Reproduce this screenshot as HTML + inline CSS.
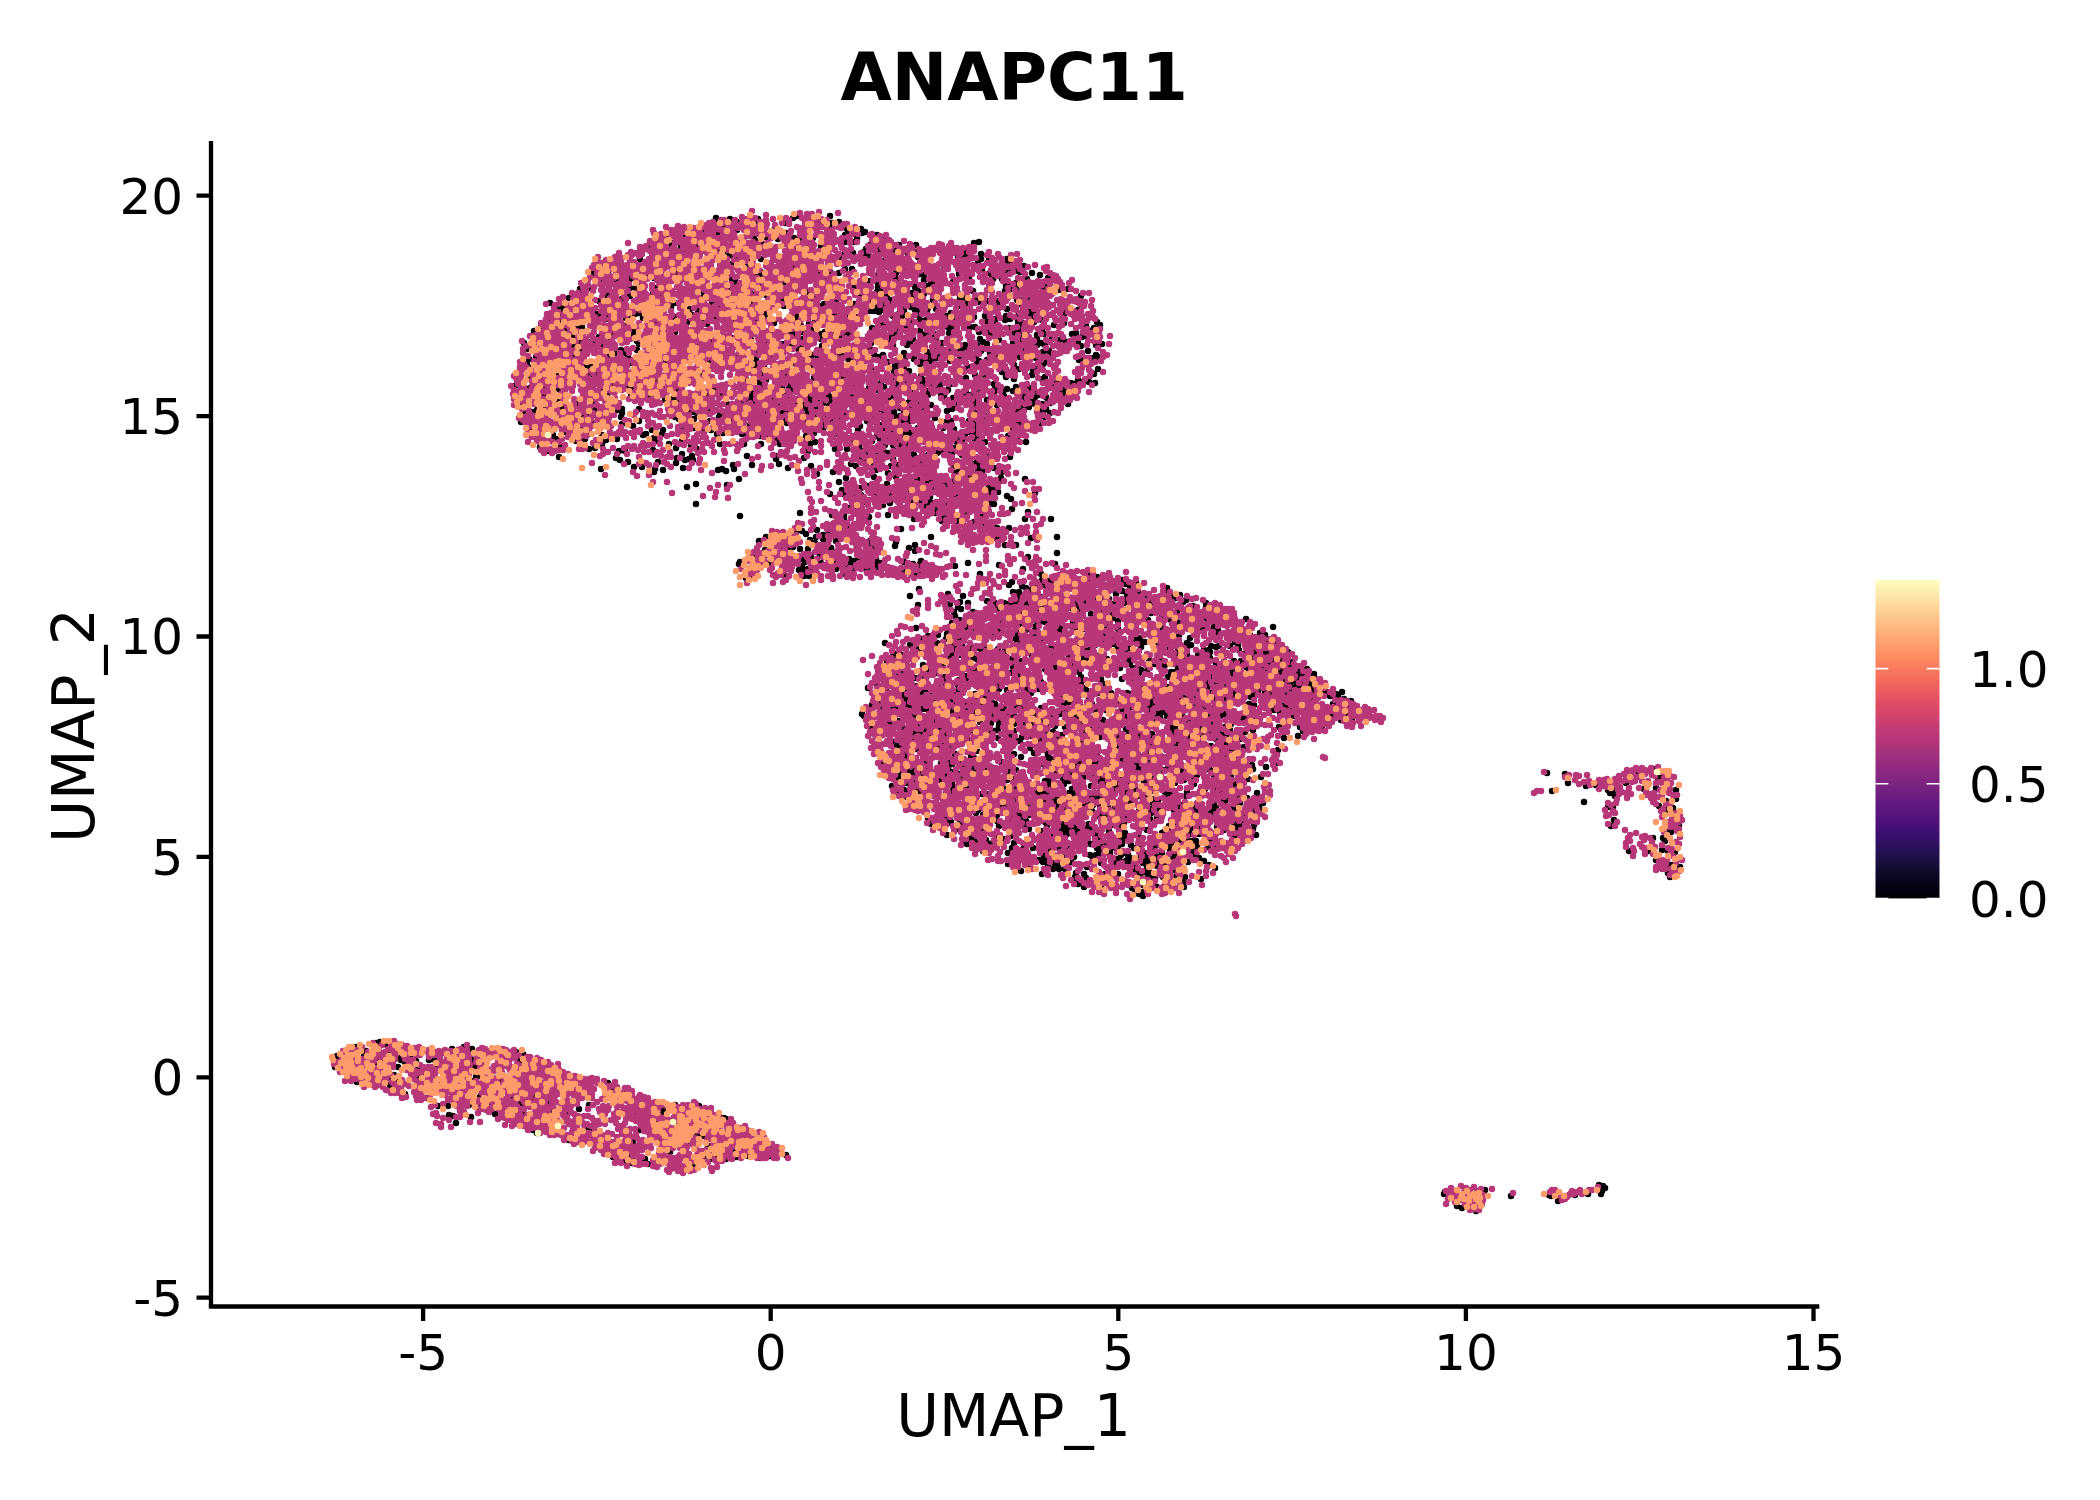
<!DOCTYPE html>
<html lang="en">
<head>
<meta charset="utf-8">
<title>ANAPC11 UMAP feature plot</title>
<style>
html,body{margin:0;padding:0;background:#fff;}
body{width:2100px;height:1500px;overflow:hidden;}
svg{display:block;}
text{font-family:"DejaVu Sans","Liberation Sans",sans-serif;fill:#000;}
.tk{font-size:50px;}
.ax{font-size:58.4px;}
.ttl{font-size:66.3px;font-weight:bold;}
.pt{fill:none;stroke-linecap:round;stroke-width:6.5;}
</style>
</head>
<body>
<svg width="2100" height="1500" viewBox="0 0 2100 1500">
<defs>
<linearGradient id="mg" x1="0" y1="1" x2="0" y2="0">
<stop offset="0" stop-color="#000004"/>
<stop offset="0.05" stop-color="#06051a"/>
<stop offset="0.1" stop-color="#140e36"/>
<stop offset="0.15" stop-color="#251255"/>
<stop offset="0.2" stop-color="#3b0f70"/>
<stop offset="0.25" stop-color="#51127c"/>
<stop offset="0.3" stop-color="#641a80"/>
<stop offset="0.35" stop-color="#782281"/>
<stop offset="0.4" stop-color="#8c2981"/>
<stop offset="0.45" stop-color="#a1307e"/>
<stop offset="0.5" stop-color="#b73779"/>
<stop offset="0.55" stop-color="#ca3e72"/>
<stop offset="0.6" stop-color="#de4968"/>
<stop offset="0.65" stop-color="#ed5a5f"/>
<stop offset="0.7" stop-color="#f7705c"/>
<stop offset="0.75" stop-color="#fc8961"/>
<stop offset="0.8" stop-color="#fe9f6d"/>
<stop offset="0.85" stop-color="#feb77e"/>
<stop offset="0.9" stop-color="#fecf92"/>
<stop offset="0.95" stop-color="#fde7a9"/>
<stop offset="1" stop-color="#fcfdbf"/>
</linearGradient>
</defs>
<rect x="0" y="0" width="2100" height="1500" fill="#fff"/>
<!-- title -->
<text class="ttl" x="1014.2" y="100" text-anchor="middle">ANAPC11</text>
<!-- points -->
<g id="points">
<path class="pt" stroke="#000004" d="M707 227h0m5 0h0m4-9h0m0 4h0m7 4h0m7-7h0m7 3h0m11 3h0m8-1h0m2-5h0m27 4h0m8-5h0m4-2h0m24 6h0m9-6h0m2 7h0m0 3h0m7-4h0m45 17h0m-7-4h0m-12-3h0m-3 1h0m-1-4h0m-4 9h0m-9-5h0m-1-4h0m-2 6h0m-15-7h0m-17 10h0m-13 1h0m-6-1h0m-8-5h0m-5 1h0m-3 5h0m-4-9h0m-8 7h0m-12-1h0m-17-6h0m-17 2h0m0 3h0m-3 0h0m-12-3h0m-8 2h0m-13 1h0m-2 0h0m-4 3h0m-10-4h0m-2 3h0m-23 11h0m7-4h0m0 2h0m3-5h0m2 2h0m3 5h0m3 2h0m3-5h0m4 2h0m3-1h0m1-3h0m8 7h0m1-4h0m3-6h0m0 10h0m7 1h0m7-5h0m5-5h0m3 7h0m12 2h0m33-4h0m5-5h0m5 2h0m34 3h0m26 0h0m24-4h0m9 0h0m12 7h0m4-4h0m8 3h0m1 3h0m15-1h0m1-2h0m4-3h0m17 0h0m24 6h0m24 0h0m10-8h0m5-1h0m28 17h0m-18 0h0m-8-5h0m0 5h0m-3 2h0m-11-7h0m-1 8h0m-3-6h0m-3 2h0m-2-1h0m-35 1h0m-5-6h0m0 5h0m-3-5h0m-7 2h0m-6 7h0m-5 2h0m-13-2h0m-15-5h0m-5-4h0m0 4h0m-11-3h0m-10 2h0m-1 3h0m-2 3h0m-29-7h0m-1 9h0m-6-4h0m-43 0h0m-13-1h0m-9 1h0m-6-3h0m-5 0h0m-3-4h0m-5 0h0m-33 6h0m-2-6h0m-45 7h0m-35 3h0m-12 9h0m4-1h0m7 2h0m4-8h0m0 9h0m22-6h0m6 0h0m41 7h0m55-10h0m15 3h0m1-2h0m2 8h0m9 1h0m2-2h0m32-5h0m4-3h0m8 1h0m7 3h0m8 4h0m6-2h0m4 2h0m9 1h0m6-4h0m7 0h0m26 6h0m10-11h0m8 6h0m0 3h0m8-3h0m7-1h0m5 4h0m4 1h0m4 1h0m8-8h0m12 1h0m15 6h0m23-4h0m8 3h0m15 0h0m3-9h0m1 5h0m3 0h0m1-5h0m4 5h0m1 2h0m2 1h0m4-6h0m8 7h0m8 2h0m12 3h0m-4 0h0m-3 8h0m-18-7h0m-7 2h0m-4 2h0m-4 4h0m-3-2h0m-3 1h0m-4-7h0m-9 0h0m-1-2h0m-23 1h0m-16 4h0m-16-2h0m-2 3h0m-4 0h0m-4 3h0m-3-6h0m-9 7h0m-19-8h0m-18 4h0m0 4h0m-9-6h0m-16 5h0m-28-7h0m-28 0h0m-5 1h0m-8 5h0m-2-3h0m-16 4h0m-5-10h0m-1 10h0m-6-10h0m-18 6h0m-3 4h0m-1-7h0m-13 5h0m-52-7h0m-6 7h0m-7-6h0m-7-1h0m-7 8h0m-10-6h0m-10 6h0m-2-5h0m-4 1h0m-4-2h0m-8 2h0m-2-2h0m-7-2h0m-24 21h0m11-9h0m2 5h0m8-6h0m16 7h0m5 0h0m11 4h0m8-11h0m0 8h0m6-8h0m17 6h0m2-6h0m5 7h0m7-5h0m29-1h0m6 2h0m2 4h0m7-3h0m2 5h0m17-6h0m2 5h0m18-4h0m4 3h0m12 0h0m17 3h0m4-6h0m17 7h0m3-7h0m7 5h0m43-9h0m3 3h0m1 4h0m3-7h0m13 4h0m5-1h0m3 4h0m2 2h0m2-7h0m12-2h0m8 5h0m3 0h0m1 4h0m5-6h0m6 3h0m36 4h0m4 0h0m9-7h0m5 6h0m27-6h0m6-2h0m5-1h0m12 11h0m15-10h0m1 9h0m15-8h0m9-1h0m13 7h0m-3 14h0m-11 0h0m-22-6h0m-15 5h0m-7 2h0m-2-11h0m-1 4h0m-3-4h0m-10 9h0m-8-5h0m-1-3h0m-10 0h0m-9 1h0m-4-2h0m-7 3h0m-2-2h0m0 5h0m-8 0h0m-22 3h0m-3-9h0m-5 8h0m-1 3h0m-8 0h0m-2-2h0m-2 1h0m-4-3h0m-1-4h0m-6 5h0m-12-8h0m-2 4h0m-5 2h0m-1-3h0m-2 7h0m-5-3h0m-3 4h0m-4-11h0m0 11h0m-11-2h0m-5-5h0m-3 2h0m-15-4h0m-8 2h0m-4 0h0m-2 2h0m-1 2h0m-10-8h0m-6 10h0m-21-4h0m-2-5h0m-17 10h0m-14-8h0m-18 7h0m-5-1h0m-10-2h0m-6-3h0m-14 6h0m-8-1h0m-15-6h0m-4 1h0m0 4h0m-1-7h0m-13 6h0m-54-3h0m-4-3h0m-19 4h0m-5 0h0m-12 2h0m-6 2h0m-7-6h0m1 18h0m9 0h0m2-8h0m10 7h0m25-6h0m2 2h0m7 3h0m2-3h0m18 2h0m3 0h0m6-4h0m4-1h0m4 5h0m12 3h0m20-4h0m13 5h0m4-7h0m13 5h0m9-3h0m3 1h0m15 3h0m24 0h0m9-6h0m9 8h0m15 0h0m7-8h0m0 5h0m3-7h0m16 7h0m20-4h0m13 0h0m9 0h0m2 1h0m20-5h0m14 4h0m6-2h0m3 2h0m2-4h0m7 10h0m8-6h0m1 4h0m6 0h0m20 0h0m1-4h0m1 2h0m3-5h0m1 8h0m2-3h0m17-6h0m3 5h0m11-1h0m2 6h0m8-3h0m0 4h0m10-3h0m1-4h0m4 3h0m8-3h0m0 5h0m3 1h0m9-6h0m2-3h0m1 6h0m1 3h0m1-10h0m7 8h0m22 3h0m1-10h0m32 9h0m3 3h0m-5 8h0m-1-5h0m-4 3h0m-4-5h0m-10 7h0m-4 1h0m-18-9h0m-10 9h0m-2-3h0m-5 4h0m-9-7h0m-1 3h0m-5-5h0m-1 9h0m-2-4h0m-1-6h0m-3 5h0m-3 3h0m-3-5h0m-19-1h0m0 8h0m-1-5h0m-10 2h0m-4-5h0m-5 0h0m-18 2h0m-2-5h0m-1 9h0m-1-6h0m-14 7h0m-8 0h0m-6-3h0m-12-3h0m-4 1h0m-7 0h0m-2 4h0m-2 2h0m-3 0h0m-4-10h0m-5 0h0m-9 3h0m-20 0h0m-2 5h0m-3 2h0m-2-10h0m-12 8h0m-8-1h0m-4 2h0m-8-6h0m0 3h0m-4-7h0m-6 8h0m-2-6h0m-6 5h0m-1 3h0m-5 0h0m-16 0h0m-66-10h0m-19 11h0m-2-3h0m-11 0h0m-27 3h0m-14-1h0m-1-4h0m-1-3h0m-1 8h0m-4-10h0m-1 5h0m-7 2h0m-6 3h0m-7-2h0m-24-6h0m-5 2h0m-12 0h0m-9-4h0m0 9h0m-6-2h0m-2-1h0m-2-7h0m-5 3h0m-7 4h0m-10 12h0m14 1h0m12-1h0m11-6h0m11 9h0m1-9h0m1 10h0m3-3h0m3-1h0m2-3h0m6 2h0m6 1h0m5-6h0m2 9h0m7-7h0m25-1h0m4 3h0m2 3h0m18-3h0m39 3h0m15-3h0m21-3h0m19 2h0m15 2h0m16 2h0m10 1h0m9 0h0m1-6h0m19 0h0m1 7h0m10-9h0m9 0h0m30 6h0m18-3h0m4 5h0m14 0h0m3-3h0m3-3h0m10-3h0m13 4h0m6 3h0m11 4h0m12-2h0m12 0h0m3-6h0m3 3h0m4 2h0m12-4h0m14 3h0m1-7h0m8 5h0m11 2h0m4-4h0m0 6h0m4-2h0m4 2h0m7-6h0m8 1h0m4 1h0m11-5h0m3 7h0m3 3h0m1-9h0m5-1h0m9 9h0m6-1h0m-4 13h0m-2-2h0m-3 3h0m-5-7h0m-36 4h0m-3-4h0m-6 1h0m-7 6h0m-14-8h0m-2 7h0m-2-3h0m-7-5h0m-1 4h0m-12 2h0m-8-2h0m-9-2h0m-5 5h0m-9-8h0m-3 1h0m-4 9h0m-1-9h0m-9 1h0m-10 5h0m-1-6h0m-1 9h0m-3-9h0m-2 10h0m-3-3h0m-3-4h0m-13 7h0m-9 0h0m-1-6h0m-21 2h0m-4 2h0m-5-3h0m-4-5h0m-3 1h0m-1 9h0m-15-8h0m0 7h0m-3 0h0m-4-10h0m-1 7h0m-3-6h0m0 5h0m-16-3h0m-6 7h0m-6-3h0m-1 4h0m-1-2h0m-11-7h0m-28 7h0m-15-6h0m0 8h0m-19-3h0m-15-1h0m-20-2h0m-16-3h0m-30-1h0m-2 2h0m-17-1h0m-9 7h0m-5-4h0m-2-3h0m-6 3h0m-6 4h0m-5-4h0m-24-1h0m-5 3h0m-22 4h0m-10-8h0m-7 6h0m-7 2h0m-2-10h0m0 15h0m6 3h0m18-1h0m15-6h0m6 1h0m14 6h0m5-2h0m11 1h0m7-6h0m7 8h0m7 1h0m8-6h0m34 5h0m1-7h0m14 3h0m28-3h0m47 7h0m1-5h0m8 4h0m23 2h0m7-6h0m9-1h0m8 3h0m20 3h0m18-7h0m4-1h0m3 6h0m2-3h0m4-2h0m11 9h0m15-8h0m5 7h0m2-3h0m3 2h0m1-5h0m5 6h0m5 2h0m11-7h0m1-4h0m5 1h0m3 3h0m3-2h0m18-1h0m16 8h0m2-2h0m9-3h0m2-3h0m8-1h0m4 0h0m23 5h0m5 4h0m14 2h0m3-2h0m7-5h0m4-2h0m32-2h0m3 0h0m16 9h0m-3 14h0m-1-9h0m-5 8h0m-6 0h0m-5-2h0m-1 3h0m-6 0h0m-13-2h0m-4 1h0m-9-5h0m-3 2h0m-10-4h0m-18 4h0m-8-2h0m-1-5h0m-3 0h0m-17 3h0m-8 6h0m-2-6h0m-9 3h0m-24 5h0m-18 0h0m-1-3h0m-2-4h0m0 7h0m-17-1h0m-3-8h0m-3 7h0m-3-1h0m-1-6h0m-13 9h0m-22-7h0m-12 7h0m-4-6h0m-2-3h0m-1 3h0m-6 3h0m-10-4h0m-3-2h0m-7 4h0m-13-1h0m-13 6h0m-2-7h0m-2-2h0m-3-2h0m-15 8h0m-3-7h0m-1 9h0m-4-1h0m-8-9h0m-4 7h0m-45-5h0m-14 4h0m-9-2h0m-19 5h0m-3-2h0m-1 3h0m-2 1h0m-5-4h0m-8 4h0m-26-6h0m-3 0h0m-5 3h0m-4 1h0m-5-8h0m-8 2h0m-6 3h0m-3-2h0m-22-2h0m-2 8h0m-14-4h0m-13-1h0m-14 9h0m15 2h0m11 1h0m2-1h0m1 7h0m4 0h0m10-6h0m43 2h0m3-1h0m4 3h0m6-7h0m8-1h0m5 0h0m4 4h0m0 5h0m3-7h0m30-1h0m1 8h0m11-5h0m26 4h0m4-3h0m2 4h0m7-5h0m7 4h0m18-7h0m13 6h0m4-1h0m3-6h0m0 9h0m11-3h0m8 1h0m3-4h0m1 5h0m2-1h0m1 2h0m3-7h0m3 4h0m22 4h0m4-3h0m10 2h0m7-8h0m7 5h0m4-5h0m4 4h0m4-4h0m2 2h0m3 6h0m7 0h0m2-2h0m1-4h0m9 2h0m6-3h0m12-3h0m13 4h0m2 6h0m3-3h0m12 2h0m2-2h0m0 4h0m4-11h0m5 2h0m2-2h0m1 3h0m1 7h0m7-4h0m3-6h0m15 9h0m5 2h0m6-5h0m4-6h0m13 0h0m0 9h0m1-4h0m8 3h0m4-3h0m6 2h0m3-4h0m14 1h0m6 5h0m2 2h0m17-11h0m7 7h0m2-5h0m0 9h0m2-5h0m2 14h0m-18-1h0m-2-2h0m-2-4h0m-3 7h0m-8-7h0m0 7h0m-2-5h0m-4 8h0m-3 0h0m-2-5h0m-1-6h0m-1 11h0m-18-11h0m-7 9h0m-6-7h0m-4 2h0m-12 1h0m0 5h0m-9-10h0m-7 4h0m-4 5h0m-2-7h0m-9-2h0m-13 9h0m-10-1h0m-4-1h0m-7-2h0m0 6h0m-2-4h0m-16-7h0m-4 3h0m-16 0h0m-7 0h0m-12-3h0m-16 11h0m-6-6h0m-1-4h0m-1 9h0m-3-10h0m-3 7h0m-5 3h0m-1-4h0m-6-4h0m-1 2h0m-2-4h0m-5 6h0m-6 2h0m-9-5h0m-2 1h0m-4-4h0m-5 9h0m-5-8h0m0 3h0m-5-1h0m-4 7h0m-9-9h0m0 10h0m-1-5h0m-2-2h0m-2-4h0m-1 4h0m0 6h0m-5-4h0m-16 2h0m-29 3h0m-7-3h0m-15-4h0m-3-1h0m-8 1h0m-15-4h0m-56 7h0m-18 0h0m-18-1h0m-12 5h0m-4-1h0m-10-8h0m-12 6h0m-3 1h0m8 7h0m7 0h0m5-2h0m22 0h0m0 8h0m3-10h0m20 9h0m7 0h0m5-7h0m2 0h0m0 5h0m21-5h0m4 7h0m1-8h0m0 4h0m17-4h0m36 8h0m4 2h0m4-10h0m7 1h0m4 2h0m0 7h0m4-5h0m3 0h0m8-6h0m10 9h0m1-4h0m4 0h0m7 6h0m19-8h0m3 5h0m1 2h0m11-5h0m0 4h0m15-4h0m4-2h0m5 2h0m16-5h0m3 1h0m0 4h0m7-4h0m1 6h0m7 4h0m3-3h0m20-1h0m9 2h0m18 0h0m7-7h0m0 2h0m3 2h0m11-2h0m2 5h0m4-9h0m0 8h0m2 2h0m2-5h0m1-3h0m2 6h0m3 0h0m13-7h0m4 7h0m8 2h0m12-7h0m5-2h0m24 2h0m8 8h0m1-3h0m32-4h0m3-2h0m21-1h0m2 3h0m2 5h0m1-8h0m4 4h0m-11 11h0m-18-1h0m-4-2h0m-5 6h0m-5-6h0m-24 1h0m-7 7h0m-2-7h0m0 5h0m-5-6h0m-15 8h0m-3-8h0m-5 1h0m-3 6h0m-15-1h0m-5-1h0m-5 2h0m-9-7h0m-4-1h0m-4 3h0m-8 8h0m-1-10h0m-8 7h0m-2-3h0m-15-4h0m-7 5h0m-2 4h0m-1-9h0m-16-1h0m-10 1h0m-7 1h0m0 4h0m-1 3h0m-11-7h0m-7 0h0m-18 1h0m-3-3h0m-12 4h0m-19 7h0m-3-6h0m-10-5h0m-10 11h0m-19-1h0m-1-9h0m-5 9h0m-11-2h0m-12 1h0m-19 1h0m-11 0h0m-2-7h0m-11-2h0m-6 5h0m-11-2h0m-30-1h0m-10 6h0m-40-4h0m-6 4h0m-7 1h0m-1-5h0m-7-3h0m31 18h0m1-5h0m3 4h0m0 3h0m8-10h0m12 9h0m9-2h0m4-5h0m13 1h0m4 5h0m11-1h0m26-4h0m3-1h0m8 4h0m3 3h0m5-7h0m20 7h0m35-7h0m6-1h0m19 1h0m2-1h0m3 1h0m13 2h0m7 1h0m10 2h0m3-5h0m26 2h0m2 6h0m6-9h0m1 9h0m21-8h0m17 6h0m19 1h0m5-5h0m3 3h0m7-2h0m2 3h0m8 0h0m6-5h0m3-2h0m2 10h0m1-11h0m3 2h0m13 5h0m2-5h0m15 2h0m15 6h0m1-4h0m4 3h0m3-7h0m5-2h0m4 0h0m1 9h0m2-3h0m8 4h0m23-6h0m6-4h0m3 7h0m9 3h0m-45 7h0m-3-5h0m-6 4h0m-10-2h0m0 9h0m-7-7h0m-2 4h0m-4 0h0m-6 0h0m-3-1h0m-3 2h0m-3 2h0m-6 0h0m-14 0h0m-3-2h0m-7-1h0m-1-7h0m-3-1h0m0 3h0m-4 4h0m-3-6h0m-5 8h0m-3-8h0m-1 7h0m-3-6h0m-4 7h0m-10 0h0m-7-3h0m-1-4h0m-12 3h0m-12 0h0m-25-5h0m-2 7h0m-28-7h0m-19 0h0m-17 0h0m-24 0h0m-23 5h0m-6-4h0m-9 9h0m-6-6h0m-7-4h0m-16 6h0m-28 1h0m-6 0h0m-17-7h0m-7 4h0m-6 1h0m-29-3h0m-12 5h0m-3-7h0m-5 3h0m19 10h0m57 1h0m4 2h0m8 2h0m6 5h0m8 0h0m16-5h0m18 1h0m1-5h0m8 2h0m4-1h0m3-3h0m1 4h0m40 5h0m14-9h0m5 9h0m24-9h0m0 3h0m3 5h0m25-6h0m7 8h0m40-2h0m5 2h0m5-8h0m4 3h0m8 6h0m1-4h0m4-7h0m13 10h0m2-7h0m4 6h0m17 1h0m7-5h0m1 2h0m12 1h0m20 2h0m13-7h0m7 5h0m3-2h0m0 4h0m2 0h0m6-7h0m2-3h0m23 1h0m15 22h0m-23-7h0m-1 6h0m-7-10h0m-11 2h0m-3-1h0m-2 3h0m-6-4h0m-1 9h0m-5-1h0m-7-7h0m-4 4h0m-27 3h0m-3-8h0m-11 0h0m-18 9h0m-8-4h0m-12-3h0m-2 7h0m-28 1h0m-13-6h0m-16 2h0m-29-6h0m-49 11h0m-5-10h0m-8 2h0m-4-2h0m-4 1h0m-35-2h0m-20 2h0m-8-1h0m-1 3h0m-53-3h0m86 18h0m9-3h0m31 1h0m112-3h0m3 8h0m19-2h0m7-2h0m19-2h0m19 0h0m4 0h0m7-4h0m3 0h0m6 2h0m4 0h0m3 7h0m1-3h0m12-1h0m1-3h0m5 0h0m3 1h0m8-3h0m6 0h0m9 9h0m10 1h0m1-4h0m4 3h0m7-8h0m35 12h0m-24 6h0m-4-3h0m-9-4h0m-8 3h0m-1 6h0m-11-9h0m0 8h0m-15-4h0m0 3h0m-6-3h0m-11 7h0m-15 0h0m-1-6h0m-2 6h0m-8 0h0m-9-2h0m-4-9h0m-2 5h0m-13-3h0m-2 9h0m-6-10h0m-7 3h0m-1-3h0m-2 2h0m-8 7h0m-5-7h0m-3 7h0m-5-6h0m-10-2h0m-13 0h0m-134 10h0m104 9h0m32 2h0m12 0h0m4-7h0m5-3h0m4 4h0m22-5h0m4 1h0m5 10h0m37-9h0m10 7h0m2-6h0m7 8h0m21-2h0m17 2h0m1-9h0m7-2h0m4 0h0m18 5h0m16 3h0m23 7h0m-26 0h0m-31 8h0m-11-1h0m-9-4h0m-2 2h0m-13-5h0m-2 5h0m-15-3h0m-28-2h0m-45-2h0m-20 10h0m-5-8h0m-104-3h0m26 21h0m30-5h0m6-1h0m4 3h0m10 3h0m1-7h0m6 5h0m0 4h0m6-6h0m14-5h0m58 1h0m30 8h0m53 2h0m12-1h0m1-10h0m1 10h0m11-10h0m22 10h0m26-1h0m-41 8h0m-11 0h0m-90 0h0m0 6h0m-6-3h0m-13-6h0m-1 4h0m-21 2h0m-3-2h0m-1-5h0m-13 6h0m-21-6h0m-5 7h0m-6-6h0m-10 1h0m-5-3h0m-2 9h0m-8 0h0m-7-2h0m-5 0h0m-1-2h0m-5 4h0m-17 1h0m-6-9h0m-19 21h0m11-7h0m5 0h0m12 8h0m8-3h0m26-1h0m3 3h0m6-5h0m9-2h0m1 8h0m14-2h0m14-2h0m4 2h0m5-1h0m15-3h0m3 2h0m0 4h0m4 0h0m24-1h0m17-1h0m47 2h0m60-6h0m29-4h0m-2 11h0m-14 10h0m-18-5h0m-24-4h0m-19 9h0m-25-8h0m-26 2h0m-8 0h0m-1-4h0m-1 8h0m-1 2h0m-4 1h0m-1-11h0m-9 8h0m-27-5h0m-2 4h0m-7-2h0m-4-1h0m-10 0h0m-4-3h0m-5 1h0m0 8h0m-9-5h0m-24 0h0m-4 0h0m-1 5h0m-2-3h0m-2 2h0m-1-7h0m-3 4h0m-60-6h0m7 14h0m5-2h0m34 0h0m19 0h0m5 0h0m200 9h0m3-3h0m10 4h0m13 0h0m7-6h0m1 5h0m5-4h0m4 2h0m10 2h0m7-6h0m5 2h0m11 0h0m3-5h0m1 3h0m3-3h0m5 1h0m6 10h0m13-5h0m6-2h0m1 3h0m2 1h0m5 2h0m6-4h0m44 13h0m-4 3h0m-3 1h0m-2-4h0m-4-7h0m-2 6h0m0 3h0m-4 2h0m-16-2h0m-5-3h0m-5-3h0m-5-1h0m-3 4h0m-1 5h0m-4-8h0m-6 3h0m-7 5h0m-5-2h0m-6-3h0m-2 4h0m-10 1h0m-4-4h0m-34-6h0m-8 8h0m-7-2h0m-2-5h0m-5-2h0m-7 4h0m0 3h0m-3-2h0m-3-1h0m-50 4h0m-15-2h0m-29-5h0m-9 7h0m8 9h0m32-1h0m8 3h0m2-5h0m1 7h0m7-6h0m19-2h0m8 2h0m2 6h0m7-6h0m4 1h0m6 0h0m3 0h0m2-4h0m1 11h0m3-1h0m1-4h0m3-6h0m0 5h0m1 4h0m2-4h0m5-5h0m1 11h0m3-2h0m3-2h0m6 4h0m6-5h0m9 3h0m10 0h0m3-9h0m0 5h0m2 3h0m3 2h0m4-6h0m17-4h0m1 11h0m5-5h0m5-2h0m12-1h0m3 2h0m10-2h0m3 7h0m8-8h0m2-1h0m0 3h0m6-1h0m26-1h0m3-2h0m7 6h0m13-3h0m0 4h0m7-1h0m33 13h0m-42 1h0m-19-3h0m-6 6h0m-2-11h0m-1 8h0m-5 0h0m-9-4h0m-11-3h0m-3 7h0m-30 1h0m-5-3h0m-2-3h0m-20-1h0m-18 8h0m-28 0h0m-3-1h0m-6-1h0m-13-5h0m-2-1h0m-15 8h0m-6 1h0m-5-5h0m-2 5h0m-7-7h0m-13-4h0m-4 6h0m-1 5h0m-8-3h0m-5-4h0m-1-4h0m-2 11h0m-36 5h0m22 7h0m9-1h0m1-3h0m8 1h0m8-3h0m3-3h0m4 4h0m7 2h0m12-4h0m3 6h0m7-4h0m15 5h0m3-4h0m1-7h0m7 6h0m9 0h0m0 5h0m1-9h0m23 5h0m1-4h0m15 3h0m9-1h0m20 6h0m1-7h0m3-4h0m10 5h0m43-1h0m2 0h0m16 7h0m21-7h0m3 0h0m11-1h0m3 7h0m1-5h0m24 6h0m8 0h0m10-2h0m5 2h0m8-8h0m3 16h0m-1-3h0m-5 2h0m-2-3h0m-3 2h0m-27 4h0m-3-3h0m-5 4h0m-11 0h0m-3 1h0m-5-1h0m-20-1h0m-1-7h0m-2 8h0m-1-3h0m-19 4h0m-7 0h0m-3-2h0m-5-3h0m-8 0h0m-4 0h0m0 5h0m-1-9h0m-5 2h0m-21 4h0m-1-5h0m-3-3h0m-8 4h0m-6 1h0m-1 4h0m-11-8h0m-6 8h0m-27 2h0m-8-9h0m-25-2h0m0 6h0m-2-3h0m-46 8h0m-8-1h0m-1-9h0m-3 5h0m-1-3h0m0 6h0m-3 2h0m-1-5h0m-7-3h0m-9 4h0m-9-7h0m0 4h0m-6-1h0m-5 8h0m-7-2h0m-25-2h0m8 13h0m5-3h0m2 1h0m21-5h0m1 2h0m27 7h0m2-3h0m4-3h0m4 3h0m11-5h0m3 8h0m4 1h0m2-11h0m2 8h0m1-5h0m4-3h0m12 1h0m1 4h0m6-2h0m7 8h0m20-4h0m13 3h0m3-8h0m0 6h0m5-2h0m3-1h0m13 2h0m11 1h0m2 3h0m1-3h0m1-6h0m5 0h0m1 7h0m2-2h0m8 0h0m7 4h0m11-10h0m7 2h0m4-3h0m1 10h0m19 1h0m19-9h0m10 0h0m0 3h0m6 5h0m3-3h0m11 0h0m6-5h0m5 0h0m1 2h0m0 6h0m13-5h0m16-3h0m5 4h0m8-4h0m1 7h0m3-6h0m9 1h0m3 2h0m2-3h0m4 8h0m1-3h0m13-4h0m19 17h0m-9 0h0m-1 2h0m-5-9h0m-3 4h0m-8-5h0m0 8h0m-10-6h0m0 4h0m-2-1h0m-4 3h0m-3-2h0m-7 2h0m-6 2h0m-2-8h0m-1 4h0m-5-6h0m-7 0h0m-1 10h0m-11-2h0m-6-5h0m-10-2h0m-3 7h0m-2-4h0m0 6h0m-16-5h0m-7 2h0m-13-3h0m-4-5h0m-6 4h0m-8 7h0m-6-1h0m-3-3h0m-5 1h0m-3-4h0m-2-3h0m-8 7h0m-11-4h0m-8 1h0m-1-3h0m-15-2h0m-12 5h0m-3-4h0m-2 2h0m-7-2h0m-5 4h0m0 4h0m-11 0h0m-25-8h0m-7 6h0m-13-6h0m-5 9h0m-20 0h0m-5 0h0m-1-4h0m-26-2h0m-14 4h0m-6-3h0m-36-3h0m-1 6h0m2 15h0m8-10h0m0 3h0m8-3h0m5 10h0m6-5h0m6-2h0m6-3h0m10 0h0m7 4h0m1 3h0m9-8h0m5 8h0m6-4h0m3 5h0m6 1h0m3-7h0m8 5h0m6-7h0m7 10h0m13-10h0m7-1h0m1 10h0m2-6h0m20 6h0m17-2h0m7-6h0m14-2h0m2 5h0m0 6h0m20-4h0m21 0h0m10-5h0m0 7h0m7-8h0m29 4h0m3-5h0m4 0h0m4 3h0m2-2h0m3 1h0m4 4h0m11 1h0m8 4h0m5-6h0m5-4h0m14 0h0m3 4h0m2 5h0m17-10h0m11 2h0m2 7h0m4 2h0m9-11h0m0 9h0m3-8h0m1 7h0m2 3h0m2-6h0m1 6h0m5-2h0m4-7h0m0 7h0m1-2h0m3-5h0m0 3h0m0 4h0m2-6h0m4-2h0m2 8h0m2-5h0m3-2h0m1 5h0m27 13h0m-6 2h0m-9-2h0m-5 0h0m-6 1h0m-2-3h0m-2-2h0m-3-3h0m-8 2h0m-5 0h0m-4 1h0m-2-4h0m-1 7h0m-3 1h0m-2 3h0m-12-8h0m-1 5h0m-6-1h0m-7 0h0m-2 3h0m-4-1h0m-18-1h0m-6-1h0m-4-4h0m-7-3h0m0 9h0m-4 2h0m-2-2h0m-4-5h0m-7 3h0m-4-1h0m-12 4h0m-14-2h0m-3-5h0m-11 4h0m-3-1h0m-11 5h0m-1-9h0m-3 7h0m-8 1h0m-3-1h0m-16 0h0m-7-9h0m-6 9h0m-11-2h0m-2-3h0m-17-4h0m-21 2h0m-8 3h0m-8 4h0m-1-7h0m-2 4h0m-3-4h0m-1 3h0m-17 1h0m-8-1h0m-3 0h0m-7 2h0m-14 3h0m-17-9h0m0 6h0m-2 2h0m-13-8h0m-5 2h0m-8 6h0m-5-4h0m-4 2h0m0 3h0m-4-8h0m-12 4h0m-2 4h0m-12 1h0m-4-3h0m-10-8h0m-9 4h0m4 17h0m8-1h0m6 2h0m6-9h0m3 10h0m7-10h0m3 1h0m0 3h0m1 5h0m1-3h0m5 4h0m23-5h0m17-2h0m3 3h0m5-4h0m6 4h0m7 0h0m4-4h0m3 5h0m3 1h0m3-9h0m0 3h0m2 8h0m1-9h0m2 2h0m1 3h0m3 1h0m21 3h0m2-1h0m2-8h0m3 9h0m6-2h0m32-9h0m1 8h0m5-1h0m5-1h0m6 0h0m3 5h0m8-9h0m3 6h0m27-3h0m12 6h0m7-6h0m2 6h0m1-3h0m8-1h0m3-4h0m0 2h0m0 6h0m1-4h0m3 1h0m7-4h0m5 2h0m2 3h0m8-6h0m5-1h0m2 7h0m2-7h0m7 1h0m2 6h0m19-4h0m9-2h0m4-2h0m6 0h0m15 7h0m2-7h0m3 8h0m14-8h0m5 10h0m9-3h0m5 3h0m2-2h0m7-2h0m11 4h0m5-8h0m2 5h0m7 3h0m9-11h0m3 8h0m5-7h0m6 2h0m7 2h0m0 5h0m27 13h0m-21-11h0m0 6h0m-9 0h0m-15 3h0m-1-2h0m-4-6h0m-3 7h0m-11-5h0m-5 4h0m-15 1h0m-2-8h0m-12 5h0m-6-3h0m-21 9h0m-2-6h0m-5 4h0m-4 0h0m-16-3h0m-3 0h0m-3 2h0m-8-7h0m-2 6h0m-3-4h0m-3-2h0m-8 7h0m-6-6h0m-8 6h0m-5-6h0m-2 6h0m-3 1h0m-4-3h0m-1 2h0m-1-7h0m-1 2h0m-3 1h0m-1-2h0m-1 4h0m0 4h0m-4-5h0m0 4h0m-7-9h0m0 3h0m-22 6h0m-4-9h0m-2 3h0m-15-1h0m-9-2h0m-1 4h0m-13 2h0m-6 3h0m-4 0h0m-6-7h0m-4 2h0m-3 2h0m-8 4h0m-11-10h0m0 11h0m-4-6h0m-1 4h0m-13-8h0m-9 6h0m-2 3h0m-4-4h0m-4-6h0m-3 1h0m-6-1h0m-4 7h0m-7-4h0m-5 5h0m-2-7h0m-2 5h0m-6 1h0m-2-7h0m-1 3h0m-6 6h0m-6-7h0m-1 2h0m-3-1h0m0 4h0m-24-6h0m-4 0h0m-6 6h0m-1-5h0m-4 6h0m-1-8h0m-3 4h0m-15-4h0m-11 1h0m-17 7h0m-2-2h0m8 12h0m3 1h0m15-4h0m5 2h0m6-4h0m4 7h0m12 3h0m1-8h0m2 8h0m1-6h0m7 5h0m7-10h0m1 3h0m1-2h0m5 8h0m4-9h0m5 10h0m25 1h0m6-9h0m11 1h0m3 8h0m4-1h0m1-8h0m0 4h0m15-2h0m0 7h0m8-5h0m3-4h0m0 3h0m2-5h0m5 1h0m2 4h0m4 5h0m4-9h0m6 5h0m7 0h0m10 1h0m11-2h0m4 2h0m3-3h0m1 6h0m8-2h0m7 0h0m4-8h0m13 5h0m3-4h0m7 8h0m6 0h0m4 0h0m18-9h0m16 5h0m0 3h0m4 1h0m1-3h0m4 4h0m1-6h0m9-3h0m10 9h0m1-4h0m1-6h0m6 0h0m1 10h0m5-8h0m4 5h0m2 4h0m6-4h0m5 3h0m1-6h0m13-4h0m9 10h0m26-3h0m21 0h0m3 4h0m6-11h0m0 11h0m13-3h0m19-8h0m11 0h0m-54 16h0m-14 2h0m-39-6h0m-5 7h0m-14-3h0m0 7h0m-3-10h0m-7 6h0m-4-7h0m-9 1h0m-2 3h0m-2 5h0m-11-5h0m-9 6h0m-3 0h0m-1-4h0m-1-4h0m-22 0h0m0 5h0m-4-1h0m-1 5h0m-5-3h0m-3-5h0m-8 0h0m-2-3h0m-12 4h0m-2 4h0m-15-3h0m-17-4h0m0 9h0m-21-7h0m-4 2h0m-5-5h0m-8 1h0m-5 7h0m-9-4h0m-9 1h0m-2 4h0m-3 0h0m-6-6h0m-3 1h0m-1 7h0m-9-5h0m-9-6h0m-20 8h0m-5-3h0m-15 0h0m-3-2h0m0 7h0m-15-7h0m-1 1h0m-6 6h0m-1-10h0m-2 3h0m-7 0h0m-1 3h0m-11-1h0m-2 3h0m-2 3h0m-4-1h0m-14-6h0m17 9h0m2 8h0m3-6h0m2 5h0m5-8h0m8 5h0m4-1h0m5 1h0m7-5h0m0 3h0m5 0h0m5-3h0m8 2h0m4 8h0m22-3h0m37 3h0m16-6h0m4 5h0m13-2h0m1 4h0m37-1h0m2-4h0m5 5h0m1-7h0m4 5h0m19-6h0m1-3h0m8 0h0m3 0h0m10 11h0m11-10h0m0 7h0m2 3h0m1-11h0m24 2h0m3 1h0m10-2h0m22 1h0m9 4h0m0 3h0m7-8h0m5 6h0m12-4h0m34 3h0m-1 13h0m-11 4h0m-14-2h0m-16-7h0m-11-2h0m-4 5h0m-8-3h0m-16 4h0m-15-6h0m-20 1h0m-3 0h0m-4 0h0m-2 10h0m-3-8h0m-1 4h0m-6-6h0m-6 6h0m-13-6h0m-1 5h0m-2-4h0m-11 5h0m-8-2h0m-3-1h0m-3 3h0m-3-1h0m0 3h0m-12-4h0m-4 2h0m-23 4h0m-2-8h0m-1 6h0m-5-6h0m-3 5h0m-22-7h0m-14 8h0m-6-3h0m-27-4h0m-3-1h0m-6 9h0m-5-4h0m-8 2h0m-1-4h0m-2 5h0m-1-3h0m-5-4h0m-2 5h0m-14 0h0m-22-6h0m-8 5h0m-13 0h0m5 8h0m8 8h0m3-2h0m1-6h0m6 0h0m2 3h0m3 0h0m2-4h0m0 6h0m7-1h0m2 3h0m2-8h0m4 6h0m8-1h0m6-6h0m2 10h0m2-3h0m2-4h0m2 1h0m8 2h0m2 3h0m12-8h0m2 2h0m2 7h0m6 0h0m2-9h0m4 3h0m4-4h0m14 5h0m2-3h0m5 9h0m2-9h0m21 2h0m13-1h0m3 8h0m3-7h0m7 2h0m7 0h0m7-5h0m1 6h0m6 2h0m1-8h0m5 1h0m3 5h0m7 1h0m2 2h0m18-1h0m10-6h0m4 4h0m4-6h0m3 1h0m2 2h0m9 7h0m11-9h0m5-2h0m13 1h0m0 3h0m13 5h0m3-2h0m13-5h0m4 6h0m5 0h0m5-1h0m7 1h0m17 3h0m5-10h0m8 8h0m286-4h0m18 1h0m71 0h0m17-5h0m5 9h0m3 0h0m15 12h0m-20-2h0m-12 1h0m-18-6h0m-11 8h0m-7-1h0m-12-5h0m-10 1h0m-18-3h0m-16 8h0m-314-4h0m-2 1h0m-1-4h0m-10 1h0m-2 1h0m-3 5h0m-2-10h0m-2 6h0m-11 2h0m-11-5h0m-10-4h0m-9 3h0m-6 4h0m-12-3h0m-3 3h0m-1 4h0m-9-11h0m0 3h0m-9 5h0m-1 2h0m-3-1h0m-3-6h0m-7 5h0m-2-7h0m0 4h0m-4 2h0m-1 4h0m-2-6h0m-5-1h0m-3-3h0m-4 0h0m-9 5h0m-12-1h0m-7 4h0m-3-8h0m-5 3h0m-1-4h0m-12 5h0m-2-4h0m-1 6h0m-3-6h0m-8 10h0m-18-9h0m-4 6h0m-8-8h0m-2 9h0m-8 0h0m-28-4h0m-3 3h0m-3 1h0m-6-1h0m-4 0h0m-1-4h0m-13-4h0m-3 11h0m-8-8h0m-6 0h0m-4 7h0m-2-6h0m-1 5h0m-2-7h0m-6-2h0m0 3h0m-3 7h0m-2-2h0m-2-8h0m-1 3h0m-7 3h0m7 6h0m5 5h0m2-4h0m15 0h0m23 7h0m2-7h0m6 0h0m15 2h0m15-1h0m5 0h0m2 4h0m11 2h0m11-2h0m4 2h0m22-6h0m1 7h0m4-6h0m0 7h0m1-9h0m2 1h0m0 7h0m1 2h0m1-11h0m6 8h0m2 3h0m3-6h0m4 6h0m4-4h0m3-6h0m2 9h0m3-10h0m0 4h0m7-3h0m7 6h0m0 3h0m4-6h0m3 1h0m3 2h0m1-5h0m3 3h0m24-5h0m3 11h0m2-2h0m8-5h0m9-1h0m5 8h0m1-4h0m4 2h0m7-9h0m1 5h0m4-5h0m0 3h0m16 1h0m1-4h0m35 8h0m3 0h0m1-6h0m2 4h0m9 0h0m2-3h0m1 8h0m7-5h0m10-5h0m6 10h0m321-1h0m26-9h0m5 3h0m51 5h0m10-2h0m-3 9h0m-7 2h0m-7-4h0m-46 2h0m-5-1h0m-348 3h0m-1-4h0m-5 6h0m-2-4h0m-12 2h0m-3 1h0m-1-3h0m-2 4h0m-1-4h0m-8-4h0m-9 4h0m-2-4h0m-1 6h0m-2 3h0m-12-2h0m-5-4h0m0 3h0m-11 1h0m0 2h0m-3-8h0m-1 5h0m-5 0h0m-16-1h0m-4 3h0m-3 1h0m-1-4h0m-11 2h0m-19-3h0m-5-1h0m-7 0h0m-5 0h0m-1 7h0m-2-8h0m-7-1h0m-1 6h0m-4-1h0m-2-5h0m-3 10h0m-2-10h0m-12 2h0m-4 3h0m-8 1h0m-1-5h0m-10 1h0m-16-1h0m-1 9h0m-9-2h0m-4 1h0m-3-5h0m-7-3h0m-2-2h0m-3 1h0m-4 10h0m-3-8h0m-11 8h0m-5-5h0m-2 3h0m-9-1h0m-45-8h0m-6 0h0m12 14h0m3 3h0m0 3h0m7-5h0m5-1h0m4 2h0m1 3h0m1-2h0m2 1h0m9-1h0m3 5h0m5-4h0m18-1h0m11 0h0m2 5h0m8-1h0m3-4h0m2-3h0m9 0h0m1 2h0m4 1h0m0 4h0m19-3h0m2 4h0m7-8h0m8 8h0m2-4h0m3 3h0m6 2h0m2-8h0m11 8h0m3-3h0m10-8h0m8 0h0m4 9h0m9-8h0m2 7h0m2-1h0m1-7h0m25 3h0m7-1h0m12 8h0m8-1h0m3-8h0m6 8h0m3-3h0m2 4h0m10-10h0m0 11h0m16 0h0m1-6h0m9-5h0m6 0h0m1 10h0m1-3h0m2 3h0m2-1h0m3-2h0m3-7h0m9 9h0m357 1h0m3-6h0m65 5h0m-8 7h0m-3 0h0m-5 6h0m-10 0h0m-397-3h0m-3-6h0m-16 7h0m-1-7h0m-2 7h0m-10-6h0m-25 4h0m-6-6h0m-4 2h0m0 4h0m-5-6h0m-11 11h0m-1-9h0m-4 0h0m-4 2h0m-2 1h0m-5 3h0m-10-6h0m-9 5h0m-13-2h0m0 4h0m-4-9h0m-1 9h0m-11-6h0m-10 7h0m-4-6h0m0 3h0m-4-5h0m-11 1h0m-1-3h0m-3 2h0m0 5h0m-7-3h0m-1-3h0m-1 5h0m-3-6h0m0 5h0m-4-4h0m0 3h0m-6 3h0m-13-4h0m-12-2h0m-18 7h0m-7 3h0m-7-5h0m0 3h0m-13-6h0m0 5h0m-2-7h0m-12 8h0m-11-8h0m-12 6h0m17 7h0m3 2h0m2-2h0m1-2h0m3 0h0m4 2h0m0 5h0m6 4h0m1-9h0m1 7h0m1-9h0m4 4h0m3-1h0m5-3h0m14 8h0m2-5h0m10 4h0m9 1h0m14 0h0m1 3h0m3-1h0m8-2h0m6-6h0m4 5h0m0 4h0m19-8h0m3 1h0m6 4h0m2 2h0m3-6h0m3 2h0m5 4h0m6-2h0m2-2h0m4-5h0m0 3h0m9 1h0m3 3h0m6-2h0m12 3h0m3-3h0m8-5h0m4 4h0m3 5h0m2-5h0m4-3h0m3 1h0m3-2h0m5 6h0m1-7h0m5 1h0m0 10h0m2-3h0m1-7h0m1 5h0m11 1h0m3-7h0m4 4h0m414 7h0m19 0h0m14-1h0m3-9h0m3 10h0m7 1h0m-19 8h0m-452 1h0m-5-3h0m-3-3h0m-8 7h0m-11-8h0m-4 0h0m0 3h0m-11-4h0m-4 8h0m-2-5h0m-6 7h0m-2-2h0m-1-3h0m-3-5h0m0 7h0m-1 3h0m-3-5h0m-7 1h0m-3-1h0m0 5h0m-2-9h0m0 4h0m-2-5h0m0 8h0m-5-6h0m-1 6h0m-3 0h0m-1-2h0m-6-5h0m-9 9h0m-2-9h0m-3 1h0m-3 3h0m-3-3h0m-16 2h0m-3 5h0m-7-7h0m-5 8h0m-5-3h0m-7 0h0m-3-1h0m-1-5h0m0 8h0m-4-2h0m-7-1h0m-7-5h0m-17-1h0m0 11h0m13 7h0m8-5h0m13 8h0m6-9h0m5 4h0m2-4h0m4 4h0m6 0h0m11 4h0m8 1h0m3-7h0m18 7h0m6-4h0m4-6h0m3 10h0m7-9h0m9 6h0m1-6h0m0 3h0m3 5h0m2 2h0m4-3h0m2-8h0m1 3h0m2 5h0m0 3h0m8-9h0m8-2h0m10 6h0m34-5h0m6 3h0m453-1h0m0 6h0m3-8h0m9 2h0m-10 10h0m-469 2h0m-16-2h0m-1 10h0m-1-5h0m-6-6h0m-5 3h0m-2 7h0m-7-9h0m-6 10h0m-2-9h0m-1 6h0m-2-8h0m-4 1h0m-5 8h0m-5-3h0m-52-4h0m-2 9h0m-6-3h0m-3-7h0m-1 4h0m28 8h0m30-1h0m3 5h0m4 1h0m4-2h0m0 4h0m-767 147h0m4-1h0m143 12h0m-7-2h0m-20-3h0m-24 0h0m-8-2h0m-12 2h0m-4 3h0m-59 1h0m-2-8h0m-21 6h0m-10-4h0m-21 20h0m2-11h0m4 9h0m13-1h0m1-6h0m9-2h0m13 7h0m0 4h0m1-8h0m4 1h0m16-2h0m0 9h0m3-7h0m4 2h0m7-5h0m4 4h0m13-1h0m6 0h0m1 7h0m29-3h0m6-5h0m2 3h0m11 3h0m17 2h0m15-11h0m4 3h0m3 3h0m1-6h0m12 6h0m13 3h0m32 14h0m-80 0h0m-21-3h0m-4-8h0m0 9h0m-3-9h0m-8 10h0m-43-4h0m-4-6h0m0 9h0m-24-2h0m-3 4h0m-2-1h0m-12-8h0m-9 5h0m-11 7h0m10-2h0m13 3h0m10 2h0m2 3h0m4-7h0m24 4h0m19-3h0m3 8h0m21 0h0m8-9h0m0 8h0m9 2h0m21-8h0m6 7h0m27-9h0m28 2h0m10-2h0m3 0h0m0 6h0m1 3h0m7-6h0m0 4h0m25-5h0m5 4h0m25 14h0m-4 0h0m-8-9h0m-76 9h0m-16-6h0m-1-2h0m0 8h0m-5-2h0m-7 2h0m-8-4h0m-9 4h0m-4-1h0m-1-2h0m-14-5h0m-2 2h0m-3 2h0m-8 1h0m-15-5h0m-30 5h0m-22-4h0m33 12h0m10 0h0m1 9h0m20-10h0m9 2h0m12-2h0m5 9h0m25-10h0m2 2h0m1 7h0m28-2h0m11-2h0m6 4h0m11-4h0m10-4h0m48 10h0m24-2h0m3-4h0m11-4h0m24 1h0m27 13h0m-2-1h0m-3 4h0m-2-6h0m-25 1h0m-2 7h0m0 3h0m-14-2h0m-5 0h0m-5 2h0m-12-6h0m-12-2h0m-115-2h0m-58 0h0m-15 6h0m-3-7h0m80 14h0m4 3h0m36 6h0m5-1h0m4-2h0m3-6h0m5 0h0m50 0h0m14-2h0m11 10h0m1-7h0m2 4h0m10 0h0m16-1h0m5 1h0m4 1h0m16-4h0m6 2h0m5-3h0m15 8h0m4 0h0m29 11h0m-7-2h0m-6 0h0m-11-3h0m-8 5h0m-12-3h0m0 3h0m-7-8h0m-3 8h0m-15-1h0m-1-3h0m-21-3h0m-21-2h0m-5-1h0m-1 3h0m-27-1h0m-12 8h0m-2 0h0m-50-10h0m44 17h0m9 1h0m1 2h0m3 1h0m3-5h0m0 7h0m3-5h0m0 5h0m13-4h0m25-7h0m35 4h0m5 3h0m8-2h0m8 2h0m5-6h0m5 4h0m12-1h0m12 2h0m10-2h0m5-3h0m11 2h0m-92 10h0m-46-1h0m951 21h0m4 1h0m2 2h0m-3 3h0m-1 3h0m-13 0h0m-13 1h0m-24 1h0m-2-1h0m-38 1h0m-26-6h0m-40 2h0m-1 2h0m13 12h0m5 2h0m14 3h0m82-10h0"/>
<path class="pt" stroke="#b73779" d="M838 213h0m-19-1h0m-7 2h0m-5 0h0m-7-1h0m-34 2h0m-14-4h0m-86 16h0m12-1h0m6 1h0m18 0h0m4-2h0m3-2h0m1 3h0m1-2h0m2-2h0m3 4h0m2-1h0m3-5h0m2 3h0m1-3h0m8 4h0m2 3h0m1-7h0m2 5h0m3 0h0m2-8h0m0 6h0m3-4h0m1 7h0m2-6h0m1 2h0m3-3h0m3-1h0m1 9h0m4-5h0m3 0h0m3-2h0m1 4h0m6-5h0m2 6h0m7-2h0m4-5h0m3 2h0m0 4h0m8 3h0m5-9h0m3 1h0m0 4h0m0 4h0m3-9h0m0 8h0m2-10h0m1 5h0m4-1h0m0 5h0m3 0h0m3-6h0m1 8h0m4 0h0m1-7h0m8 6h0m3 1h0m4-1h0m2-2h0m3 0h0m8 3h0m31 8h0m-6 1h0m-5 2h0m-3-4h0m-2 1h0m-12-1h0m-3-2h0m-3-1h0m0 3h0m-4 3h0m-6 1h0m-1-10h0m-7 6h0m-1 5h0m-1-9h0m-1 6h0m-2-3h0m-2-2h0m-1 7h0m-1-2h0m-2 3h0m-2-5h0m-4-3h0m-1 4h0m-2-7h0m-7 6h0m-1-5h0m-2 3h0m0 5h0m-2-9h0m-2 3h0m0 4h0m-9-4h0m-1 3h0m-2 3h0m-5-1h0m-1 2h0m-2-7h0m-2 4h0m-7 3h0m-1-3h0m-4-7h0m-1 6h0m-6-2h0m0 2h0m-4-1h0m-3-2h0m-2-3h0m0 5h0m0 3h0m-5 1h0m-1-7h0m-6-2h0m-3 10h0m-1-4h0m-2-3h0m-1 3h0m-1 5h0m-2-11h0m0 6h0m0 2h0m-2 2h0m-2-8h0m-1 4h0m0 3h0m-2-7h0m-2-2h0m0 10h0m-2-9h0m-1 9h0m-2-1h0m-1-7h0m0 3h0m-2 5h0m-1-8h0m0 4h0m-1-2h0m-2-2h0m0 5h0m-1 4h0m-3-4h0m-3-5h0m-1 5h0m-3 2h0m-2-9h0m0 3h0m-3 6h0m-1-7h0m-3 9h0m-1-10h0m-1 3h0m-4-3h0m0 3h0m0 7h0m-1-3h0m-3 0h0m-1-3h0m-1-3h0m0 7h0m-3-3h0m-1-4h0m0 6h0m-7-1h0m0 4h0m-3-5h0m-2 1h0m0 2h0m-5-4h0m-1-3h0m-25 13h0m12 4h0m0 4h0m6-5h0m0 3h0m4-8h0m0 10h0m2-8h0m1 3h0m2 0h0m1 4h0m1-8h0m1 3h0m1-2h0m3-2h0m2 9h0m2-4h0m3 4h0m3-1h0m2-2h0m0 2h0m1-6h0m2 8h0m2-9h0m3 1h0m1 5h0m2-6h0m1 4h0m1 3h0m1-7h0m2-2h0m0 4h0m0 4h0m3-4h0m2 5h0m1-7h0m1-2h0m2 10h0m1-10h0m1 6h0m1 5h0m2-6h0m1-3h0m3 0h0m5 4h0m0 4h0m1-10h0m1 8h0m3-1h0m1-6h0m1 3h0m1 3h0m1-6h0m3 3h0m0 3h0m3 3h0m2-5h0m3-4h0m2 6h0m4-6h0m5 6h0m0 4h0m2-8h0m2 3h0m2-3h0m0 6h0m3-7h0m0 2h0m1 7h0m1-5h0m2 4h0m1-6h0m4 3h0m4 2h0m1-6h0m5 7h0m3 1h0m1-4h0m8-7h0m1 4h0m0 7h0m2-9h0m1 3h0m1 6h0m1-10h0m2 9h0m5-5h0m1 6h0m3-6h0m2-2h0m3 0h0m2-3h0m2 4h0m0 3h0m2-5h0m1 8h0m1-5h0m5 6h0m7-8h0m0 4h0m2-2h0m1-5h0m3 3h0m0 3h0m0 3h0m3-7h0m0 8h0m2-10h0m4 1h0m0 4h0m1 3h0m3 2h0m5-10h0m0 3h0m1 6h0m6-7h0m11 4h0m1 5h0m2-4h0m1-7h0m1 8h0m1-6h0m1 4h0m0 5h0m4-7h0m1-4h0m2 5h0m0 3h0m1-7h0m2 8h0m1-7h0m0 4h0m3-6h0m1 10h0m1-8h0m0 6h0m1-3h0m4 0h0m4 3h0m4-7h0m0 8h0m4-1h0m0 3h0m2-7h0m0 7h0m2-4h0m0 3h0m7-1h0m5 2h0m4-1h0m3-2h0m4 0h0m0 2h0m3-1h0m1-5h0m3 1h0m0 5h0m5-1h0m2-3h0m1 2h0m1-5h0m3 5h0m3 0h0m3 2h0m3-2h0m6-1h0m5 0h0m0 4h0m46 9h0m-3-6h0m-2 7h0m-4-6h0m-9 4h0m0 3h0m-3-5h0m-1-3h0m-3 6h0m-3-2h0m0 4h0m-3-10h0m-2 3h0m0 8h0m-11-5h0m-4 0h0m-1-2h0m-2-4h0m0 7h0m-5 1h0m-3-7h0m-1 9h0m-1-7h0m-1 5h0m-2-8h0m-2 10h0m-1-9h0m-3 1h0m0 3h0m0 4h0m-2-9h0m-1 5h0m-1 3h0m-1-8h0m0 4h0m0 6h0m-2-7h0m-1 4h0m-2-6h0m-7 1h0m-3-2h0m-2 3h0m0 8h0m-2-9h0m0 4h0m0 3h0m-3-6h0m-1 4h0m-1-6h0m-1 9h0m-3-7h0m-6 8h0m-1-9h0m-1 6h0m-2-2h0m-2 4h0m-3-10h0m-1 5h0m-1 6h0m-1-3h0m-3-4h0m-1 5h0m-1 2h0m-2-8h0m0 6h0m-4-3h0m-1-5h0m0 7h0m-1-4h0m-1 7h0m-2-9h0m-3 1h0m0 6h0m-3-4h0m0 4h0m-2-1h0m0 2h0m-2-5h0m-3 4h0m-5-2h0m0 4h0m-3-4h0m-1-6h0m-2 6h0m-2-2h0m-3 4h0m-1-3h0m-3-2h0m-2 7h0m-1-11h0m0 2h0m-2 3h0m-1 3h0m-5-6h0m-2 2h0m-1 5h0m-3-4h0m0 3h0m-4-5h0m-1 8h0m-1-4h0m-5-5h0m-1 5h0m0 2h0m-2-3h0m0 4h0m-3-10h0m0 8h0m-1-4h0m-1-2h0m0 3h0m-1 3h0m-1 2h0m-1-2h0m-2-8h0m-1 9h0m-1-5h0m0 7h0m-1-5h0m-1 4h0m-3-9h0m0 6h0m-1-4h0m-1 3h0m-1 3h0m-1-7h0m-2 8h0m-1-8h0m-2 0h0m0 6h0m-1 3h0m-1-6h0m-1 5h0m-2-7h0m0 6h0m-1-3h0m-3-1h0m-1 4h0m-4 2h0m-3-7h0m0 4h0m-3-2h0m-2-4h0m0 9h0m-3-9h0m-3 1h0m-3-3h0m-4 4h0m-5 4h0m-3-5h0m-3-1h0m0 3h0m-1 4h0m-2-7h0m0 3h0m-2 2h0m-1-7h0m-1 4h0m-2 6h0m-3-8h0m-1 6h0m-7-1h0m-2 4h0m-4-2h0m-4-7h0m-3 3h0m-1 3h0m-3-7h0m-3 0h0m0 10h0m-7-8h0m-1 4h0m-3-7h0m-4 2h0m0 3h0m-4-5h0m0 4h0m-3 4h0m-1-5h0m-2 5h0m-1-6h0m0 2h0m-4-3h0m0 6h0m-1 3h0m-1-7h0m-3-3h0m0 7h0m-1-3h0m0 4h0m-2-6h0m0 9h0m-2-7h0m-1 5h0m-3-6h0m0 7h0m-1-3h0m-1-3h0m-1-4h0m0 11h0m-2-9h0m-1 7h0m-2-8h0m0 5h0m-1 2h0m-2-5h0m-3 4h0m0 3h0m-4 0h0m-3-8h0m-3 2h0m-3-3h0m-2 9h0m-2-7h0m-1-3h0m-1 8h0m-2-5h0m-6 3h0m-1 5h0m-2-10h0m-1 3h0m0 5h0m-2 2h0m-1-6h0m-4 6h0m-5-3h0m-5 3h0m-3-6h0m-1 6h0m-5 5h0m2-3h0m1 3h0m2 5h0m3-3h0m3-5h0m0 3h0m4 7h0m2-7h0m2-3h0m1 4h0m3-3h0m1 6h0m2-5h0m1 5h0m0 3h0m1-6h0m2-3h0m1 5h0m0 3h0m4-9h0m0 5h0m1 3h0m3-3h0m3 2h0m1-2h0m4-5h0m0 3h0m2 2h0m1 3h0m2-8h0m2 2h0m0 5h0m2-3h0m2-3h0m0 6h0m1-4h0m1 4h0m1-8h0m0 11h0m1-6h0m3 5h0m2-5h0m3-3h0m2 5h0m2-4h0m3-2h0m2 2h0m0 6h0m2 1h0m2-6h0m2-2h0m3-2h0m0 9h0m1-6h0m3 0h0m0 3h0m3-3h0m0 4h0m0 3h0m3-10h0m0 9h0m1-6h0m0 3h0m5 2h0m1-3h0m1-3h0m1 7h0m2-4h0m1 4h0m4-6h0m2 3h0m3-6h0m0 3h0m5 8h0m3-5h0m1-5h0m1 4h0m1 5h0m2-7h0m1 8h0m2-6h0m1-4h0m0 10h0m2-2h0m2-5h0m0 6h0m6-4h0m2 3h0m3-2h0m3 3h0m1-4h0m5-2h0m0 2h0m0 3h0m1-8h0m2 3h0m4 2h0m7-4h0m1 9h0m1-3h0m2-4h0m2 6h0m2-7h0m0 4h0m1 4h0m4-7h0m0 4h0m0 3h0m4-10h0m1 6h0m1-4h0m3-3h0m0 6h0m0 4h0m2-6h0m0 7h0m2-4h0m5-3h0m2-2h0m0 3h0m0 3h0m1-8h0m0 11h0m1-5h0m2 5h0m3-4h0m1-3h0m0 7h0m2-8h0m0 3h0m1-5h0m1 10h0m1-3h0m3-7h0m0 2h0m0 4h0m4-7h0m0 5h0m2-4h0m2 9h0m6-5h0m5 5h0m3-10h0m6 0h0m0 7h0m6 3h0m5-2h0m7-8h0m8 5h0m0 4h0m1-8h0m2 6h0m1 4h0m1-9h0m5 5h0m1-5h0m0 9h0m1-7h0m3 5h0m1-6h0m3 0h0m2 2h0m0 6h0m1-11h0m2 11h0m1-7h0m3-1h0m2-1h0m3 6h0m1-6h0m1 8h0m1-10h0m2 3h0m1-3h0m0 6h0m2-4h0m0 9h0m3-10h0m0 7h0m1-3h0m2-3h0m1 4h0m3 1h0m2-5h0m1 2h0m2-4h0m1 4h0m1 4h0m2-6h0m1 2h0m0 4h0m2-3h0m3-3h0m0 7h0m2-7h0m0 3h0m1 5h0m1-10h0m0 7h0m3-7h0m1 7h0m1 4h0m1-9h0m3-1h0m0 4h0m8-4h0m2 4h0m4-4h0m0 5h0m0 3h0m3-4h0m3-4h0m0 6h0m4 3h0m1-9h0m1 4h0m5-3h0m0 5h0m4-5h0m2 8h0m6-4h0m1-4h0m2 8h0m1-9h0m1 5h0m3-4h0m1 5h0m1-6h0m0 10h0m2-5h0m2-4h0m3 1h0m2 7h0m1-8h0m2 6h0m2-6h0m4-1h0m1 4h0m3 2h0m2 3h0m3-7h0m7-2h0m9 3h0m2 3h0m1-4h0m3 6h0m3 2h0m19 5h0m-3 3h0m-7 2h0m-2-3h0m-2-3h0m-1 5h0m-1-8h0m-1 4h0m-5 1h0m0 3h0m-4-3h0m-3 1h0m-1 3h0m-3 1h0m-1-5h0m-2 3h0m-3-1h0m-3 3h0m-1-4h0m-5 1h0m-2-4h0m-4-1h0m-5 6h0m-5-3h0m-3-5h0m-2 5h0m-6-5h0m-5 7h0m-2-3h0m-1 5h0m-3-6h0m-3 3h0m-3-5h0m-8 5h0m-4 0h0m-2-6h0m0 3h0m-1 6h0m-5-6h0m-4 1h0m0 3h0m-4-7h0m-2 8h0m-4-1h0m-1-3h0m-2-1h0m-1 5h0m-2-7h0m0 3h0m-2 3h0m-1-6h0m-2 2h0m-1 8h0m-1-9h0m-2-2h0m-2 3h0m-6 6h0m-3 0h0m-4-9h0m-1 5h0m-1-3h0m-4 6h0m-3-8h0m0 11h0m-2-4h0m-3 2h0m-1-7h0m-2 6h0m-1 3h0m-3-5h0m-4 5h0m-1-9h0m-2 3h0m-1-4h0m0 9h0m-2-5h0m-2-2h0m0 7h0m-1-3h0m-4-4h0m-5 2h0m-2 6h0m-3-1h0m-2 0h0m-2-3h0m-1-7h0m-3 5h0m-1 5h0m-1-3h0m-7-3h0m-2 6h0m-3-9h0m-4 9h0m-3-4h0m-4 0h0m-3-5h0m0 4h0m-1 3h0m-2-7h0m0 5h0m-2 2h0m-2-2h0m-2-6h0m-4 4h0m0 4h0m-2-8h0m-1 9h0m-2-9h0m0 3h0m-4 2h0m-2-3h0m-3 5h0m0 4h0m-1-7h0m-2 6h0m-2-7h0m0 3h0m-3 1h0m-2-7h0m0 6h0m-2 2h0m-2 3h0m-1-9h0m0 3h0m-1 4h0m-4-9h0m-1 3h0m-4 2h0m-2-2h0m-1 6h0m-1-4h0m-1 2h0m-2-1h0m-1-4h0m0 8h0m-4-6h0m-3 2h0m-1-3h0m0 5h0m-6-2h0m-1-4h0m0 6h0m-3-5h0m-3 1h0m-1 3h0m-1-6h0m-7 9h0m-2-3h0m-1-7h0m0 10h0m-2 1h0m-2-10h0m-4 7h0m-6-3h0m-1 4h0m-2-3h0m-1 4h0m-2-9h0m0 10h0m-2-5h0m-3 4h0m-2-9h0m-5 4h0m-1 6h0m-2-10h0m-1 8h0m-3-9h0m-2 5h0m0 5h0m-1-10h0m-2 2h0m-1-2h0m-1 8h0m0 2h0m-2-8h0m0 6h0m-1-2h0m-3 1h0m-2-4h0m-1-3h0m-2 2h0m-2 4h0m-2 2h0m-1 3h0m-5-6h0m-1-3h0m-1 3h0m-4-2h0m0 6h0m-2-5h0m0 3h0m-1-6h0m0 10h0m-3-8h0m-1 5h0m-2-4h0m-5 5h0m-5-6h0m-2 7h0m-2-3h0m-2-2h0m-5-2h0m-3-3h0m-4 8h0m-3-6h0m0 3h0m-1 5h0m-3 1h0m-1-9h0m0 4h0m-3 2h0m-2 3h0m-2-9h0m-2 6h0m-2-8h0m-1 5h0m0 6h0m-3-8h0m-1 3h0m-2-5h0m0 8h0m-3-1h0m-2-8h0m0 5h0m-2-3h0m-2 9h0m-4-10h0m-2 3h0m0 5h0m-5 2h0m-2-4h0m-22 16h0m4-2h0m9-4h0m1 6h0m1-3h0m3 0h0m1-3h0m3 3h0m3-6h0m1 6h0m1-8h0m0 4h0m7-1h0m8-1h0m1 7h0m1-4h0m1-2h0m4-1h0m2 8h0m2-6h0m2 3h0m0 4h0m2-10h0m0 8h0m1-4h0m2-5h0m5 5h0m0 3h0m2 3h0m2-8h0m9 2h0m1 3h0m2-2h0m2 3h0m1-2h0m1-4h0m0 8h0m2-5h0m2 2h0m0 3h0m4-10h0m2 3h0m3 3h0m1-4h0m0 7h0m3 1h0m1-7h0m2 3h0m1-3h0m0 5h0m4-5h0m3-1h0m0 5h0m1-3h0m3 1h0m3 2h0m1-5h0m1-3h0m2 5h0m1 3h0m2-3h0m1-5h0m0 8h0m3-6h0m0 4h0m1 5h0m1-3h0m1-5h0m3 7h0m1-3h0m2 3h0m2-10h0m4 2h0m2 2h0m1 6h0m2-5h0m1 6h0m2-11h0m0 6h0m0 5h0m4-3h0m3-7h0m0 6h0m0 2h0m2 1h0m2-5h0m2-3h0m1 6h0m0 2h0m6-8h0m1 6h0m2-3h0m1-4h0m0 7h0m3 3h0m2-9h0m0 2h0m3 2h0m1 2h0m1-7h0m3 5h0m1-6h0m1 9h0m5-6h0m0 3h0m3 1h0m1-6h0m2 2h0m3-1h0m3-2h0m1 8h0m2-2h0m2-3h0m3-3h0m0 5h0m0 6h0m4-7h0m0 4h0m3-8h0m1 3h0m0 3h0m3-6h0m1 8h0m2-6h0m4 3h0m3-4h0m3 2h0m1-3h0m0 11h0m2-4h0m4 4h0m3-9h0m2 3h0m5 1h0m0 5h0m1-10h0m3 5h0m0 3h0m1-9h0m1 3h0m9-3h0m1 5h0m1 4h0m2-4h0m3 5h0m1-5h0m0 3h0m3-2h0m2-2h0m3 7h0m4-8h0m2 4h0m5 4h0m1-11h0m1 4h0m3 2h0m3 4h0m1-8h0m0 4h0m5 0h0m0 4h0m4-2h0m7 3h0m1-8h0m8 0h0m1 8h0m3-8h0m0 4h0m2 3h0m1-3h0m1-3h0m2 6h0m2-4h0m1-3h0m1 5h0m0 3h0m8-5h0m1 5h0m6-1h0m1-7h0m6 1h0m3-1h0m0 5h0m4-8h0m2 5h0m2-4h0m0 10h0m3-1h0m9-9h0m0 4h0m4-5h0m1 5h0m7-4h0m2 4h0m3-4h0m5 6h0m6 0h0m3 4h0m1-4h0m2-5h0m5 2h0m0 5h0m2 1h0m5-4h0m2 5h0m3-4h0m3 1h0m1-8h0m0 5h0m0 5h0m6-2h0m1-6h0m3 3h0m0 4h0m4-7h0m2 4h0m1-6h0m0 3h0m0 7h0m2-3h0m1-5h0m3-1h0m2 5h0m0 4h0m3-10h0m2 5h0m0 3h0m4-4h0m2 3h0m2-2h0m2-4h0m2 7h0m2-2h0m9 5h0m2-10h0m7 8h0m1-8h0m5 2h0m0 8h0m7-6h0m6 0h0m4 18h0m-1-11h0m-1 6h0m-6-4h0m-1 4h0m-3 5h0m-1-10h0m0 3h0m-3-2h0m-3-1h0m0 10h0m-5-10h0m-1 6h0m-3-6h0m-1 6h0m-3 3h0m-1-6h0m-3-4h0m0 10h0m-4-5h0m-4 2h0m-1-4h0m-2-3h0m0 10h0m-2-9h0m-1 6h0m0 4h0m-2-11h0m-2 5h0m-2 1h0m-1-4h0m-2 3h0m0 4h0m-2-8h0m-3 5h0m-2-3h0m-3-2h0m0 4h0m-1 3h0m-7-1h0m0 3h0m-3-1h0m-1-4h0m-6-4h0m-3 2h0m0 4h0m-4 1h0m-4 1h0m-1-4h0m-1-3h0m-2-2h0m0 5h0m-5 6h0m-2-7h0m-1 2h0m-4 3h0m-4-6h0m-3-2h0m-1 3h0m-1 5h0m-3 0h0m-4-3h0m0 4h0m-1-7h0m-4 0h0m-2 5h0m-1-6h0m-5-2h0m0 4h0m-4-4h0m0 4h0m-1 3h0m-1 3h0m-5-4h0m-4-3h0m-8 0h0m-2 6h0m-2 2h0m-1-6h0m0 3h0m-1-7h0m-3 4h0m-2-3h0m-2 2h0m-7-1h0m0 3h0m-1-5h0m-2 3h0m-2-3h0m-2 8h0m-1-6h0m0 2h0m-2-3h0m-3 1h0m-1 3h0m-2 4h0m-3-2h0m-1-5h0m-1 6h0m-5-9h0m-1 5h0m-3-4h0m-7 4h0m-3-4h0m-1 2h0m0 5h0m-4-3h0m0 4h0m-3-8h0m-1 4h0m-3 3h0m-3 2h0m-4-1h0m-4-8h0m-2 6h0m-2 3h0m-1-5h0m-2 6h0m-1-6h0m-1 3h0m-2-4h0m-1 7h0m-1-9h0m0 5h0m-3-5h0m-2 6h0m-2 1h0m-5 1h0m-1-2h0m-1-4h0m-2-4h0m-1 6h0m-2 3h0m-3 2h0m-2-9h0m0 4h0m-3 2h0m-1-2h0m-2 4h0m-2-1h0m-2-3h0m0 5h0m-1-11h0m0 9h0m-2-4h0m-1-5h0m-1 3h0m0 6h0m-1-3h0m-9-2h0m-4-2h0m-6 5h0m-4-7h0m0 9h0m-12-5h0m-2 2h0m0 3h0m-5-1h0m-2 3h0m-2-7h0m-1 3h0m0 4h0m-3 0h0m-1-2h0m-3-9h0m0 10h0m-1-5h0m-1-4h0m-4 0h0m0 4h0m-1 4h0m-2-8h0m-4 2h0m0 3h0m0 5h0m-2-7h0m-1-3h0m-2 2h0m0 7h0m-2-10h0m-2 6h0m0 3h0m-2 1h0m-3-2h0m0 3h0m-2-5h0m-4-4h0m0 4h0m-2 2h0m0 3h0m-2-8h0m-3 2h0m-3 3h0m-10-8h0m-1 11h0m-2-11h0m-1 8h0m-1-5h0m-8 8h0m-3-7h0m-2-2h0m-1 3h0m-1-4h0m-3 1h0m-1 4h0m-3-1h0m-1 6h0m-1-11h0m-5 11h0m-5-9h0m-1 5h0m-1-5h0m-3 8h0m-1-9h0m-2 1h0m-3-1h0m-2 8h0m-3-1h0m-2 3h0m-1-6h0m-2 3h0m-2-4h0m0 6h0m-3-9h0m0 7h0m0 3h0m-3-1h0m-1-3h0m-1-4h0m-1 7h0m-1-3h0m-1-7h0m-1 5h0m-3 0h0m-3 3h0m-3-3h0m0 6h0m-6-11h0m0 8h0m-6-1h0m-1-5h0m-2 5h0m-1-4h0m0 7h0m-2-10h0m-1 3h0m-1 7h0m-2-9h0m0 7h0m-2-4h0m-1 4h0m-4-1h0m-2-2h0m-2 2h0m-6-6h0m-2 2h0m-5 2h0m-1 3h0m-8-4h0m-5 19h0m4-1h0m1-3h0m1-5h0m3 2h0m1-3h0m1 5h0m1 2h0m0 2h0m1-10h0m2 8h0m2-8h0m0 6h0m6-4h0m0 3h0m2 5h0m1-8h0m0 4h0m2 2h0m1-8h0m3 4h0m3 4h0m2-5h0m0 3h0m5 0h0m1-5h0m3 0h0m4 2h0m0 4h0m1-7h0m2 11h0m1-6h0m2 3h0m4-1h0m3-5h0m0 5h0m4-7h0m2 7h0m1-5h0m2 7h0m4 1h0m1-4h0m2-4h0m0 2h0m1 6h0m2-7h0m3 0h0m7-3h0m6 11h0m8-7h0m2 6h0m3-1h0m2-3h0m3 1h0m3 2h0m4-9h0m0 4h0m4 1h0m2 3h0m2-5h0m7 0h0m2 5h0m3-4h0m0 5h0m7-3h0m3 3h0m2-6h0m3 4h0m2-4h0m6-2h0m0 6h0m1-3h0m1 5h0m1-8h0m1 4h0m1-3h0m0 7h0m4-7h0m0 8h0m3-9h0m0 3h0m3 4h0m2 2h0m1-5h0m3 4h0m2-3h0m0 4h0m7-3h0m0 3h0m3-5h0m1 5h0m2-3h0m2-3h0m3 0h0m1 3h0m2-6h0m1 7h0m3-3h0m1-3h0m4 5h0m1-5h0m5 7h0m3 1h0m10-3h0m3 3h0m5-2h0m5-6h0m0 9h0m9-3h0m6-6h0m1 5h0m3-7h0m1 4h0m5-3h0m1 6h0m2-6h0m2 1h0m3 7h0m1-8h0m0 4h0m3-2h0m0 6h0m5 1h0m2-4h0m3 0h0m1-4h0m2 8h0m2-10h0m0 4h0m2 4h0m1 3h0m2-11h0m0 9h0m5 2h0m6-10h0m2 6h0m2-3h0m1-3h0m11 8h0m4-1h0m2-2h0m4-5h0m0 3h0m0 5h0m4-7h0m4 9h0m1-3h0m1-5h0m1 2h0m3 4h0m1-9h0m6 11h0m1-3h0m3-3h0m4-2h0m0 7h0m7-8h0m2 9h0m4-8h0m2 3h0m3 3h0m1-5h0m4-4h0m0 5h0m2-2h0m1 3h0m1-6h0m0 9h0m2-3h0m4 4h0m5 1h0m1-10h0m2 10h0m1-7h0m1-3h0m0 7h0m2-3h0m0 6h0m3-9h0m1 2h0m0 3h0m1-7h0m3 11h0m1-11h0m0 3h0m3 0h0m0 5h0m2-8h0m8 10h0m8-6h0m1 6h0m1-10h0m0 7h0m6-5h0m2 4h0m10-3h0m4 2h0m6-4h0m0 6h0m5-3h0m1-4h0m0 11h0m3-4h0m7-3h0m1 4h0m2-8h0m0 6h0m5 5h0m2-4h0m1-3h0m3-1h0m3-2h0m2 5h0m1 3h0m4-8h0m1 7h0m1-2h0m3 1h0m3-7h0m3 2h0m3 2h0m1 3h0m2-6h0m2 5h0m3-2h0m0 3h0m0 4h0m5-2h0m1-7h0m1 4h0m4-1h0m2 2h0m5 10h0m-1 3h0m-5 3h0m-2-2h0m-3 2h0m-2-6h0m-1 4h0m-2-3h0m-1 2h0m-2-6h0m-5 2h0m-5-4h0m-9 1h0m-1 9h0m-2-7h0m-1 6h0m-5 1h0m-4 0h0m-1-6h0m-6-1h0m-1 7h0m-3-5h0m-6-2h0m-2 3h0m-1-6h0m-4 1h0m-1 3h0m0 3h0m-6 4h0m-1-8h0m-4 1h0m-4 5h0m-3-5h0m-3 6h0m-3-7h0m0 3h0m-2-5h0m0 10h0m-3-8h0m0 5h0m-3-6h0m0 4h0m-5-3h0m-2 6h0m-2-5h0m-5 1h0m-9 3h0m-5-8h0m0 4h0m-5 5h0m-2-5h0m0 7h0m-3-3h0m-9-7h0m-3-1h0m0 6h0m0 3h0m-3-8h0m0 8h0m-3-6h0m-4 1h0m0 4h0m-4-6h0m-1 4h0m-4-4h0m-3-1h0m-5 6h0m-2 4h0m-2-9h0m0 3h0m0 3h0m-5-1h0m-5-6h0m0 3h0m-1 5h0m-3-7h0m-3 3h0m-2-3h0m-1 6h0m-2-8h0m-1 4h0m-4 0h0m0 5h0m-3-1h0m-3-6h0m0 6h0m-1 2h0m-2-4h0m-2 3h0m-3 0h0m-10-9h0m-5 3h0m-2 4h0m-1-7h0m-3 5h0m-3 0h0m-3 2h0m-2-7h0m-1 9h0m-1-2h0m-2-7h0m-6 6h0m-1 3h0m-7-8h0m-7 10h0m-3-11h0m-1 10h0m-3-2h0m-1-5h0m-2 7h0m-7-3h0m-1 2h0m-3-9h0m-1 3h0m-2 2h0m-6 4h0m-6-1h0m-2 3h0m-1-3h0m-2 3h0m-4-9h0m-2 6h0m-3-1h0m-1 3h0m-5-3h0m-1-4h0m-3-3h0m-2 10h0m-2-10h0m-3 2h0m0 6h0m-3-4h0m-4 3h0m-4-2h0m-4-1h0m-1-4h0m-1 6h0m-2-3h0m-1 8h0m-1-6h0m-2-4h0m-3 3h0m0 4h0m-6-7h0m0 3h0m-7 1h0m-4 2h0m-3-7h0m-2 4h0m-1 4h0m-1-8h0m-1 5h0m0 6h0m-3-3h0m-2-3h0m-4 1h0m-3-3h0m-1 7h0m-1-4h0m-2-6h0m0 9h0m-3-5h0m-2-2h0m-2 3h0m-2-4h0m-1 4h0m-1 4h0m-2-1h0m-1 2h0m-1-8h0m-1 3h0m-3-4h0m-2 10h0m-1-6h0m-1-4h0m0 8h0m-2-1h0m-2-6h0m-1 6h0m-3-4h0m-1 5h0m-1-7h0m-2-2h0m0 9h0m-1-6h0m0 2h0m-1 5h0m-7-7h0m-9-1h0m0 4h0m-5-2h0m-1 6h0m-1-9h0m-1 5h0m-1-2h0m-2 6h0m-3-3h0m-3-3h0m-1-4h0m-1 5h0m-1 3h0m-1-6h0m-4-1h0m-1 6h0m-1 2h0m-4-9h0m-4 3h0m0 5h0m-4-6h0m0 9h0m-7 0h0m-6-4h0m-5-5h0m-1 4h0m-2-3h0m0 6h0m-3-8h0m-4 6h0m0 2h0m-3-7h0m-1 3h0m0 5h0m-3-3h0m-2-1h0m0 4h0m-2 1h0m-2-11h0m0 4h0m-1-2h0m-3 2h0m-2-3h0m0 7h0m-1 3h0m-1-2h0m-3 2h0m-2 0h0m-14 6h0m4 5h0m4-10h0m2 11h0m2-11h0m1 3h0m0 4h0m2 4h0m1-6h0m1-3h0m2 8h0m2 1h0m1-3h0m1-6h0m1 2h0m1 7h0m1-3h0m2-6h0m2 1h0m1-3h0m0 8h0m1-2h0m0 5h0m1-8h0m3-2h0m1 3h0m0 3h0m1 3h0m1-4h0m2-4h0m3 3h0m3 3h0m1-4h0m6 1h0m2-5h0m4 10h0m1-2h0m1-6h0m2 2h0m1 4h0m3-1h0m3-5h0m0 8h0m4-6h0m1 5h0m2-3h0m1-3h0m3-3h0m1 5h0m1 5h0m2-3h0m3 2h0m1-7h0m1 5h0m2 2h0m1-9h0m5 0h0m1 7h0m2-5h0m3 0h0m0 4h0m3-3h0m10 0h0m2-2h0m3 10h0m6-11h0m1 5h0m0 3h0m5-8h0m4 6h0m4-2h0m2-4h0m0 6h0m3-4h0m0 5h0m1 3h0m2-9h0m1 2h0m1 4h0m2 4h0m1-9h0m0 5h0m3-3h0m0 3h0m0 3h0m1-10h0m2 3h0m0 3h0m1 4h0m2-3h0m0 4h0m2-8h0m0 5h0m2-7h0m0 3h0m1 4h0m2-6h0m0 8h0m2-5h0m4-2h0m0 8h0m1-4h0m2 4h0m1-4h0m2 3h0m2-4h0m2 3h0m3-8h0m2 4h0m0 3h0m2-4h0m1 2h0m5 0h0m1 5h0m2-10h0m0 3h0m1 3h0m4 1h0m3 2h0m2-9h0m1 10h0m2-7h0m1 5h0m3-7h0m1 6h0m2 2h0m2 0h0m1-9h0m8 9h0m1-8h0m1 3h0m2-5h0m1 9h0m2-5h0m1 6h0m1-9h0m2 9h0m1-7h0m1 5h0m5-5h0m2 8h0m1-9h0m1 6h0m3-8h0m1 11h0m3-1h0m1-4h0m3-1h0m1-4h0m4 2h0m2 5h0m1-8h0m1 6h0m4 1h0m3-6h0m0 3h0m0 4h0m2 2h0m2-9h0m1 7h0m3-5h0m0 4h0m3-5h0m7 3h0m3 3h0m1-4h0m1-4h0m2 3h0m2 0h0m0 3h0m1 5h0m3-1h0m1-5h0m1 3h0m2-3h0m1 3h0m3-6h0m0 4h0m2 2h0m1-4h0m2 6h0m1-8h0m2-2h0m0 11h0m1-2h0m3-8h0m0 8h0m5-5h0m0 4h0m4 2h0m1-7h0m1-3h0m1 9h0m1-4h0m3-2h0m1-3h0m3 1h0m4-1h0m5 0h0m0 3h0m0 7h0m3-1h0m2 2h0m2-5h0m1-3h0m4-2h0m3 0h0m2 6h0m1-3h0m3-3h0m3 1h0m3 9h0m3-2h0m2-3h0m2-6h0m2 5h0m0 4h0m3-3h0m0 5h0m1-8h0m3-2h0m2 3h0m1 7h0m2-5h0m3-6h0m0 9h0m1-2h0m8 0h0m1-4h0m3 1h0m0 6h0m2-8h0m0 6h0m2 0h0m4-1h0m2-5h0m0 7h0m8-9h0m2 4h0m1 5h0m1-8h0m3 6h0m0 4h0m14-9h0m6-1h0m0 8h0m9-2h0m2 3h0m3 1h0m3-9h0m1 9h0m3 0h0m1-7h0m1 4h0m5 1h0m1-6h0m2 5h0m2-5h0m1-2h0m2 3h0m0 5h0m1 2h0m2-6h0m12-1h0m4 2h0m3 4h0m2-8h0m2 6h0m2 3h0m2-2h0m2-8h0m0 10h0m4-2h0m3-4h0m3 3h0m1-5h0m3 8h0m2-9h0m8 7h0m1-4h0m6 0h0m5 0h0m1-4h0m9 7h0m1-8h0m-3 19h0m-4-3h0m0 5h0m-5-9h0m-9 10h0m-3 0h0m-4-5h0m-3 3h0m-3 1h0m-7-9h0m-2 3h0m-3 0h0m-3-1h0m-1 3h0m-3 1h0m-3-1h0m-1 5h0m-6-1h0m-1-9h0m-3 9h0m-5-4h0m0 3h0m-3-8h0m-1 5h0m-2-3h0m-2 2h0m-1-4h0m-2 2h0m-1 3h0m-3 4h0m-3-9h0m0 4h0m-3 0h0m-2-2h0m-1 6h0m0 3h0m-2-7h0m0 3h0m-2 2h0m-2-8h0m0 10h0m-2-5h0m-1 4h0m-1-5h0m-1-4h0m-3 4h0m-1-5h0m0 11h0m-2-9h0m-3 3h0m-1-4h0m0 8h0m-3 0h0m-1-8h0m-3 0h0m-5-1h0m-2 6h0m-2-5h0m-4 5h0m0 5h0m-3-10h0m0 8h0m-1-4h0m-3 0h0m-1 6h0m-4-5h0m-3 0h0m-3-1h0m-1-3h0m-1 5h0m-4-1h0m-1 3h0m-2-7h0m-1 8h0m-1-7h0m-1 4h0m-1-6h0m-1 10h0m-3-8h0m-3 2h0m-1 3h0m-1-5h0m-8 6h0m-4-8h0m-1 7h0m-3-7h0m0 5h0m-3-1h0m-5 3h0m-14-6h0m0 3h0m-4 2h0m-7 3h0m-9-8h0m-4 2h0m-6 5h0m-1-8h0m-2 9h0m-2-10h0m0 4h0m-1 7h0m-1-5h0m-1-4h0m-4 6h0m-2-2h0m-4 1h0m-4 3h0m-6 0h0m-1-10h0m-1 4h0m-5 0h0m-4 4h0m-1 3h0m-4-8h0m0 4h0m-4-5h0m-1 3h0m-9-4h0m-1 9h0m-4-1h0m-3-3h0m0 3h0m-3-1h0m-3-7h0m-3 7h0m-2 3h0m-2-8h0m-3 3h0m-4-5h0m0 5h0m-3 3h0m-2-9h0m0 6h0m-3-5h0m-3 2h0m0 3h0m0 4h0m-1-10h0m-2 2h0m0 2h0m-3-1h0m-1 3h0m-2-5h0m0 6h0m-6-4h0m0 3h0m-8-1h0m-1-4h0m0 7h0m-1 2h0m-2-4h0m-2-1h0m0 6h0m-3 0h0m-3-4h0m-1-5h0m-3 8h0m-1-8h0m0 4h0m-5 4h0m-1-5h0m-2-3h0m-2 5h0m-1-3h0m-1-3h0m-3-1h0m0 3h0m0 3h0m0 5h0m-4-9h0m-2 8h0m-2-7h0m-1 3h0m-4-4h0m-1 3h0m-2-3h0m-2 4h0m-1-4h0m0 7h0m-2-3h0m-2-6h0m-1 6h0m-3 5h0m-1-6h0m-2-4h0m-2 8h0m-1-3h0m-1-5h0m-1 4h0m-2 4h0m-3-9h0m-1 8h0m-1-6h0m-4 4h0m-4 1h0m-1 2h0m-1-7h0m-4 3h0m-2 4h0m-4-6h0m-4 2h0m-5 4h0m-9-9h0m-4 5h0m-2-4h0m-6 8h0m-1-4h0m-3 6h0m-2-11h0m-5 3h0m-5 7h0m-1-2h0m-2-6h0m-1 6h0m-3-2h0m-2-6h0m-2 5h0m-2-3h0m-2-2h0m-3 6h0m-1-6h0m-1 3h0m-1 6h0m-2-3h0m0 5h0m-4-3h0m-1 3h0m-2-9h0m-2 2h0m-2 7h0m-1-6h0m-1-4h0m0 7h0m-4-6h0m0 6h0m-3-6h0m-1 2h0m-1 3h0m0 4h0m-2-11h0m0 9h0m0 2h0m-1-7h0m-1 5h0m-2-4h0m-2-1h0m0 4h0m-2 3h0m-1-7h0m0 4h0m-5 2h0m-3-4h0m-1 4h0m-1-9h0m-2 5h0m-9 2h0m-5-7h0m0 4h0m-3 9h0m0 5h0m2 3h0m2-6h0m2 3h0m7 3h0m1-9h0m2 6h0m2-5h0m2 9h0m2-10h0m0 8h0m3-2h0m1-5h0m0 8h0m3 0h0m3 1h0m1-10h0m6 6h0m2 4h0m1-10h0m2 9h0m4-6h0m0 6h0m3-6h0m1 4h0m1-3h0m1 4h0m2 2h0m1-6h0m2 5h0m1-8h0m1 3h0m10 6h0m6-2h0m4-1h0m2-5h0m3 3h0m1-6h0m1 11h0m2-8h0m0 5h0m2-8h0m2 3h0m3-1h0m1 4h0m0 5h0m4-8h0m0 8h0m1-5h0m2-6h0m1 3h0m0 6h0m1-3h0m1-5h0m5-1h0m1 3h0m2-3h0m1 5h0m0 3h0m2 3h0m1-6h0m2 4h0m4-2h0m2-1h0m0 5h0m1-8h0m1-2h0m3 7h0m4-2h0m1 4h0m1-7h0m3 1h0m0 4h0m6-2h0m1-6h0m0 9h0m2-7h0m0 7h0m2-9h0m0 11h0m2-8h0m1 6h0m1-9h0m1 7h0m3-5h0m8 7h0m3 0h0m3 2h0m2-4h0m7-6h0m1 9h0m4-2h0m3 1h0m1-3h0m1-2h0m3 7h0m1-5h0m3-1h0m1 4h0m2-4h0m2-5h0m1 4h0m1 3h0m4 2h0m1-4h0m2-3h0m3 8h0m1-7h0m1 4h0m2-5h0m0 8h0m3-4h0m0 5h0m4-8h0m1 4h0m9 2h0m1-6h0m2 3h0m2-6h0m1 3h0m2-2h0m1 10h0m2-9h0m3-2h0m0 8h0m4-4h0m5-2h0m3 9h0m4 0h0m8-7h0m0 3h0m3-6h0m0 3h0m0 3h0m2 2h0m2-3h0m1-2h0m2-2h0m4 0h0m2-1h0m2 3h0m1 3h0m1-6h0m1 3h0m0 6h0m3-10h0m0 4h0m0 3h0m1 2h0m2-6h0m1 7h0m3-2h0m1-4h0m2-4h0m2 5h0m0 3h0m1-5h0m0 8h0m3-7h0m1 6h0m3-9h0m0 3h0m0 3h0m0 3h0m2 1h0m4 0h0m2-6h0m2 3h0m4 2h0m1-9h0m5 9h0m3-8h0m0 9h0m4-3h0m2-6h0m1 4h0m1-6h0m5 0h0m0 9h0m4-4h0m1-3h0m0 7h0m3-6h0m7-2h0m5-1h0m4 6h0m1-5h0m3 1h0m2 2h0m10-2h0m9 2h0m0 4h0m3 3h0m2-4h0m2 0h0m0 3h0m2-6h0m4 1h0m2 4h0m1-5h0m3 1h0m6 4h0m2-8h0m2 5h0m0 4h0m2-9h0m1 6h0m1-4h0m4-2h0m0 8h0m3-6h0m4 8h0m3-5h0m2 2h0m4-1h0m3-4h0m1 2h0m0 5h0m2-8h0m1 2h0m1 6h0m2-7h0m2 8h0m2-9h0m3 0h0m2 3h0m1 4h0m1-7h0m1 5h0m2-5h0m2 4h0m1 3h0m4-8h0m2 2h0m1 6h0m9-5h0m0 4h0m3-7h0m2 7h0m1-4h0m2-4h0m3 6h0m5-3h0m2 4h0m1-7h0m2 10h0m7-10h0m0 4h0m4 4h0m2-3h0m2-3h0m0 9h0m20-2h0m4-1h0m1-4h0m5 1h0m1 5h0m2-6h0m4-2h0m6-1h0m2 11h0m-12 0h0m-1 4h0m-5 3h0m-4-6h0m-3 3h0m-3-4h0m-8 10h0m-2-3h0m-2 4h0m-1-3h0m-6-2h0m-1-4h0m-3 4h0m-1 4h0m-3-9h0m-1 9h0m-4 1h0m-5-5h0m-1-6h0m-10 5h0m-2-4h0m-10-1h0m0 4h0m-4-4h0m0 3h0m-3-3h0m0 3h0m-12 4h0m-2-2h0m-3-1h0m-2-1h0m-1 8h0m-2-3h0m-1-8h0m-1 11h0m-2-10h0m-1 8h0m-2-3h0m-3 1h0m-1 4h0m-1-11h0m-3 11h0m-4-1h0m-3-10h0m-2 10h0m-2-4h0m-3-6h0m0 8h0m-1-4h0m-3-4h0m-2 9h0m-3-4h0m0 4h0m-3-5h0m0 7h0m-4-4h0m-2-7h0m-1 3h0m-1 6h0m-3-5h0m0 4h0m-3 1h0m-2-6h0m-1 4h0m-2-6h0m-4 0h0m-3 6h0m-5-3h0m-3 5h0m-1-4h0m-2 2h0m-2-5h0m-2-2h0m-1 7h0m-4-2h0m-2-5h0m0 6h0m-4 5h0m-2-7h0m-1 3h0m-2 3h0m-1-9h0m-2 4h0m-2 3h0m-3-3h0m-3-5h0m0 5h0m-2 5h0m-2-9h0m-1 6h0m-2-7h0m-1 5h0m0 6h0m-1-3h0m-5-3h0m-1 5h0m-3-9h0m-1 6h0m0 2h0m-3-7h0m0 5h0m-1 3h0m-1-5h0m-2-5h0m0 11h0m-1-5h0m-1 3h0m-1-6h0m-3 6h0m-1-7h0m-6 2h0m0 2h0m-1 3h0m-1-9h0m-3 3h0m0 2h0m-2-2h0m-1 2h0m-1-4h0m-1 6h0m-1-7h0m-1 10h0m-1-3h0m-1-5h0m-3-2h0m0 6h0m0 3h0m-2-3h0m-2 2h0m-1-4h0m-2-3h0m-4 9h0m-3-7h0m0 5h0m-2-4h0m-2-3h0m0 8h0m-3-6h0m-1 6h0m-1-4h0m-3 1h0m0 4h0m-1-6h0m-2 4h0m0 2h0m-2-2h0m-1-3h0m-2 2h0m-2 3h0m-2-4h0m-1-4h0m-2 9h0m-1-8h0m0 5h0m-1-8h0m0 6h0m-3 0h0m0 4h0m-3-5h0m-1-3h0m-5 0h0m0 3h0m-3 2h0m-4-5h0m0 3h0m-6-3h0m-6-1h0m-2 3h0m-2-3h0m-3 9h0m-2-7h0m-8 0h0m-9-3h0m0 5h0m-9 0h0m-4-2h0m-6 3h0m-6 4h0m-2-5h0m0 3h0m-1 2h0m-3-3h0m-1 4h0m-7-8h0m-3 4h0m0 3h0m-1-9h0m-1 8h0m-1-3h0m0 5h0m-3 0h0m-1-8h0m0 6h0m-2-4h0m-2-4h0m-1 8h0m-1-7h0m-2 9h0m-1-3h0m-3-5h0m0 3h0m-1-5h0m-3 0h0m-1 4h0m-2-3h0m0 4h0m-2-3h0m-1 5h0m-5-4h0m0 4h0m-1 3h0m-1-5h0m-2 2h0m-1-7h0m-1 4h0m-4 1h0m0 3h0m-3-9h0m-2 7h0m-1-6h0m-1 10h0m-2-10h0m-1 4h0m0 4h0m-1 2h0m-3-4h0m-2 4h0m-3-4h0m-5-5h0m-2 2h0m0 5h0m-6-2h0m-3-6h0m0 4h0m0 4h0m-4 0h0m-1-3h0m-2-5h0m-1 8h0m-2 2h0m-2-5h0m-1 3h0m-2-6h0m-1 5h0m-3 0h0m-2-7h0m0 5h0m-2-3h0m-4-2h0m0 9h0m-6-4h0m0 3h0m-2-7h0m0 7h0m-3-4h0m-4 3h0m-1-2h0m-8 0h0m-3-1h0m-1 2h0m-4 3h0m-3-3h0m0 4h0m-2-6h0m-1-3h0m-2 3h0m-1-4h0m0 8h0m-11-5h0m-1 5h0m-1-9h0m-2 9h0m-1-3h0m-2-2h0m-3 10h0m2 8h0m1-4h0m3 4h0m1-10h0m1 8h0m2-3h0m3-3h0m1 5h0m3 0h0m0 3h0m3 1h0m1-9h0m1 4h0m0 3h0m1-9h0m0 3h0m5 6h0m4-2h0m1-7h0m1 8h0m2-8h0m1 5h0m2 3h0m1-7h0m4 0h0m3 0h0m3 9h0m1-7h0m1-3h0m2 6h0m2-6h0m2 3h0m3 4h0m1-5h0m7-2h0m1 6h0m2-2h0m0 7h0m3-9h0m1 4h0m1 3h0m1-7h0m4 3h0m1-5h0m1 9h0m3-2h0m1-6h0m2 9h0m1-8h0m2-2h0m5 1h0m0 5h0m3 2h0m3 0h0m1-8h0m1 4h0m3-1h0m2 3h0m2-1h0m11 3h0m1-6h0m6 4h0m3-4h0m0 4h0m1 3h0m2-3h0m5-1h0m2-4h0m0 10h0m1-6h0m2-5h0m2 5h0m2 6h0m1-7h0m1 4h0m3-4h0m0 4h0m4-4h0m2 3h0m3-5h0m3 0h0m1 7h0m2-7h0m0 3h0m7 4h0m3 1h0m3-10h0m2 9h0m6-3h0m6 0h0m2 5h0m2-10h0m1 9h0m3-1h0m1-7h0m1 5h0m1-3h0m2-3h0m3 2h0m0 5h0m2-8h0m6 1h0m0 6h0m4-4h0m0 7h0m4-4h0m2-2h0m0 6h0m1-10h0m4 1h0m0 6h0m4-4h0m3 1h0m1 6h0m3-6h0m3 5h0m2-3h0m1-6h0m2 6h0m4 4h0m3-5h0m0 6h0m2-2h0m2-6h0m7-3h0m3 7h0m2 3h0m4-9h0m2 4h0m0 3h0m2-4h0m1-4h0m0 8h0m2-2h0m0 5h0m3-6h0m1-4h0m2 3h0m5-3h0m0 9h0m2-4h0m2 3h0m1-3h0m0 5h0m2-10h0m1 10h0m2-11h0m0 3h0m0 5h0m1 3h0m3-8h0m0 5h0m2-8h0m1 6h0m4-4h0m2 5h0m2-1h0m1-6h0m1 10h0m2-8h0m3-1h0m0 4h0m1 3h0m2-3h0m0 6h0m1-8h0m0 6h0m5-4h0m1 3h0m3-8h0m0 6h0m0 5h0m3-10h0m0 6h0m1-4h0m1 8h0m1-4h0m1 3h0m1-3h0m5 3h0m1-7h0m0 4h0m2 2h0m1-4h0m3-2h0m3-1h0m1 5h0m1 3h0m6-3h0m0 4h0m4-7h0m0 4h0m2-3h0m2 6h0m1-3h0m3-4h0m0 3h0m2-7h0m1 7h0m1-5h0m2 7h0m2-8h0m1 6h0m3-7h0m2 11h0m2-5h0m1-6h0m1 11h0m3-8h0m2 5h0m1-3h0m4-5h0m3 5h0m2 4h0m1-3h0m1-6h0m2 7h0m3-1h0m3 0h0m3 2h0m2-8h0m7 0h0m2 11h0m1-3h0m2 2h0m4-3h0m2-4h0m0 2h0m3-3h0m3 0h0m2 5h0m1-3h0m1 7h0m2-11h0m0 3h0m2 7h0m2-7h0m1 4h0m0 4h0m2-10h0m1 5h0m4 2h0m1 3h0m1-4h0m6-6h0m2 6h0m1-4h0m16 7h0m3-1h0m1-2h0m1-6h0m2 3h0m2 3h0m1-7h0m2 10h0m3-1h0m2-9h0m0 4h0m5 4h0m3-2h0m3 3h0m1-3h0m2-4h0m2 2h0m3 7h0m2-4h0m1-3h0m1-3h0m0 9h0m3-6h0m0 7h0m1-10h0m6 1h0m3 2h0m0 6h0m4-8h0m2 8h0m2-3h0m1-4h0m1-3h0m3 1h0m6 7h0m3-7h0m-15 13h0m-5-1h0m-2 3h0m-2-4h0m-1 4h0m-3 2h0m-1-3h0m-2 5h0m-3-4h0m-4-2h0m-1 4h0m-2-2h0m-4 4h0m-3 3h0m-1-11h0m-4 9h0m-1-2h0m-7-7h0m-2 7h0m-2-5h0m-2 6h0m-4-2h0m-2-6h0m-1 7h0m0 3h0m-3-6h0m-1 5h0m-3 2h0m-2-9h0m0 6h0m-3-2h0m-2 4h0m-1-7h0m-2-2h0m-1 7h0m-1-3h0m-4-4h0m-1 3h0m-4 1h0m0 4h0m-6 0h0m-5-6h0m0 4h0m-7-4h0m-1 6h0m-2-9h0m0 5h0m-1 2h0m-1-5h0m-1 7h0m-2-4h0m-2-3h0m-2 5h0m-3-4h0m-4 4h0m-4 2h0m-1-5h0m-3 2h0m-4-4h0m-14 5h0m-1-4h0m-1-2h0m0 7h0m-3-6h0m0 3h0m-1 5h0m-3-7h0m-1 8h0m-2-8h0m0 5h0m-1-2h0m-2 2h0m-2-7h0m-4 9h0m-4-5h0m-3-5h0m-2 10h0m-1-6h0m0 3h0m-4 4h0m-3-2h0m-1-2h0m-3-4h0m0 3h0m-3 3h0m-1-7h0m0 5h0m-2-7h0m0 3h0m-1 8h0m-3-5h0m-1-4h0m0 9h0m-2-5h0m-3 1h0m-1-5h0m-2 6h0m0 3h0m-4-8h0m0 6h0m-4-7h0m0 4h0m-2 2h0m-2-5h0m-2 8h0m-2-3h0m-1-5h0m-4 7h0m-1-9h0m0 5h0m-4-1h0m0 4h0m-2-7h0m-3 0h0m0 5h0m-3 3h0m-6-6h0m-3-2h0m-2 9h0m-1-3h0m-2-7h0m-3 3h0m0 4h0m-4 2h0m-4-2h0m-2-5h0m-3-2h0m-3 1h0m-2 2h0m-1 7h0m-3-9h0m-1 4h0m0 3h0m-1-5h0m-2 2h0m-4-5h0m0 9h0m-2-7h0m0 3h0m-1 5h0m-3-9h0m-1 3h0m-2-4h0m0 10h0m-1-5h0m-1 3h0m-4-2h0m-1-5h0m0 2h0m0 7h0m-4-11h0m0 7h0m-2-5h0m0 5h0m-2-3h0m-1 3h0m0 4h0m-1-8h0m-1 4h0m0 4h0m-2-8h0m-4 7h0m-2-3h0m-4-6h0m0 8h0m-2-6h0m0 7h0m-3 0h0m-3-5h0m0 4h0m-2-1h0m0 2h0m-4-9h0m0 7h0m-7-7h0m-2 7h0m-3 1h0m-1-7h0m-2 5h0m-5-5h0m0 4h0m0 5h0m-3-3h0m-3-5h0m-2 1h0m-1-4h0m-1 7h0m0 4h0m-2-5h0m-2-5h0m-3 7h0m-2-4h0m0 3h0m-1 3h0m-1-9h0m-1 5h0m-1 5h0m-2-10h0m0 5h0m0 3h0m-3-9h0m-1 10h0m-1-5h0m-3-4h0m0 8h0m-6 2h0m-1-4h0m-2 3h0m-10-3h0m-3-3h0m-2 4h0m-2-5h0m-1 6h0m-4-5h0m-3-4h0m-3 3h0m-1 4h0m-2-7h0m0 4h0m-4 1h0m-6-2h0m-10 4h0m-1 4h0m-3-9h0m-3 7h0m-7-4h0m-3 6h0m-2-9h0m-3 7h0m-1-6h0m-3-3h0m0 2h0m-2 8h0m-3-8h0m-1-2h0m-2 5h0m0 6h0m-4-3h0m-7-5h0m0 4h0m0 4h0m-7-2h0m0 2h0m-3-4h0m-1-4h0m-11 7h0m-1-6h0m-2 4h0m-1-4h0m-4-1h0m-4-1h0m-6 6h0m-2-3h0m0 2h0m-3-6h0m-4-1h0m0 6h0m-3-6h0m-2 5h0m-2-4h0m-4 2h0m0 6h0m5 13h0m3-9h0m1 8h0m4-1h0m1-7h0m1 3h0m2 3h0m1 3h0m3-2h0m3 3h0m6-2h0m1-3h0m3 4h0m1-9h0m3 3h0m2-2h0m2 0h0m1-2h0m0 5h0m0 2h0m3-2h0m3 2h0m4-4h0m2 3h0m2-2h0m3 3h0m0 4h0m2-6h0m4-5h0m0 5h0m5-1h0m1 6h0m5 1h0m1-4h0m1-2h0m5 5h0m2-8h0m2 1h0m0 6h0m3-9h0m0 3h0m2 6h0m2 1h0m1-9h0m2 4h0m2 2h0m20 0h0m2-3h0m7 0h0m0 4h0m4-3h0m1 3h0m4-3h0m3 2h0m5-4h0m0 6h0m4 0h0m4-8h0m1 5h0m2 2h0m3-2h0m4-5h0m5 3h0m3 3h0m3 0h0m0 4h0m4-10h0m5 2h0m2-2h0m4 3h0m2-4h0m1 6h0m3 0h0m3-2h0m3-2h0m6 1h0m3 6h0m1-3h0m2-6h0m0 9h0m2-5h0m1-4h0m0 8h0m2 0h0m1-2h0m2-3h0m2 3h0m1-2h0m0 4h0m2-5h0m0 2h0m2 5h0m1-6h0m2 6h0m2-1h0m1-4h0m1 4h0m1-3h0m1 5h0m1-8h0m0 2h0m2-4h0m2 0h0m0 5h0m1-2h0m0 5h0m1-3h0m2-3h0m1 2h0m1-4h0m0 8h0m3-9h0m2 8h0m1-4h0m0 6h0m3-10h0m4 11h0m1-5h0m1-5h0m3 8h0m5-9h0m0 7h0m2 4h0m3-9h0m2 1h0m0 3h0m1 5h0m1-2h0m3-4h0m1 4h0m2-6h0m1 3h0m4 3h0m3 2h0m2-10h0m1 5h0m1 5h0m3-7h0m3 2h0m2-3h0m1 5h0m3-3h0m4 0h0m0 5h0m2-8h0m1 6h0m1-3h0m2-5h0m0 8h0m1 3h0m1-9h0m1 5h0m1-6h0m0 2h0m2 2h0m0 2h0m2 4h0m1-9h0m2 8h0m3-5h0m0 3h0m5-6h0m1 4h0m2 2h0m1-3h0m0 6h0m1-10h0m1 3h0m1 6h0m1-10h0m3 6h0m0 3h0m1-7h0m1 8h0m2-3h0m1 4h0m1-11h0m0 4h0m2-3h0m0 4h0m2 6h0m1-10h0m0 4h0m1 5h0m3-3h0m1-7h0m0 9h0m4-8h0m1 6h0m0 3h0m2-9h0m0 3h0m3 5h0m11-1h0m1-8h0m2 10h0m3-8h0m5 3h0m0 4h0m1-7h0m3 1h0m0 5h0m0 3h0m2-10h0m0 6h0m1-3h0m1 7h0m2-2h0m1-4h0m3-4h0m0 10h0m1-6h0m2 2h0m3-1h0m3-6h0m1 6h0m1-3h0m10 6h0m8 1h0m2-10h0m3 2h0m9 5h0m1-3h0m0 7h0m1-10h0m5 10h0m1-11h0m0 7h0m2-5h0m2 6h0m1-3h0m1-3h0m4 7h0m1-8h0m1 3h0m2 4h0m5-1h0m1-4h0m1 6h0m4 0h0m1-3h0m1-5h0m2 2h0m0 6h0m3-7h0m0 6h0m1 3h0m1-5h0m1-5h0m2 8h0m2-2h0m1 4h0m3-6h0m0 3h0m3-5h0m0 6h0m13-5h0m1 4h0m1 3h0m4-4h0m5 2h0m6-5h0m4 1h0m3-5h0m-8 13h0m-4 2h0m-5 0h0m-4 6h0m-3-7h0m-1 2h0m-1 3h0m0 4h0m-2-8h0m-1 7h0m-1-6h0m-2 5h0m-3-7h0m-2 3h0m0 5h0m-1-10h0m-2 8h0m-1 3h0m-3 0h0m-1-5h0m-1 3h0m-2-8h0m-2 4h0m-2-2h0m-4 3h0m-2-5h0m-1 8h0m-1-5h0m-3 1h0m-1 6h0m-3-8h0m0 6h0m-2-8h0m-1 2h0m-2-3h0m0 10h0m-2-4h0m-1-4h0m0 7h0m-3-4h0m0 5h0m-2-10h0m-2 2h0m0 5h0m0 4h0m-7-6h0m0 5h0m-3-5h0m-2 6h0m-1-7h0m-3 1h0m-1-5h0m-10 5h0m-2 5h0m-4-4h0m-6 1h0m-6 4h0m-2-4h0m0 3h0m-1-7h0m-2 6h0m-2-8h0m-1 5h0m0 4h0m-1-7h0m-2-3h0m-2 9h0m-1-4h0m-1-4h0m-1 9h0m-4 0h0m-1-9h0m-4 6h0m-3-2h0m0 4h0m-4-3h0m-4-5h0m-1 5h0m-3 2h0m-1-4h0m-2 4h0m-2-5h0m-1 6h0m-1-8h0m0 5h0m-2-1h0m-1-4h0m-4 7h0m0 3h0m-3-10h0m0 3h0m-3 5h0m-2-7h0m-2 3h0m-1 5h0m-10-8h0m-3 3h0m-3-4h0m-3 4h0m-1 6h0m-5-4h0m-1-4h0m-2 2h0m-1 6h0m-1-9h0m-1 4h0m-2-3h0m0 4h0m-3-3h0m-3 1h0m-3-2h0m0 3h0m-1-6h0m-6 2h0m0 4h0m-1 4h0m-4-1h0m-4-3h0m-4 3h0m-1-4h0m-1 5h0m-3-10h0m-1 6h0m-2-3h0m-1 5h0m-2-8h0m-2 4h0m0 7h0m-2-4h0m-1-3h0m-1-2h0m-9 6h0m-1-8h0m-2 4h0m-4-1h0m-1 7h0m-1-2h0m-4-6h0m0 4h0m0 3h0m-2 2h0m-1-3h0m-1-7h0m-2 4h0m0 4h0m-2-5h0m-1-3h0m-3 3h0m0 7h0m-1-4h0m-1-5h0m-1 3h0m-1 3h0m-1-6h0m-3 7h0m-2 0h0m-2-7h0m-1 2h0m-1 3h0m0 4h0m-1-6h0m-1 5h0m-2-10h0m0 7h0m-1-4h0m-2-2h0m0 7h0m-1-5h0m-2 4h0m-2 1h0m-3-3h0m0 6h0m-1-11h0m-2 9h0m-1-7h0m-1-2h0m-3 5h0m0 3h0m-2-7h0m-1 3h0m-3-4h0m0 7h0m-7-4h0m-1 4h0m-2-3h0m-1-3h0m-1 6h0m-2 4h0m-6-6h0m-3 0h0m0 4h0m-3 0h0m-1-9h0m0 4h0m-4 1h0m-4 2h0m0 3h0m-8-4h0m-11 0h0m-3 2h0m-3-5h0m-5-3h0m0 6h0m-8 4h0m-5 1h0m-6-10h0m-4-1h0m-4 7h0m-10-1h0m-3-5h0m-2-1h0m-6 0h0m-3 2h0m-4 4h0m-3-1h0m-1 5h0m-2-7h0m-3 2h0m-1-2h0m-3 1h0m-3-3h0m-2 7h0m-1-5h0m-1 3h0m-2-4h0m0 8h0m-3-9h0m-2 6h0m0 2h0m-4 1h0m-3-5h0m-1-3h0m-5 4h0m-1-4h0m-5 1h0m-2-1h0m-2 6h0m-1-8h0m0 11h0m-2-8h0m0 4h0m0 3h0m-3-8h0m-3-1h0m-1 4h0m-2-5h0m-1 6h0m-2-6h0m-3 2h0m-2-2h0m5 12h0m0 10h0m1-7h0m3 2h0m5 4h0m1-4h0m2 4h0m1-5h0m3 4h0m3-7h0m2 2h0m0 4h0m4 3h0m6 0h0m3-3h0m6-2h0m1-4h0m2 2h0m4-1h0m3 0h0m1 6h0m2-4h0m4-4h0m1 4h0m7 7h0m3-3h0m4 2h0m10-10h0m0 4h0m6-2h0m3-2h0m3 2h0m3-2h0m1 6h0m5-5h0m3 4h0m5-5h0m4 11h0m17-5h0m7-2h0m5-2h0m3 8h0m3-8h0m4-2h0m4 9h0m1-6h0m4 7h0m3-4h0m3-3h0m1 6h0m5-4h0m1-3h0m2 4h0m2 5h0m6-3h0m5-8h0m13 1h0m5-1h0m5 9h0m4-2h0m2-7h0m1 5h0m4 0h0m2-4h0m2 3h0m5-4h0m2 5h0m5-4h0m2 3h0m1 3h0m2-4h0m0 8h0m6-6h0m2-5h0m0 8h0m2-6h0m3 2h0m0 4h0m2-7h0m1 5h0m1-3h0m0 8h0m3-2h0m1-4h0m2-4h0m4 10h0m4-1h0m5-10h0m2 5h0m9 4h0m3-8h0m6 1h0m0 6h0m3-8h0m0 5h0m4-5h0m0 9h0m3-4h0m2-3h0m0 6h0m3-5h0m2 3h0m3 0h0m3-2h0m2 2h0m2-4h0m0 6h0m3-4h0m0 6h0m1-3h0m1-5h0m3 2h0m0 5h0m4-6h0m1 7h0m3-4h0m4-6h0m3 3h0m4 3h0m0 3h0m1-7h0m2 8h0m1-8h0m2 2h0m1-1h0m0 7h0m1-5h0m2 4h0m1-4h0m1-4h0m1 3h0m3-2h0m1 6h0m3 2h0m6-2h0m3-2h0m2-2h0m1-3h0m0 7h0m2 3h0m1-5h0m1-3h0m3 7h0m1-8h0m0 2h0m2 6h0m2-5h0m2-5h0m0 3h0m0 4h0m1-2h0m0 5h0m3-8h0m0 4h0m2-6h0m0 4h0m1 3h0m1-1h0m1-3h0m0 7h0m2-8h0m1 6h0m3-3h0m0 3h0m3 3h0m2-9h0m0 3h0m2 4h0m1-8h0m0 4h0m2 1h0m2-4h0m3 9h0m2-11h0m0 5h0m6 2h0m4-2h0m7-3h0m0 7h0m3-4h0m4-4h0m4 5h0m1-5h0m3 8h0m7-4h0m5 2h0m0 4h0m5-10h0m0 7h0m2-5h0m1 8h0m1-5h0m5-3h0m0 7h0m3-7h0m3 1h0m-8 14h0m-4-2h0m-3 5h0m-1-4h0m-2-4h0m-1 4h0m-3-4h0m0 7h0m-3-5h0m-1-3h0m-3 8h0m-1-4h0m-2-3h0m-1 4h0m-1 6h0m-1-10h0m-4 6h0m-3-2h0m-2-5h0m-1 8h0m-2-5h0m-3 2h0m-1-5h0m-2 6h0m-1-6h0m-1 11h0m-1-4h0m-1-4h0m-1 4h0m-1-2h0m-2-4h0m0 6h0m0 3h0m-3-6h0m-2 2h0m0 3h0m-3-2h0m-6-2h0m-1-5h0m-1 3h0m-3-2h0m0 4h0m0 6h0m-2 0h0m-4-10h0m0 3h0m-2-1h0m-3-1h0m-2-2h0m0 7h0m-1-4h0m-2 5h0m-1-3h0m-1-3h0m-4 3h0m-2 4h0m-2-3h0m-2-3h0m-2 2h0m-1-3h0m-4-2h0m0 5h0m-3 5h0m-1-5h0m-1 5h0m-2-6h0m-3 5h0m-2-3h0m-1 4h0m-2-10h0m-3 7h0m-10-3h0m0 7h0m-2-1h0m-1-10h0m0 6h0m-2-4h0m-2 4h0m-3-2h0m0 4h0m-2 3h0m-1-4h0m-1-3h0m-1-2h0m-2 2h0m-1-4h0m-2 8h0m-1 3h0m-4-1h0m-1-4h0m-1-3h0m-3 3h0m-3-6h0m-4 0h0m-1 11h0m-5-7h0m-1-4h0m-1 10h0m-5-10h0m-12 2h0m0 6h0m-6 0h0m-5-3h0m-5-3h0m-2 5h0m-12-5h0m-3-1h0m-1 6h0m-3-7h0m-3 8h0m-1 3h0m-7 0h0m-2-7h0m-13-2h0m-17-1h0m-3 3h0m-1 3h0m-1-7h0m-6 0h0m-5 0h0m0 9h0m-1-3h0m-10 2h0m-2-6h0m-8 6h0m-1-8h0m-1 5h0m-4 4h0m-3-9h0m-1 4h0m-4 2h0m-6-5h0m-5-1h0m-9 8h0m-7-2h0m-3-6h0m-3 8h0m-2 3h0m-2-11h0m-4 8h0m-1-7h0m-3 1h0m-1 6h0m-3-6h0m-3 4h0m-4-4h0m-2 3h0m-4-3h0m-1 8h0m-3-6h0m-7 6h0m-4-6h0m-5 4h0m-5-3h0m0 5h0m-18-6h0m-3 1h0m-3 0h0m-14-4h0m-2 5h0m-4 0h0m-4-2h0m0 3h0m-3-2h0m0 4h0m-3-4h0m-3-2h0m-2 6h0m-3-3h0m51 13h0m8-7h0m24 8h0m15-7h0m0 7h0m7-1h0m3 2h0m7 0h0m5-9h0m3 6h0m3-5h0m0 7h0m4-7h0m0 10h0m9-9h0m12 5h0m7 0h0m1-4h0m24 2h0m14 3h0m14-5h0m6-2h0m4 9h0m9 0h0m15-10h0m4 2h0m2 7h0m3-8h0m4 4h0m8-5h0m20 6h0m0 3h0m11-3h0m3 1h0m1-5h0m4 0h0m6 2h0m2-4h0m2 3h0m4 3h0m2 1h0m3-6h0m1 7h0m0 3h0m2-9h0m4 1h0m4-2h0m0 3h0m0 2h0m0 3h0m3 1h0m1-7h0m1 2h0m1 4h0m1-6h0m4-2h0m5-1h0m2 6h0m7-2h0m0 4h0m2-7h0m4 5h0m0 4h0m2-8h0m1 2h0m1 4h0m2-3h0m3-2h0m1 3h0m0 3h0m2-7h0m2 8h0m1-10h0m1 3h0m2 4h0m1-6h0m2 3h0m1-2h0m1 7h0m2-9h0m0 5h0m4 5h0m1-5h0m12-5h0m1 4h0m1 3h0m1-6h0m5 4h0m2 1h0m2 4h0m3-5h0m0 2h0m1-6h0m3 5h0m2-2h0m1 5h0m2-8h0m1 10h0m2-10h0m2 1h0m2 2h0m2 0h0m1 6h0m1-10h0m1 8h0m1-2h0m3-4h0m0 7h0m2 2h0m2-8h0m4 0h0m1-3h0m1 10h0m3 1h0m3-8h0m3 8h0m8 6h0m-8 1h0m-2-3h0m-8 1h0m-8 7h0m-2-9h0m-4 6h0m-4-2h0m-2 3h0m0 2h0m-2-5h0m-5-1h0m-1-2h0m-1-2h0m-3 4h0m0 6h0m-1-10h0m-2 1h0m-2 7h0m-1-2h0m-6 1h0m-3-6h0m-4 9h0m-1-3h0m-2 1h0m-3-1h0m-5 0h0m-2-7h0m0 4h0m-2 4h0m-3-5h0m-1-4h0m-1 10h0m-1-7h0m-3 3h0m0 5h0m-1-10h0m-2 2h0m-2 3h0m-3-4h0m0 6h0m-4-7h0m0 8h0m-2-6h0m0 8h0m-1-2h0m-3-7h0m0 7h0m-4-8h0m-2 5h0m-2-4h0m-2 2h0m-1-4h0m-3 7h0m-2 3h0m-3-10h0m-6 1h0m-1 10h0m-7-7h0m-1-4h0m-3 7h0m-3-4h0m-3-1h0m-1 3h0m-2-3h0m-11 3h0m-1-3h0m-4-2h0m-3 0h0m-1 4h0m-3-4h0m-16 0h0m-6 3h0m0 5h0m-7-6h0m0 4h0m-6 5h0m-3-8h0m-37-1h0m-16 4h0m-33-1h0m-11-3h0m-12-2h0m-40 7h0m-12 1h0m-4-4h0m-28 3h0m48 7h0m14 0h0m43 6h0m8-3h0m9 4h0m3-4h0m72-2h0m17-1h0m0 6h0m10-3h0m17-1h0m1 6h0m3-2h0m1-5h0m2-3h0m1 3h0m0 7h0m2-3h0m6-6h0m2 3h0m1 3h0m3 4h0m2-2h0m2-5h0m1 3h0m1 3h0m3-8h0m0 5h0m2 3h0m2 1h0m1-4h0m4 2h0m2 2h0m2-3h0m2 1h0m2-2h0m2 2h0m1-8h0m1 4h0m0 6h0m1-4h0m3-6h0m0 6h0m0 4h0m2-4h0m1 3h0m1-8h0m1 6h0m1-5h0m3-1h0m0 5h0m5-4h0m0 4h0m2-3h0m1 4h0m2 3h0m1-8h0m5 3h0m1 4h0m2-3h0m2-3h0m4-3h0m1 6h0m2-7h0m1 4h0m0 4h0m3-1h0m1-7h0m4 10h0m1-9h0m1 3h0m2 7h0m1-4h0m2 4h0m1-11h0m0 6h0m2 3h0m1-4h0m2-4h0m1 2h0m0 8h0m3-7h0m1 4h0m1-2h0m2 3h0m1-5h0m1 6h0m2-4h0m1 5h0m2-9h0m0 6h0m3-3h0m2 5h0m1-6h0m1-4h0m2 3h0m3-1h0m5 2h0m3-4h0m2 4h0m0 3h0m6-6h0m7 3h0m3 4h0m11 3h0m2-9h0m6 0h0m1 7h0m5 0h0m-4 11h0m-1-4h0m-12 7h0m-27-5h0m-1-5h0m-4 5h0m-3 0h0m-1-5h0m-3 3h0m-1 3h0m-3-5h0m0 9h0m-1-6h0m-2 5h0m-2-3h0m-1-3h0m-1 5h0m-2-9h0m-1 7h0m-1-5h0m0 3h0m-1 6h0m-1-10h0m-1 7h0m-1 3h0m-1-9h0m-2 3h0m-1 5h0m-1-10h0m-1 7h0m-3 1h0m-1-7h0m-3 2h0m0 5h0m-1 3h0m-3-9h0m-2 6h0m-1-8h0m-1 3h0m-1 4h0m-3-5h0m0 8h0m-3 0h0m-1-10h0m-4 1h0m-3 0h0m-1 4h0m-2-5h0m0 9h0m-1-4h0m-2 1h0m-3-3h0m-2-2h0m-1 2h0m0 8h0m-2-11h0m-3 5h0m-2 1h0m-1-3h0m0 6h0m-5-1h0m-1-5h0m-2 8h0m-1-7h0m-1 6h0m-2-9h0m0 7h0m-1-2h0m-1-6h0m-2 6h0m-3 2h0m-3-7h0m0 4h0m-1 4h0m-2-2h0m-1-3h0m0 5h0m-2-7h0m0 4h0m-2-6h0m0 10h0m-1-3h0m-2 4h0m-1-5h0m-2-6h0m-2 1h0m-1 7h0m-5-3h0m-1 4h0m-2-3h0m-2-6h0m0 8h0m-1-6h0m-1-2h0m-3 7h0m-2-6h0m0 10h0m-1-3h0m-2-5h0m-3 3h0m-6-4h0m-2 9h0m-3-5h0m-8-6h0m-6 9h0m-9 1h0m-2-3h0m-2-7h0m-80 6h0m-12-6h0m-1 5h0m-12-1h0m-31-3h0m139 15h0m0 5h0m5-1h0m9-3h0m5 2h0m5 1h0m6 2h0m2-3h0m2-5h0m2 5h0m3 0h0m2-2h0m2 5h0m4-3h0m2 3h0m1-10h0m1 4h0m0 3h0m2 2h0m2 2h0m2-10h0m0 6h0m3-1h0m5-4h0m2 9h0m1-8h0m12 3h0m5-1h0m0 4h0m4-7h0m1 5h0m3-3h0m0 6h0m1-3h0m2-4h0m0 6h0m1-9h0m1 5h0m0 6h0m2-2h0m1-5h0m1 3h0m2-2h0m1 6h0m3 0h0m2-9h0m2 5h0m4 0h0m2-3h0m0 6h0m3-6h0m0 5h0m1-8h0m6 0h0m0 8h0m1-6h0m2 6h0m1-9h0m1 5h0m3 4h0m1-5h0m2-1h0m2 3h0m1-6h0m0 10h0m3-8h0m3-2h0m3 4h0m0 4h0m2-2h0m3-3h0m2-2h0m0 4h0m1 3h0m3-8h0m0 6h0m2-3h0m1 4h0m1 4h0m3-7h0m1-4h0m1 7h0m4 1h0m2-4h0m1 3h0m3 4h0m8-1h0m2-6h0m2 6h0m4-1h0m7-9h0m13 11h0m9-3h0m6 7h0m-2 5h0m-5 2h0m-3-7h0m-6 8h0m-29-6h0m-4 1h0m-2 3h0m-1-3h0m-4 1h0m-1-6h0m-2 4h0m-4-2h0m0 3h0m0 5h0m-3-8h0m0 5h0m-3 3h0m-4-4h0m-2 3h0m-1-9h0m-2 2h0m-2 5h0m-1-7h0m-1 8h0m-3 2h0m-4-6h0m0 6h0m-1-9h0m-2 3h0m-1-4h0m-3 6h0m0 3h0m-1-6h0m-1 5h0m-6-6h0m-12-3h0m-3 6h0m-1-3h0m-1 6h0m-4-6h0m-22-3h0m-19 11h0m-8-4h0m-4-2h0m-2-5h0m-1 9h0m-3-9h0m0 4h0m-2 4h0m-3 0h0m-2 3h0m-1-9h0m-4 5h0m-2 3h0m-1-3h0m-3-3h0m-1-3h0m-2 8h0m-1-6h0m-1 8h0m-1-11h0m-1 7h0m-3 2h0m-4-1h0m-4 2h0m-9-6h0m-1 6h0m-2-4h0m-9 2h0m-4-1h0m-27 16h0m1-8h0m5 1h0m1 4h0m5-4h0m7 4h0m5-8h0m1 7h0m15-5h0m8 6h0m8-7h0m1 7h0m4-6h0m1 6h0m2-4h0m2 3h0m2-4h0m2 8h0m1-4h0m3-4h0m1 6h0m2-2h0m2-4h0m1 3h0m2-3h0m0 8h0m3-4h0m1-7h0m1 11h0m3-11h0m7 1h0m3 3h0m1 6h0m2-5h0m2 6h0m16-1h0m5-9h0m0 10h0m15-11h0m31 1h0m10 3h0m3-2h0m3 1h0m2 5h0m1-2h0m3-5h0m0 3h0m0 3h0m0 4h0m4 0h0m1-9h0m0 4h0m1 3h0m3-2h0m1 3h0m2-1h0m0 2h0m3-8h0m1 5h0m3-5h0m2-3h0m0 9h0m3-6h0m1 5h0m1-7h0m1 4h0m0 5h0m2-8h0m1 4h0m3-4h0m1 4h0m3 0h0m1-5h0m1 9h0m2-6h0m5 5h0m4-7h0m6-2h0m0 6h0m2-2h0m4 1h0m8 3h0m1-4h0m0 5h0m1 3h0m0 8h0m-9-5h0m-15 3h0m-2-4h0m-2 3h0m-7-5h0m-4 2h0m0 3h0m-10-3h0m-2 8h0m-4-8h0m-2-1h0m-4 1h0m-3 1h0m0 7h0m-2-9h0m-3 0h0m0 4h0m-7-3h0m-25 6h0m-5-2h0m-7-3h0m-5 7h0m-38-6h0m-1 5h0m-1-9h0m-2 6h0m-4-3h0m-3 6h0m-4-7h0m0 4h0m0 3h0m-4-9h0m0 4h0m-3 1h0m0 5h0m-3-6h0m0 6h0m-4-8h0m-2 9h0m-4-4h0m-5 1h0m-3-3h0m-1 6h0m-8-11h0m-1 4h0m-2 3h0m-3-2h0m-1 4h0m-3-4h0m0 6h0m-3-5h0m-16-4h0m-4 2h0m-5 1h0m-3-5h0m-3 2h0m0 5h0m0 4h0m-3-11h0m0 5h0m-3 1h0m-1-3h0m-3 4h0m-2 2h0m-5 2h0m-4-11h0m-5 5h0m-2 3h0m-8 13h0m3-8h0m2-1h0m4 5h0m0 4h0m2-8h0m3 10h0m2-7h0m0 6h0m6-8h0m3 2h0m0 6h0m3-5h0m1-4h0m2 2h0m1-3h0m0 5h0m3 1h0m1 4h0m1-6h0m4 5h0m2-4h0m3 5h0m3-3h0m1-3h0m5-2h0m3 3h0m2-3h0m0 7h0m6-9h0m2 7h0m6-2h0m1-4h0m4 0h0m0 6h0m1-3h0m2-3h0m2 5h0m1-2h0m3 2h0m2-5h0m1 8h0m3-4h0m2 6h0m1-4h0m11-4h0m2 8h0m1-11h0m0 4h0m3 5h0m1-7h0m1 4h0m1 5h0m1-10h0m1 3h0m0 4h0m1 3h0m1-5h0m2-5h0m0 8h0m3-9h0m1 4h0m5-4h0m4 8h0m3-2h0m10 1h0m3 2h0m5-5h0m1-3h0m1 10h0m17 0h0m2-11h0m9 2h0m4 1h0m6-2h0m7 7h0m33-4h0m0 5h0m22-5h0m0 4h0m6-1h0m7-5h0m4 5h0m4 4h0m5-1h0m2-5h0m3 3h0m13 3h0m74 9h0m-17 1h0m-6 2h0m-10-1h0m-5-4h0m-3 5h0m-2-3h0m-6-1h0m-4 3h0m-2-2h0m-3 2h0m-2-9h0m0 8h0m-3-2h0m-4 4h0m-2-7h0m-11-4h0m-6 5h0m-4-3h0m0 7h0m-4-5h0m-10 4h0m-12-8h0m-5 7h0m0 4h0m-3-9h0m-12 8h0m-11-10h0m-13 11h0m-10-1h0m-6-8h0m-3 1h0m-2 8h0m-3-6h0m-3 0h0m0 3h0m-2 0h0m-1 3h0m-1-7h0m-2 5h0m-1-8h0m0 4h0m-2 2h0m0 4h0m-2-5h0m-1-5h0m0 10h0m-3-2h0m-1-7h0m0 4h0m-6 0h0m-1-4h0m-2 2h0m-2 3h0m-1-6h0m0 10h0m-1-6h0m-3-2h0m-5 8h0m-1-7h0m-3 4h0m-1 2h0m-2-5h0m-2 2h0m0 4h0m-1-7h0m-4-1h0m0 5h0m0 3h0m-4-11h0m0 4h0m-2 7h0m-1-9h0m0 4h0m-4 3h0m-4-3h0m-1-5h0m0 7h0m-5-6h0m0 7h0m-5-8h0m-1 4h0m-4-1h0m-1-3h0m-2 9h0m-4-6h0m-1 3h0m-1 3h0m-2-4h0m-3 1h0m-1-7h0m0 4h0m-4-4h0m-5 2h0m-1 5h0m-4-7h0m0 5h0m-4-4h0m0 3h0m-4-2h0m-3 7h0m-1-5h0m-2-3h0m0 7h0m-3-6h0m-3 6h0m-7 3h0m-3-11h0m-6 3h0m-1 4h0m-3-2h0m-1-3h0m-3 5h0m-2-6h0m0 3h0m-1 7h0m-3-2h0m-5 2h0m-1-7h0m-2 2h0m-13 0h0m-3 4h0m-3-2h0m-3 0h0m-7-3h0m6 14h0m1-7h0m25 7h0m3-6h0m7 5h0m3-2h0m3-4h0m17 9h0m15-9h0m0 4h0m7-4h0m5 0h0m0 3h0m7-3h0m7 1h0m6 1h0m7-1h0m11 0h0m27 0h0m6 0h0m3 3h0m7-2h0m6-2h0m3 0h0m9 3h0m11-2h0m13 9h0m4-2h0m18-1h0m1-5h0m4 1h0m3 4h0m2-4h0m5 2h0m1 3h0m5-8h0m0 11h0m5-5h0m11-5h0m5 5h0m4-1h0m6-4h0m2 7h0m2-5h0m3 3h0m2 3h0m1 2h0m5-6h0m3 4h0m4-8h0m0 9h0m2-7h0m1-3h0m2 5h0m2 3h0m5-3h0m1 5h0m1-7h0m2-3h0m0 9h0m4-8h0m0 5h0m1 4h0m2-8h0m2 1h0m1 7h0m1-4h0m1-3h0m2 4h0m0 4h0m2-2h0m3-7h0m1 6h0m3 3h0m1-3h0m1-6h0m0 2h0m1 3h0m0 3h0m3-5h0m0 4h0m3-1h0m1-5h0m0 8h0m1-4h0m3-5h0m1 7h0m2 1h0m2-9h0m0 4h0m1 3h0m3-3h0m4-3h0m0 3h0m0 3h0m3 1h0m5-6h0m3 3h0m4 1h0m1 3h0m2-7h0m8 4h0m19 3h0m33 12h0m-4 1h0m-5-3h0m-8 2h0m-9-6h0m-1 6h0m-1-2h0m-5-5h0m0 3h0m-3 2h0m-5 1h0m-1-7h0m-4 8h0m-1-4h0m-5-1h0m-2 3h0m0 3h0m-3-2h0m-1-8h0m0 10h0m-3-4h0m0 3h0m-1-9h0m-3 7h0m-1-4h0m-1 7h0m-1-8h0m-6 8h0m-3-9h0m-3 9h0m-2-11h0m-3 2h0m-3 2h0m-1-3h0m-3 1h0m-2 5h0m-4-3h0m-4 3h0m-1-5h0m-1 9h0m-1-3h0m-1-4h0m-1 6h0m-1-3h0m-1-5h0m-2-2h0m0 7h0m-1-2h0m-1 5h0m-2-6h0m-1-2h0m0 4h0m0 3h0m-3-8h0m-1 5h0m-1 4h0m-3 0h0m-2-9h0m-1 8h0m-1-9h0m-2 2h0m0 8h0m-2-2h0m-4-6h0m0 4h0m0 4h0m-3-3h0m-3-4h0m-1 5h0m-1-6h0m0 3h0m-5 1h0m-1-3h0m-1 5h0m-2 2h0m-3 1h0m-2-6h0m-1-4h0m-3 3h0m-3 4h0m-1 3h0m-2-4h0m-1-3h0m-2 2h0m-1 5h0m-1-2h0m-8 2h0m-1-3h0m-21 3h0m-3-10h0m0 5h0m-5-1h0m-3 5h0m-5-10h0m-4 1h0m-2 5h0m-13-3h0m-8 6h0m-6 0h0m-3-2h0m-21-3h0m-7 19h0m4-2h0m11-9h0m0 4h0m0 4h0m10-4h0m3-3h0m4-1h0m0 5h0m1 4h0m5 1h0m1-10h0m5 3h0m11 4h0m18 2h0m0 2h0m4-7h0m2 3h0m2 3h0m5-6h0m2-2h0m5 9h0m1-4h0m3 3h0m1-10h0m1 8h0m3-1h0m0 3h0m3-3h0m3-3h0m1-3h0m0 7h0m4 0h0m5-6h0m0 7h0m0 2h0m1-5h0m4-2h0m1 3h0m2-5h0m5 8h0m2-10h0m0 9h0m1-7h0m0 5h0m1-3h0m2-3h0m0 9h0m1-4h0m1 2h0m1-7h0m0 9h0m1-7h0m3 7h0m1-7h0m0 3h0m1 3h0m1-8h0m1 5h0m2-5h0m1 6h0m1 2h0m1-5h0m1 2h0m0 3h0m2-5h0m1 2h0m1-6h0m1 3h0m1 3h0m6-6h0m1 2h0m1 2h0m1 3h0m4 2h0m1-3h0m2-5h0m1 3h0m0 4h0m3-5h0m2 5h0m2-5h0m1 3h0m0 5h0m1-3h0m1-6h0m2 5h0m3 3h0m1-10h0m1 3h0m0 6h0m1 2h0m1-9h0m1 3h0m1 4h0m4-2h0m2 4h0m2-10h0m0 3h0m1 6h0m1-5h0m1-3h0m4 8h0m4-7h0m1 3h0m1-5h0m1 4h0m0 3h0m1 3h0m1-3h0m1-6h0m3 6h0m2-7h0m0 4h0m1 2h0m2-3h0m1 2h0m0 4h0m1-9h0m1 8h0m3 2h0m1-2h0m3-9h0m0 8h0m0 3h0m1-9h0m1 3h0m0 4h0m1-9h0m1 6h0m1-1h0m0 3h0m1 3h0m2-6h0m2 2h0m1-2h0m1-3h0m0 6h0m2-4h0m1-1h0m0 4h0m2 4h0m1-9h0m1 3h0m4 2h0m2-2h0m2-5h0m0 7h0m1 2h0m4 1h0m2-2h0m2-2h0m4 5h0m3-4h0m6-7h0m2 10h0m5-5h0m1 2h0m0 3h0m2-1h0m2-6h0m0 7h0m1-4h0m4-1h0m2 4h0m3 0h0m0 2h0m3-2h0m2 2h0m2-2h0m18 13h0m-8 0h0m-4 0h0m-3-3h0m-1-6h0m0 3h0m-3 5h0m-1-7h0m-1 5h0m-2 3h0m-2-3h0m-1-6h0m-2 2h0m-1 6h0m-2-9h0m-1 5h0m-1-3h0m-1 7h0m-1-3h0m-1-4h0m-1 7h0m-1-9h0m0 4h0m-2-1h0m0 7h0m-1-4h0m-1-6h0m-1 4h0m-1-3h0m-4-1h0m0 4h0m0 6h0m-3-5h0m-2-5h0m0 7h0m0 4h0m-2-7h0m-2 5h0m-2-6h0m0 7h0m-1-8h0m-1 5h0m-2-4h0m-1 6h0m-2-7h0m-1 5h0m-3-3h0m-6-3h0m0 9h0m-2-6h0m-6-4h0m0 5h0m-1 3h0m-1-6h0m-1 9h0m-1-10h0m0 8h0m-3-2h0m-1-7h0m-2 1h0m-7 10h0m-3-11h0m0 3h0m-2 2h0m-1-5h0m0 2h0m0 7h0m-3-8h0m-1 9h0m-3-10h0m-1 7h0m-1-3h0m-1 6h0m-3-7h0m-1 4h0m-5-4h0m0 4h0m-2-2h0m-3-2h0m-4-1h0m-5 8h0m-3-7h0m-1 6h0m-2-4h0m-1-2h0m-1 7h0m-2-2h0m-3 1h0m-1-7h0m0 4h0m-4 5h0m-1-4h0m-4 1h0m-3 3h0m-1-11h0m0 4h0m-3 2h0m-1-3h0m-1 6h0m-2-9h0m0 3h0m0 3h0m-3 1h0m-2-4h0m-1 2h0m-2-2h0m-1 2h0m-2 2h0m-1-7h0m-1 4h0m-1 7h0m-1-7h0m-2 3h0m-1-5h0m0 3h0m0 5h0m-3-6h0m0 5h0m-1-7h0m-2 2h0m-1 7h0m-1-9h0m0 6h0m-3-2h0m-2-3h0m-1-2h0m0 5h0m-2-3h0m-2-1h0m-2 1h0m0 5h0m-3-7h0m-1 4h0m-1-5h0m0 8h0m-2-4h0m-2-3h0m-2 1h0m0 4h0m-2-2h0m-1 4h0m-2-3h0m-1 4h0m-3-9h0m0 2h0m0 7h0m-1-2h0m-3-6h0m0 4h0m0 6h0m-2-5h0m-1-3h0m-2 7h0m-2-6h0m-2 4h0m-1-3h0m0 6h0m-1-10h0m-2 4h0m-2-3h0m-1 3h0m0 2h0m-5-2h0m0 3h0m-2-8h0m-1 6h0m-2-4h0m-3 5h0m-3-6h0m0 3h0m0 7h0m-1-3h0m-3-3h0m-1-4h0m-1 8h0m-2-6h0m0 5h0m-2-1h0m-2-5h0m-2 6h0m-2-4h0m-1 4h0m-1 2h0m-8-1h0m-6-4h0m-3-4h0m0 4h0m-30-3h0m-20 17h0m1 3h0m3-8h0m4 1h0m6 2h0m11-3h0m4 4h0m7 5h0m2-3h0m5-2h0m5-2h0m4-1h0m2 2h0m0 6h0m1-3h0m3-7h0m0 2h0m0 8h0m3-8h0m0 3h0m2-6h0m1 3h0m1 4h0m0 4h0m2-10h0m2 8h0m2 2h0m2-3h0m1-5h0m3-3h0m1 10h0m2-5h0m1-5h0m1 3h0m2 7h0m1-4h0m1-3h0m0 6h0m4-4h0m1-3h0m1 7h0m1-8h0m3 6h0m1-6h0m0 3h0m1 3h0m2 3h0m1-9h0m2 1h0m3 2h0m0 5h0m2-8h0m2 10h0m2-9h0m0 5h0m3 3h0m2-9h0m1 5h0m2-3h0m4 7h0m4-8h0m0 8h0m3-7h0m2-2h0m2 7h0m6 0h0m1-6h0m7 3h0m2-3h0m1 8h0m2-4h0m2-4h0m1 3h0m1 4h0m1-7h0m3 9h0m6-4h0m1-5h0m3 8h0m1-8h0m2 6h0m3-6h0m3-2h0m9 1h0m0 4h0m1 4h0m2-5h0m1 5h0m3 2h0m1-10h0m0 5h0m2 4h0m1-10h0m0 5h0m2 4h0m2-2h0m2-7h0m2 7h0m2 2h0m2-6h0m2 0h0m0 6h0m3 2h0m1-8h0m2-2h0m1 9h0m2-2h0m5-2h0m1-6h0m2 8h0m3 1h0m4-6h0m0 3h0m0 4h0m5-3h0m3 4h0m3-1h0m2-8h0m1 3h0m0 4h0m3-9h0m0 3h0m3 4h0m1-3h0m2 5h0m2 2h0m3-3h0m0 3h0m2-6h0m2 3h0m3-2h0m1-6h0m3 3h0m2 4h0m3-1h0m2 2h0m1-8h0m1 3h0m4 2h0m1-4h0m4 2h0m1 3h0m0 5h0m2-9h0m1 2h0m1 4h0m2-7h0m4-1h0m0 8h0m3-8h0m1 4h0m3 6h0m2-2h0m5-6h0m3 8h0m3-9h0m0 8h0m3-7h0m1 6h0m3-8h0m1 8h0m2-2h0m1-5h0m1 10h0m1-6h0m0 4h0m2-8h0m0 10h0m1-3h0m1-6h0m2 3h0m0 2h0m2-1h0m0 3h0m2 1h0m1-5h0m1-3h0m3 2h0m3-4h0m8 6h0m19 15h0m-3 0h0m-1-5h0m-3 7h0m-1-10h0m-2 6h0m-2-4h0m-2 6h0m-4-6h0m-1 5h0m-1-7h0m0 4h0m-2-3h0m-3 3h0m0 3h0m-2-7h0m-1 6h0m-1 4h0m-1-10h0m0 3h0m-2 7h0m-2-9h0m0 4h0m0 3h0m-2-9h0m-1 9h0m-1-4h0m-4-3h0m-2 3h0m-3-2h0m-3-2h0m-3 3h0m-2-2h0m0 7h0m-5-2h0m-2-6h0m-4 3h0m-2-3h0m-5 3h0m-3 3h0m-2-7h0m-1 9h0m-6-9h0m0 5h0m-16 4h0m-2-5h0m0 7h0m-3-1h0m-2-4h0m-1-3h0m-4 0h0m0 5h0m-1-8h0m-4 5h0m0 4h0m-2-6h0m0 4h0m-3-2h0m-1-4h0m-3-1h0m-3 3h0m-1-3h0m-14 8h0m-6-6h0m0 5h0m-4 0h0m-3-4h0m0 5h0m-5-6h0m0 6h0m-3-7h0m-1 3h0m-3 2h0m-3-4h0m0 8h0m-1-3h0m-2-4h0m0 6h0m-4 0h0m-1-8h0m-1 5h0m-3-4h0m0 6h0m-4-3h0m-2-3h0m0 6h0m-4-8h0m0 4h0m-1 5h0m-4-4h0m0 6h0m-3-6h0m-2-2h0m-2 4h0m-2 3h0m-1-2h0m-1-3h0m-1 6h0m-3-7h0m0 3h0m-1 4h0m-1-4h0m-1-7h0m-2 9h0m-3-2h0m-1-5h0m-2 7h0m-2-7h0m-3 5h0m-2-3h0m-2-4h0m-1 5h0m-3 3h0m-2-7h0m-3 1h0m0 3h0m0 5h0m-2-1h0m-3-6h0m-1 4h0m0 3h0m-2-9h0m-1 4h0m-1 2h0m-2-2h0m-1-4h0m0 10h0m-3-8h0m0 6h0m-5 0h0m-1 2h0m-3-2h0m-3-5h0m-4 3h0m-3 3h0m-3 0h0m-1-9h0m-6 1h0m-5-2h0m-2 4h0m-2 4h0m-1-6h0m-2 8h0m-5 0h0m-2-9h0m-4 6h0m-4-6h0m-2 4h0m-4 2h0m-2-7h0m-2 7h0m-2-4h0m-3-1h0m-2 9h0m-5-1h0m-1-4h0m-9-3h0m-1 8h0m-1-6h0m-1-3h0m-1 8h0m-1-3h0m-2 1h0m-2-6h0m-2 5h0m-5-6h0m0 5h0m-2 2h0m-3-4h0m-6-1h0m-4 3h0m-7 0h0m-1 4h0m-3-10h0m-3 9h0m-17 11h0m10 2h0m4-3h0m1 3h0m4 0h0m1-7h0m6 8h0m1-9h0m3-2h0m1 10h0m3-9h0m0 5h0m3 4h0m1-4h0m2 5h0m1-10h0m0 7h0m1-4h0m2 0h0m1 5h0m1-3h0m7-6h0m0 4h0m1 5h0m2-7h0m1 7h0m1-5h0m1-3h0m1 6h0m3-2h0m0 4h0m2 1h0m3-2h0m5 1h0m1-7h0m1 3h0m4-5h0m0 2h0m3 9h0m2-1h0m1-4h0m1-4h0m2-2h0m0 5h0m2-4h0m2 5h0m0 4h0m2-6h0m0 3h0m1-7h0m1 11h0m6-10h0m0 3h0m5 3h0m4-1h0m3-3h0m1 3h0m0 5h0m2-9h0m0 7h0m3-5h0m0 3h0m2 3h0m1-5h0m1-2h0m3 8h0m1-3h0m2-3h0m0 6h0m5-2h0m1-9h0m6 7h0m3 2h0m2-3h0m1-4h0m4 0h0m1 9h0m2-6h0m6 5h0m1-4h0m2-5h0m1 3h0m0 3h0m3-6h0m0 4h0m1 4h0m2-2h0m0 4h0m1-8h0m2-3h0m0 6h0m2 4h0m1-5h0m1 4h0m1-6h0m3 8h0m2-4h0m0 4h0m1-9h0m2 3h0m1-5h0m0 9h0m0 2h0m2-6h0m1-5h0m0 2h0m0 9h0m3-6h0m2-3h0m3-1h0m1 4h0m1 4h0m2-6h0m0 3h0m1 5h0m4-8h0m1 2h0m3 0h0m2 0h0m1 2h0m3-2h0m3-4h0m1 3h0m1 4h0m3 1h0m5 0h0m1-3h0m3-6h0m7 10h0m5-6h0m1 5h0m2-8h0m0 5h0m2 5h0m1-11h0m0 7h0m3 0h0m3-1h0m3-1h0m1 3h0m4-5h0m0 6h0m3 2h0m5-5h0m3 1h0m7-2h0m0 4h0m1-9h0m2 8h0m2-4h0m2-4h0m2 5h0m4 2h0m1-7h0m0 2h0m2 6h0m1-3h0m3 6h0m2 0h0m2-6h0m3-5h0m0 7h0m3-4h0m5 7h0m4-8h0m0 9h0m5-1h0m1-6h0m2 5h0m3-2h0m10-2h0m6-3h0m1 9h0m3-6h0m3 3h0m3-6h0m3-1h0m5 5h0m4 4h0m1-10h0m1 7h0m1-4h0m3 2h0m5 5h0m2-9h0m1 7h0m1-3h0m2 4h0m2-9h0m1 11h0m3-11h0m0 9h0m2 2h0m2-6h0m0 2h0m4-6h0m0 4h0m2 0h0m0 4h0m1-6h0m2 4h0m1-3h0m2 2h0m1 3h0m1-8h0m2 9h0m1-3h0m3-1h0m3 4h0m14 13h0m-5-8h0m-1 8h0m-2-5h0m-4 0h0m-2 3h0m-1-5h0m-3 6h0m-3 0h0m-1-7h0m-2-2h0m0 6h0m-6-3h0m-1 3h0m-2-3h0m-2 4h0m-1-3h0m-1 6h0m-2-2h0m-2-9h0m-1 7h0m-3-5h0m-2-2h0m0 4h0m0 7h0m-3-7h0m0 3h0m-3-5h0m-1 4h0m-4 3h0m-2-5h0m-2-3h0m-3 4h0m-3 2h0m-4-4h0m-2 3h0m-4 1h0m-1-4h0m-4 6h0m-1-3h0m-1 4h0m-4-6h0m-2 5h0m-2-9h0m-2 8h0m-3 3h0m-1-10h0m0 7h0m-2-3h0m0 5h0m-2-10h0m-1 11h0m-1-6h0m-1-4h0m-4 0h0m-1 5h0m0 4h0m-2-6h0m0 6h0m-3-7h0m0 4h0m-2-5h0m-1 9h0m-2-11h0m0 4h0m-2 6h0m-2-8h0m0 6h0m-2 3h0m-1-5h0m-2-3h0m-5-3h0m-1 4h0m-8-3h0m0 10h0m-4-1h0m-2-7h0m0 4h0m-5-6h0m-4 7h0m-4-3h0m-4-2h0m-4 1h0m-2 6h0m-2-10h0m-1 11h0m-4 0h0m-3-6h0m-5-1h0m-4-4h0m0 4h0m-1 5h0m-3-3h0m-1 3h0m-1-6h0m-2 8h0m-2-8h0m-3-2h0m0 3h0m0 5h0m-4 2h0m-2-9h0m0 3h0m0 3h0m-2-1h0m-1-6h0m-2 3h0m-1 6h0m-2-3h0m-3-1h0m-6-2h0m0 5h0m-3-8h0m0 5h0m-2-2h0m-2 5h0m-1-9h0m-3 8h0m-1-3h0m-1-5h0m-1 9h0m-3 1h0m-1-8h0m-1 5h0m-2-2h0m0 4h0m-5-7h0m-2 0h0m-2 8h0m-1-9h0m0 2h0m0 2h0m-2-4h0m0 7h0m-3-5h0m-1 3h0m-2-4h0m0 3h0m-2-5h0m-1 4h0m-1 5h0m-3-4h0m0 6h0m-3-3h0m-1-8h0m0 4h0m-3 7h0m-3-9h0m-2 6h0m-2 3h0m-1-6h0m-1 4h0m-2-2h0m-1-5h0m-1 9h0m-5-8h0m-4-2h0m0 3h0m0 4h0m-2 3h0m-1-7h0m0 2h0m-2 4h0m-4-6h0m-1-3h0m-1 4h0m-2 2h0m-2-6h0m0 9h0m-3-2h0m-1 3h0m-1-6h0m-2-5h0m0 10h0m-2-8h0m0 7h0m-1 2h0m-1-11h0m-2 5h0m-5 2h0m-6-4h0m0 6h0m-3-8h0m0 4h0m-2 6h0m-2-8h0m-2 1h0m0 7h0m-1-3h0m-2-6h0m-1 3h0m-1 4h0m-2-8h0m0 3h0m-1 3h0m0 2h0m-6 0h0m-5-5h0m0 5h0m-1-7h0m-1 4h0m-1-2h0m0 6h0m-2-9h0m-1 6h0m-1 3h0m-2-9h0m-1 4h0m-7 5h0m-9-5h0m-5 5h0m-1-9h0m0 5h0m-2 3h0m-4-6h0m-2 5h0m-1 3h0m-3-8h0m0 6h0m-2-8h0m-1 6h0m-3-4h0m-1 8h0m-6-3h0m-1 3h0m-1-8h0m-2 8h0m-1-4h0m-14-7h0m5 14h0m4 9h0m3-5h0m2-2h0m0 5h0m4-5h0m0 3h0m1-6h0m2 5h0m0 5h0m2-8h0m0 5h0m5-8h0m0 7h0m2-4h0m1 4h0m0 3h0m2-3h0m1 2h0m1-3h0m0 5h0m3-7h0m0 6h0m1-3h0m1-2h0m3-3h0m0 8h0m1-4h0m2-4h0m0 6h0m3-7h0m0 5h0m7 1h0m2-6h0m3 1h0m2 6h0m3-5h0m4 0h0m4 6h0m3-7h0m1 6h0m0 2h0m7-5h0m1 3h0m1-7h0m2 1h0m2 9h0m3-10h0m0 8h0m3 2h0m2-7h0m1 4h0m7-7h0m0 3h0m1 6h0m1-2h0m2-1h0m1-5h0m2 5h0m0 4h0m2-10h0m0 6h0m1 3h0m1-5h0m2 1h0m0 4h0m1-8h0m3 1h0m0 3h0m1 3h0m2-5h0m2 4h0m1-5h0m1-3h0m1 3h0m0 2h0m1 4h0m1-9h0m2 1h0m0 5h0m1 3h0m4-4h0m2 5h0m1-3h0m1-5h0m1 9h0m5-4h0m1-4h0m1 8h0m1-3h0m3 0h0m3-6h0m4 1h0m1 4h0m2 3h0m3-7h0m2 5h0m1-3h0m1-3h0m1 8h0m1-10h0m1 5h0m7-5h0m3 2h0m0 5h0m3 0h0m2-6h0m0 7h0m1-5h0m1 2h0m2-5h0m0 11h0m1-5h0m2-4h0m0 6h0m3-3h0m1 4h0m3 0h0m1-4h0m1 6h0m2-6h0m1-5h0m0 10h0m4-2h0m8 0h0m5-6h0m1 5h0m5-4h0m0 4h0m5-5h0m4-2h0m2 3h0m7 0h0m10 2h0m3-1h0m1 6h0m4-5h0m2 6h0m1-9h0m1 3h0m1 4h0m3 2h0m1-4h0m3-5h0m5 1h0m4 5h0m3-3h0m3 2h0m1 3h0m1-8h0m2 7h0m8 2h0m4-5h0m2-5h0m2 5h0m3-2h0m0 6h0m5-8h0m0 2h0m0 6h0m4 0h0m2-10h0m2 7h0m1 3h0m4-8h0m1 3h0m0 5h0m2-2h0m1-6h0m3 0h0m0 3h0m3 5h0m4-8h0m0 3h0m2 3h0m1-2h0m2-6h0m2 3h0m0 5h0m1-2h0m1-4h0m0 7h0m3-8h0m0 7h0m0 2h0m1-5h0m1 3h0m2-1h0m3 1h0m2-6h0m2 5h0m4-6h0m0 4h0m1 5h0m3-4h0m2 2h0m1-3h0m3 1h0m3-3h0m0 5h0m1-8h0m2 6h0m0 3h0m1-6h0m3 7h0m1-5h0m3 1h0m1-4h0m1 8h0m3-2h0m4-2h0m0 4h0m1-8h0m2 3h0m2 2h0m4-3h0m1-3h0m3 7h0m1-8h0m1 3h0m3-2h0m1 5h0m1-2h0m4 7h0m3-4h0m3 1h0m1-2h0m0 4h0m2-7h0m0 3h0m10 2h0m2-1h0m0 4h0m5 0h0m8 6h0m0 5h0m-3-2h0m-6-4h0m-6 4h0m-1-2h0m0 4h0m-1-8h0m-5 9h0m-2-3h0m-3 2h0m-1-8h0m-1 9h0m-3-4h0m-1 3h0m-2-3h0m-3-1h0m0 5h0m-5-1h0m-1-7h0m-3 2h0m-2-4h0m-1 3h0m0 3h0m-3-3h0m-1 4h0m-1 3h0m-1-9h0m-1 2h0m-1 4h0m-1-8h0m-1 6h0m-5-5h0m-1 9h0m-1-7h0m-3 1h0m-4-4h0m-1 11h0m-2-6h0m-3-4h0m-1 5h0m-1-3h0m-1-3h0m-3 0h0m-1 3h0m-2 5h0m-2-5h0m-2-3h0m-1 3h0m0 5h0m-2-7h0m0 4h0m-2-2h0m-4-2h0m0 3h0m-1 4h0m0 3h0m-1-11h0m0 3h0m-2 7h0m-1-5h0m-1 5h0m-4-10h0m0 3h0m-1 3h0m-2 0h0m-2-3h0m-2 6h0m-1-6h0m-6 5h0m-3-6h0m-3 2h0m-1 6h0m-2 1h0m-1-10h0m-2 8h0m-1-8h0m0 4h0m-2 4h0m-1-9h0m0 3h0m-1 8h0m-1-5h0m-2 3h0m-1-6h0m-2 3h0m-1-5h0m-1 7h0m-2-3h0m0 6h0m-1-9h0m0 6h0m-2-4h0m-1 7h0m-2-4h0m-1-4h0m-6 6h0m-3-9h0m-1 10h0m-1-8h0m-3 4h0m-2 4h0m-2-7h0m-2 6h0m-2-6h0m-5-2h0m-2 7h0m-3-2h0m-3-4h0m0 4h0m-4-3h0m0 5h0m-1 3h0m-1-11h0m-9 9h0m-5-2h0m-2 4h0m-7-7h0m-2 7h0m-1-6h0m0 3h0m-4-3h0m-1 3h0m-1-7h0m-4 6h0m-1-5h0m0 8h0m-3-3h0m-4 4h0m-7-8h0m0 5h0m-5-7h0m-1 4h0m0 3h0m-3-5h0m0 4h0m-1 3h0m-2-7h0m-2 2h0m0 3h0m-1-6h0m-1-2h0m0 10h0m-2-7h0m0 6h0m-2-2h0m-2-4h0m-1 7h0m-1-3h0m-1-6h0m0 3h0m-2-4h0m0 9h0m-2-6h0m-4 2h0m-4-5h0m-1 8h0m-1-4h0m-3-3h0m-3 0h0m-2 5h0m-3-1h0m-4-5h0m0 11h0m-3-2h0m-2-6h0m0 8h0m-3 0h0m-1-6h0m-6-5h0m-1 6h0m-1 5h0m-1-2h0m-7-7h0m-5 8h0m-2-7h0m-3 6h0m-1-9h0m-1 3h0m-1 8h0m-3-11h0m0 4h0m-1 2h0m-1 3h0m-1-6h0m-4 1h0m-3-2h0m-3-2h0m-5 3h0m-1-3h0m-3 3h0m0 3h0m-1 3h0m-2-7h0m-1 2h0m-2 7h0m-5-5h0m-2-5h0m0 4h0m0 3h0m-4-8h0m0 7h0m-2 2h0m-3-5h0m0 6h0m-1-3h0m-2 0h0m-2-2h0m-1-4h0m-1 9h0m-1-4h0m-3-3h0m0 3h0m-3-6h0m-1 11h0m-1-8h0m-4 0h0m-3-1h0m0 3h0m-2 3h0m-2-4h0m0 3h0m-2 3h0m-1-10h0m0 5h0m-1 2h0m-2-5h0m0 7h0m-2-6h0m0 7h0m-4-10h0m-3 3h0m-1 3h0m0 3h0m-1-8h0m-1 8h0m-3-8h0m0 2h0m0 4h0m-4 2h0m-1-7h0m-4 2h0m0 6h0m-4-8h0m0 9h0m-2-4h0m-2-3h0m-2 7h0m-3-2h0m-2-6h0m-4 20h0m7-6h0m1-3h0m1 9h0m1-4h0m2 3h0m4-8h0m1 3h0m1 3h0m3-7h0m1 5h0m1-6h0m0 4h0m1 4h0m3 0h0m2-8h0m1 5h0m2 3h0m1-7h0m2 4h0m0 2h0m0 4h0m2-3h0m7-2h0m1-3h0m2-1h0m1 3h0m0 3h0m1 3h0m2-10h0m1 8h0m1-3h0m1-4h0m2 0h0m0 5h0m2-6h0m2 9h0m1-6h0m1-2h0m0 6h0m2-7h0m0 5h0m0 3h0m1-6h0m3 8h0m1-10h0m3-1h0m1 4h0m0 4h0m3-7h0m3 7h0m1-8h0m0 4h0m2-3h0m0 6h0m3-7h0m0 9h0m3-8h0m1 10h0m1-7h0m2 2h0m1 4h0m1-10h0m1 8h0m2-3h0m0 6h0m6-6h0m0 5h0m2-7h0m2-3h0m0 11h0m2-5h0m0 4h0m2-2h0m1 3h0m2-11h0m0 4h0m5 7h0m2-3h0m1-3h0m3-3h0m0 7h0m3-9h0m4 2h0m3 0h0m0 8h0m1-6h0m3-4h0m0 3h0m2 5h0m2-4h0m1 2h0m1-4h0m0 9h0m2-7h0m1 3h0m1-7h0m1 5h0m7-1h0m0 3h0m3 0h0m0 3h0m3-8h0m0 9h0m3-3h0m3-4h0m10 6h0m5-4h0m4 0h0m2-6h0m2 2h0m0 3h0m0 3h0m4-4h0m12-4h0m0 9h0m1-6h0m1-2h0m3-1h0m0 9h0m1-3h0m7 0h0m0 4h0m4-5h0m1-5h0m2 11h0m4-1h0m1-6h0m1 3h0m2-3h0m1 6h0m2-3h0m1-4h0m3 4h0m2-3h0m0 7h0m4-8h0m0 3h0m0 3h0m6 1h0m1-3h0m5-7h0m0 11h0m2-3h0m1-4h0m3 4h0m1 3h0m2-11h0m0 6h0m3-6h0m3 2h0m0 3h0m2 5h0m2-7h0m1 4h0m1-5h0m3-2h0m5 5h0m2-4h0m0 8h0m2-7h0m0 2h0m1 3h0m1 4h0m1-3h0m1 3h0m1-11h0m1 3h0m0 3h0m0 3h0m2-9h0m1 2h0m2-2h0m1 5h0m0 3h0m0 3h0m1-1h0m1-8h0m0 6h0m1-2h0m1-4h0m1 6h0m0 3h0m1-5h0m2 1h0m1 2h0m3-5h0m5 0h0m2-2h0m0 6h0m2-3h0m3 0h0m2 4h0m1-5h0m2-4h0m0 7h0m3-2h0m2 4h0m2-8h0m0 6h0m1 4h0m2-6h0m4 3h0m2 3h0m1-10h0m0 4h0m3-3h0m0 3h0m5 3h0m3-4h0m4 3h0m2-3h0m2-1h0m1 5h0m2-3h0m1-4h0m2 5h0m2-5h0m9 3h0m7-4h0m0 5h0m1 4h0m3-8h0m0 4h0m0 3h0m2-5h0m1 8h0m1-6h0m0 3h0m2-5h0m2-2h0m2 6h0m1-3h0m3 0h0m0 4h0m1 3h0m3-10h0m1 3h0m2-2h0m1 4h0m2-4h0m1 4h0m1 3h0m1-6h0m2 3h0m2-5h0m0 10h0m2-2h0m2-6h0m0 3h0m3-5h0m0 3h0m1 3h0m1 3h0m1-9h0m0 3h0m3-3h0m0 7h0m3-1h0m2-1h0m1-6h0m1 4h0m1 5h0m1-7h0m4 6h0m2-8h0m3 11h0m6 0h0m2-7h0m4 5h0m2-5h0m1 3h0m2-2h0m1 6h0m2-6h0m3 2h0m3 1h0m4 2h0m8 1h0m18 11h0m-3-2h0m-4 0h0m-2-6h0m-2 7h0m-2-6h0m-1 3h0m0 4h0m-1-9h0m-1 4h0m-2-2h0m0 5h0m-2-3h0m0 5h0m-1-8h0m-1 7h0m-1-2h0m-5-3h0m0 4h0m-3-8h0m-1 5h0m-1 4h0m-1-7h0m-6 3h0m-1-4h0m0 8h0m-2-9h0m-1 3h0m0 6h0m-3-4h0m0 5h0m-3-7h0m-3 0h0m0 8h0m-3-3h0m-1-2h0m-2-5h0m-3 1h0m0 3h0m0 5h0m-2-3h0m-1-3h0m-1-2h0m0 8h0m-1-2h0m-4-8h0m0 3h0m0 5h0m-2 1h0m-1-8h0m-2 4h0m-3 1h0m0 2h0m-1-4h0m-1-4h0m-4 0h0m0 5h0m-1-3h0m0 6h0m-2-6h0m-2 2h0m-5-1h0m0 4h0m0 4h0m-4-9h0m-1 5h0m-3 1h0m-3-7h0m-4 9h0m-4-5h0m-1-4h0m-3-1h0m-1 7h0m-4-7h0m0 11h0m-1-7h0m-2 4h0m-1-4h0m-3-3h0m0 6h0m-3 2h0m-1-9h0m-1 6h0m-5-1h0m-4 1h0m-1 3h0m-4-6h0m-1 4h0m-1 3h0m-3-6h0m0 5h0m-4-9h0m-4 2h0m-3 1h0m0 8h0m-1-5h0m-2-5h0m-1 10h0m-1-5h0m-1-2h0m-1 7h0m-1-8h0m-5 1h0m-3 1h0m0 4h0m-2-8h0m-1 7h0m-1-3h0m-3-2h0m-2-2h0m0 8h0m-2-5h0m-1 5h0m-3-8h0m-1 9h0m-2-7h0m-1-3h0m-2 2h0m-1-2h0m0 4h0m-2 5h0m-2-4h0m-2-5h0m0 3h0m-1 3h0m0 5h0m-1-9h0m-1 4h0m-1-5h0m0 3h0m0 7h0m-2-9h0m-10-2h0m0 11h0m-3-11h0m-2 2h0m0 3h0m-1 4h0m-2-2h0m-2 4h0m-2-9h0m0 6h0m-1 3h0m-3-2h0m-2-7h0m-4 1h0m-2 8h0m-1-3h0m-3-3h0m0 3h0m0 3h0m-3-8h0m-5 4h0m-5-3h0m-1 5h0m-4 2h0m-7-11h0m-4 2h0m-1 3h0m-1 4h0m-3 1h0m-4 0h0m-1-8h0m-1-2h0m-1 4h0m0 7h0m-2-4h0m-1-5h0m-2 1h0m-2-1h0m-3 0h0m-2 1h0m-5-2h0m-4-1h0m-1 9h0m-2-3h0m0 5h0m-3-11h0m-4 3h0m-2 6h0m-1-3h0m-3-5h0m-3 4h0m0 6h0m-3-9h0m-1 8h0m-4-6h0m-2 4h0m-1-5h0m-4-2h0m-2 0h0m-2 7h0m-1-4h0m-3-3h0m0 8h0m-3-5h0m0 7h0m-2-3h0m-1-5h0m-1-2h0m0 8h0m-3 1h0m-1-7h0m-4-1h0m0 2h0m-3-1h0m0 7h0m-4-4h0m-2 4h0m-1-4h0m-3 2h0m-1-6h0m-1 3h0m-1 6h0m-2-9h0m-3 0h0m-1 3h0m0 5h0m-2-6h0m-1-3h0m0 6h0m-5-7h0m0 4h0m-5 5h0m-3 2h0m-2-8h0m-4 2h0m-1 5h0m-2-4h0m-1 4h0m-1-6h0m-1 2h0m-2-4h0m-2 2h0m-1 7h0m-1-3h0m-1 2h0m-1-2h0m-2 3h0m-3-11h0m-1 9h0m-4-7h0m0 7h0m-2-9h0m0 4h0m-1 6h0m-3-1h0m-1-3h0m-4-5h0m0 5h0m-1 5h0m-2-5h0m-1 4h0m-3 0h0m-2-2h0m-4-3h0m-1-4h0m-3 3h0m-4 7h0m-1-8h0m-1 5h0m-3-6h0m0 8h0m-3-8h0m0 4h0m0 3h0m-4-5h0m-1 2h0m-2 1h0m-2-4h0m-3 4h0m0 4h0m-2-3h0m0 3h0m-1-9h0m-1 4h0m-2-6h0m0 10h0m-2-5h0m-1 3h0m-2-4h0m-2 2h0m0 3h0m-4 0h0m-2-7h0m0 9h0m-1-4h0m-2 3h0m-1-8h0m-1 6h0m-1 4h0m1 6h0m6 5h0m3-5h0m2-3h0m0 5h0m3-3h0m0 3h0m1-6h0m1 8h0m1-9h0m1 4h0m1 4h0m3-2h0m1 3h0m3 0h0m1-3h0m1-5h0m2 1h0m2 5h0m3-4h0m1-4h0m3 11h0m2-10h0m0 6h0m1-3h0m3 4h0m2-7h0m1 5h0m2 3h0m1-8h0m3 8h0m1-6h0m1 3h0m2-5h0m0 3h0m2-1h0m1-2h0m0 5h0m2-2h0m1-2h0m0 5h0m2 3h0m1-4h0m1 3h0m3-9h0m0 3h0m1 2h0m2-4h0m3 2h0m0 3h0m2 3h0m1-8h0m1 3h0m3 4h0m1-2h0m2-4h0m2 7h0m2-8h0m1 7h0m4-7h0m1 5h0m1 4h0m1-8h0m4-1h0m1 8h0m4-2h0m5 2h0m3-4h0m3 5h0m1-9h0m0 5h0m3 2h0m13-1h0m1-5h0m1 8h0m3-8h0m0 3h0m0 6h0m3 0h0m8-10h0m0 8h0m1-5h0m2 7h0m3-3h0m2 3h0m1-9h0m3 8h0m3 0h0m1-2h0m1-6h0m3 1h0m4 3h0m2 0h0m2 3h0m4-8h0m1 4h0m2-5h0m4 3h0m11-3h0m0 3h0m0 3h0m2 5h0m2-8h0m1-3h0m1 9h0m3-7h0m0 3h0m3 5h0m2-3h0m4 0h0m3-3h0m3 7h0m1-8h0m1 4h0m3-4h0m0 8h0m3-6h0m1 3h0m2 3h0m2-5h0m2-4h0m1 4h0m2 4h0m1-6h0m1 4h0m1-7h0m2 7h0m1-6h0m1 5h0m0 3h0m4-5h0m1-5h0m3 2h0m3 5h0m3-2h0m1-3h0m2 4h0m2-4h0m2 8h0m3-9h0m0 10h0m2-7h0m0 5h0m3-7h0m1 7h0m3-8h0m3 6h0m2 2h0m7-8h0m4 7h0m1-5h0m3-1h0m5-2h0m3 0h0m2 0h0m1 3h0m0 7h0m2-10h0m1 7h0m0 3h0m2-4h0m2 3h0m1-5h0m2 2h0m2-6h0m0 3h0m3-1h0m0 6h0m1-8h0m3 3h0m3-3h0m0 4h0m2 0h0m3-4h0m0 6h0m2 3h0m3-1h0m2-4h0m1 6h0m2-8h0m1 4h0m3 3h0m2-9h0m3 4h0m4-3h0m4 1h0m1 8h0m2-7h0m2 7h0m3-7h0m3 6h0m1-8h0m2 5h0m3 1h0m4-1h0m3-2h0m5 1h0m5 0h0m4 5h0m4-10h0m3 10h0m4-6h0m0 4h0m3-2h0m7-3h0m3-3h0m3 0h0m0 3h0m2 5h0m2-8h0m1 5h0m0 5h0m1-8h0m3 4h0m1-4h0m0 7h0m4 1h0m1-4h0m1-6h0m1 5h0m1-2h0m0 5h0m0 3h0m1-11h0m1 5h0m2-5h0m1 4h0m1 7h0m1-11h0m0 4h0m3-3h0m0 5h0m3-4h0m12-1h0m3 5h0m1-4h0m4 5h0m1-4h0m6-2h0m2 5h0m14-6h0m6 2h0m-67 17h0m-2-7h0m-6 2h0m-2 3h0m-17-5h0m-4 0h0m-5 4h0m-1 7h0m-6-8h0m-3 2h0m-1 4h0m-4-2h0m-9-3h0m-3 4h0m-5 0h0m-3-2h0m-3-4h0m-3 8h0m-1-8h0m-2 6h0m-1 3h0m-1-9h0m-1 9h0m-4-11h0m-2 7h0m-4-1h0m0 5h0m-2-7h0m-1 7h0m-1-9h0m-3 0h0m-1 4h0m-3 0h0m-1-2h0m-3-4h0m-2 11h0m-2-3h0m-1 3h0m-2-10h0m-3 2h0m-1 6h0m-3-9h0m-1 9h0m-4 1h0m-2-6h0m-1 7h0m-2-9h0m-1 5h0m-3 0h0m-1-7h0m0 4h0m-4 6h0m-1-4h0m-1 3h0m-1-6h0m-2-3h0m-4 11h0m-1-11h0m-1 4h0m0 4h0m-3-7h0m-1 3h0m-3 2h0m0 5h0m-5-2h0m-2-6h0m-3 6h0m-2-4h0m-3 4h0m-4-9h0m0 6h0m-2-3h0m0 5h0m0 3h0m-2-11h0m0 7h0m-1 2h0m-4 0h0m-1-2h0m-2-3h0m-1 4h0m-1-6h0m0 4h0m-4 3h0m-1-9h0m-3 3h0m-6 4h0m-3-2h0m-4-5h0m-5 2h0m-5 3h0m-1 3h0m-1-3h0m-3-1h0m-1 3h0m-1-3h0m-3 2h0m-2-2h0m-4-2h0m-2 5h0m0 3h0m-7-10h0m-4 7h0m-4 3h0m-1-8h0m-2 7h0m-2-5h0m-1 3h0m-3 1h0m-4 0h0m-1-4h0m-2-4h0m-1 3h0m-2-3h0m-2 5h0m-3-4h0m0 4h0m-2-4h0m-4 1h0m-1 3h0m-4-4h0m-8 3h0m0 7h0m-2-2h0m-2 2h0m-2-3h0m-3-7h0m0 5h0m-1-3h0m-1 8h0m-3-9h0m0 7h0m-8-7h0m0 4h0m-2 3h0m-1-5h0m-2 1h0m-1 3h0m-3 1h0m-1-5h0m-1-2h0m-1 8h0m-2-10h0m0 2h0m0 6h0m-2-4h0m-3 0h0m-1 3h0m0 3h0m-5-9h0m-1 3h0m-1-4h0m0 8h0m-2-6h0m-4-1h0m-1 2h0m-1 3h0m-2-6h0m0 10h0m-1-7h0m-2 8h0m-1-7h0m-3-3h0m-2 6h0m-3 1h0m-2-8h0m0 5h0m-2 3h0m-1 3h0m-1-8h0m-3 6h0m-1-6h0m-3-3h0m-1 9h0m-1-9h0m-1 11h0m-1-5h0m-2-3h0m0 5h0m-2-2h0m-2 2h0m-1-2h0m-1 4h0m-1-6h0m-1 4h0m-1-3h0m-2 6h0m-2 0h0m-2-11h0m0 5h0m-2 4h0m-1-4h0m-3-2h0m0 6h0m-1-8h0m-1 10h0m-1-10h0m-2 4h0m-2 3h0m-1-6h0m-4 0h0m-2 4h0m0 3h0m-1-6h0m-1-3h0m-1 9h0m-4-6h0m-2-2h0m-2 9h0m-2-10h0m-1 4h0m-2-2h0m-2 7h0m-2-9h0m-2 4h0m3 12h0m3-4h0m0 10h0m2-4h0m1-5h0m1 2h0m1 2h0m2-4h0m0 6h0m3-7h0m4 0h0m1 9h0m2-7h0m3 4h0m0 3h0m8-3h0m0 5h0m3-8h0m1-3h0m2 7h0m2-4h0m1 7h0m3-6h0m3-4h0m2 2h0m1 7h0m1-9h0m1 7h0m1 2h0m2-7h0m2 7h0m1-5h0m2-4h0m0 7h0m2-2h0m1 3h0m1 3h0m1-11h0m4 9h0m2-3h0m1 4h0m1-7h0m2 6h0m1-5h0m1-3h0m0 8h0m1-3h0m4 1h0m2-4h0m4-2h0m2 9h0m2-10h0m5 8h0m6 1h0m9-8h0m2 2h0m1 7h0m1-10h0m0 5h0m4 4h0m4-8h0m3 9h0m6-3h0m2-5h0m1 3h0m2 3h0m1-7h0m1 4h0m3-3h0m8 2h0m2-3h0m2 6h0m3-7h0m4 0h0m3 1h0m2 4h0m1 4h0m3-9h0m1 3h0m1 3h0m2-5h0m1 3h0m5 4h0m2-8h0m1 3h0m1 3h0m2 3h0m1-6h0m2 5h0m0 3h0m1-7h0m1-3h0m1 9h0m3-5h0m2 0h0m1-4h0m1 7h0m2-6h0m0 3h0m2 2h0m1-4h0m4 0h0m1 3h0m0 3h0m3 2h0m1-10h0m0 5h0m5-4h0m0 6h0m1-3h0m1-2h0m1-3h0m1 8h0m3-3h0m2-2h0m1 4h0m6 1h0m4 0h0m1-4h0m1-4h0m9 8h0m1-8h0m0 6h0m0 5h0m2-8h0m1 7h0m1-4h0m1-3h0m0 8h0m2-5h0m1-2h0m1-4h0m0 9h0m1-4h0m2-5h0m0 3h0m2 2h0m1 4h0m2-7h0m0 4h0m0 3h0m2-5h0m5 2h0m0 4h0m3-7h0m6 0h0m0 4h0m0 3h0m2-6h0m0 7h0m4-11h0m0 3h0m0 8h0m6-8h0m0 3h0m1-6h0m2 9h0m1-3h0m1-4h0m2 6h0m3-3h0m1 4h0m3-4h0m1-4h0m1 8h0m3-7h0m0 5h0m3-3h0m4 1h0m1 2h0m0 4h0m1-8h0m1 3h0m3-2h0m1-3h0m0 7h0m4-6h0m0 3h0m1 5h0m2-9h0m2 3h0m3 3h0m2-2h0m1 4h0m1-6h0m3 6h0m3-6h0m3 3h0m0 3h0m2-5h0m0 3h0m4 3h0m2-7h0m3 0h0m2 3h0m1-4h0m4 9h0m1-4h0m5-6h0m1 5h0m8-6h0m0 5h0m4-3h0m12 5h0m4 4h0m8-6h0m373 18h0m-333-9h0m-2-1h0m-43 6h0m-4-3h0m-2-3h0m-1 8h0m-1-5h0m-7-1h0m-4 4h0m-8-4h0m-4 0h0m0 8h0m-3-4h0m-6-7h0m0 10h0m-2-5h0m-2 3h0m-1-3h0m-1 5h0m-1-3h0m-2-3h0m-2-2h0m0 7h0m-1-3h0m-2 5h0m-1-4h0m-2-4h0m0 7h0m-3-10h0m-1 7h0m-1-2h0m-3-4h0m0 3h0m0 5h0m-1-2h0m-2-1h0m0 2h0m-2-6h0m-2 4h0m0 4h0m-2-2h0m-1-5h0m-3 0h0m0 6h0m-1-9h0m-2 8h0m-3-7h0m0 8h0m-4-1h0m-1-6h0m-2 2h0m-1-4h0m-3 1h0m-1 9h0m-3-2h0m-1-7h0m0 3h0m-2 7h0m-1-11h0m0 5h0m-1-2h0m-2 7h0m-1-10h0m-3 1h0m-1 4h0m-1 3h0m-2-7h0m-2 3h0m-1 2h0m-4-2h0m0 6h0m-2-5h0m-1 3h0m0 3h0m-4-9h0m0 6h0m-3-7h0m0 10h0m-2-2h0m-1-7h0m-1 5h0m-3 1h0m-2-6h0m-3 2h0m-1-4h0m-3 4h0m0 7h0m-1-10h0m-1 6h0m-2-3h0m-3 0h0m0 4h0m-4 1h0m-2-1h0m-1 2h0m-1-10h0m-1 5h0m-1-5h0m0 10h0m-1-8h0m-5 2h0m-2-4h0m-1 7h0m-2-3h0m-4 4h0m-1-6h0m-2 9h0m-3-11h0m0 3h0m-1 8h0m-2-8h0m-3-2h0m0 9h0m-2-2h0m-1-6h0m0 3h0m-2 3h0m-2-6h0m-2-2h0m-1 11h0m-2-8h0m-2 2h0m-1-5h0m-2 4h0m-3 2h0m-1-3h0m-1-3h0m-1 2h0m-4 0h0m0 3h0m0 4h0m-5-2h0m0 3h0m-1-9h0m-8 7h0m0 3h0m-3-4h0m-2-4h0m-3 1h0m0 3h0m-4-4h0m0 4h0m-4 1h0m-1-4h0m-3 5h0m-4-1h0m-5-1h0m-6 4h0m-1-10h0m-2 5h0m-1 4h0m-2-10h0m-2 6h0m-3 5h0m-3-10h0m-1 4h0m-4-4h0m-3-1h0m-1 10h0m-1-7h0m-1-2h0m-1 6h0m-2 2h0m-2-9h0m0 4h0m0 4h0m-2 1h0m-2-2h0m-2 4h0m-2-7h0m-1 3h0m-2-2h0m-3 0h0m0 5h0m-5-7h0m0 4h0m-5 3h0m-2-10h0m0 6h0m-2-2h0m-2 2h0m-4-5h0m-3 1h0m0 6h0m-1-8h0m-2 9h0m-1-5h0m-2 7h0m-3-10h0m-5 1h0m-2 5h0m0 4h0m-2-8h0m-4 7h0m-1-8h0m-2 4h0m-2 3h0m-3-7h0m0 3h0m-2 4h0m-2-3h0m-1 4h0m-1-10h0m0 4h0m-6 1h0m-2 3h0m-2-7h0m-2 2h0m-3-1h0m-1 3h0m0 6h0m-2-10h0m-1 8h0m-2 1h0m-3-1h0m-4-6h0m-1 8h0m-3-4h0m6 9h0m3-4h0m1 6h0m1 4h0m2-10h0m0 5h0m2 6h0m2-4h0m4-7h0m5 4h0m1-4h0m7 10h0m5-7h0m0 7h0m1-2h0m6-4h0m2 4h0m1-4h0m3-1h0m1 7h0m5-7h0m0 6h0m1-9h0m3 2h0m0 3h0m2 3h0m2-5h0m3-2h0m1 10h0m2-5h0m2 5h0m2-4h0m1 4h0m1-10h0m1 6h0m1 4h0m5-9h0m0 4h0m4-5h0m1 6h0m2-3h0m2 6h0m4-3h0m3-5h0m0 2h0m0 3h0m1 4h0m2-11h0m2 7h0m2 2h0m4-8h0m0 6h0m0 3h0m3-7h0m2 5h0m0 2h0m1-10h0m2 4h0m1-2h0m0 8h0m3-8h0m1 7h0m2-9h0m0 3h0m1 6h0m7-5h0m4 5h0m3-4h0m1 4h0m2-5h0m1 4h0m1 3h0m5-8h0m2-3h0m1 3h0m0 5h0m5-8h0m1 6h0m3-1h0m3-4h0m2 1h0m1 5h0m3-2h0m1 3h0m3 0h0m3-7h0m0 7h0m2-2h0m1-6h0m3 1h0m1 2h0m1 6h0m1-3h0m1-6h0m3 10h0m2-8h0m2 3h0m3 5h0m1-5h0m1 6h0m3-7h0m2 0h0m2-3h0m2 8h0m2-4h0m1 6h0m1-9h0m4 1h0m0 3h0m0 3h0m6-5h0m1-4h0m0 7h0m4-3h0m1-4h0m2 2h0m0 5h0m5-6h0m1 4h0m0 5h0m8-2h0m1-7h0m1 4h0m2-5h0m0 8h0m2-2h0m2-2h0m4 4h0m1-3h0m0 6h0m2-5h0m2 2h0m2-7h0m1 4h0m1 4h0m1-7h0m2 3h0m3 0h0m1-3h0m3 3h0m0 6h0m2-9h0m1 9h0m1-11h0m1 8h0m4-5h0m0 8h0m6-9h0m2 5h0m1-4h0m2 6h0m2-2h0m2 2h0m4-2h0m2-2h0m1-4h0m0 9h0m1-3h0m2-2h0m1 2h0m4-7h0m2 2h0m2 2h0m1-4h0m2 5h0m2-2h0m0 6h0m2-9h0m1 9h0m4-4h0m6 2h0m0 3h0m2-10h0m1 4h0m3 0h0m3 2h0m0 2h0m1-5h0m1 7h0m1-10h0m2 4h0m2-3h0m3-1h0m2 6h0m0 4h0m2-7h0m0 5h0m2-7h0m1 3h0m0 3h0m0 4h0m2-11h0m1 4h0m17 2h0m5 0h0m7-5h0m269 3h0m21 5h0m4-2h0m7 0h0m3 1h0m8-1h0m20 4h0m8 0h0m4-3h0m5-2h0m2 2h0m1-6h0m0 4h0m6-4h0m0 4h0m3-6h0m1 9h0m2-7h0m2 3h0m1-5h0m3 2h0m0 4h0m4-3h0m2-3h0m1 7h0m3-2h0m0 3h0m8-4h0m1 6h0m3 0h0m3-2h0m4 1h0m-3 6h0m-1 6h0m-3 1h0m-4-6h0m-3 6h0m-1-8h0m-3 1h0m-8-2h0m-6 0h0m-3 7h0m-4-7h0m-3 1h0m-3 6h0m-1-8h0m-5 1h0m-3 6h0m-2-6h0m0 9h0m-3-5h0m-4-1h0m-4 3h0m-1-3h0m-2-4h0m0 6h0m-3 0h0m-1-4h0m-1-2h0m0 9h0m-9-4h0m-1-4h0m-5 1h0m-5 2h0m-4-4h0m-34 11h0m-4 0h0m-267 0h0m-1-6h0m-5 2h0m-11-7h0m-5 9h0m-4-6h0m-1 7h0m-1-2h0m-1-7h0m-2 1h0m-1 7h0m-4 1h0m-2-10h0m-1 9h0m-1-5h0m-2 5h0m-1-6h0m-2 7h0m-1-9h0m0 7h0m-3-5h0m0 4h0m-2 2h0m-1-4h0m-3-3h0m0 3h0m-2-5h0m-1 4h0m0 3h0m-4-5h0m-1 5h0m-2-5h0m-4 5h0m-1 4h0m-4-11h0m-5 2h0m0 5h0m-4 1h0m-6-7h0m-1 7h0m-3-8h0m-2 11h0m-4-2h0m-2-6h0m-1 6h0m-3-3h0m-3 4h0m-1-8h0m-1 6h0m-5-6h0m0 8h0m-5-9h0m-1 8h0m-2-3h0m0 5h0m-3-5h0m-1 4h0m-4 1h0m-4-6h0m-1-5h0m-2 2h0m-2-2h0m-3 7h0m-2-7h0m0 3h0m-2 3h0m-1-5h0m0 10h0m-1-7h0m-3 6h0m-3-10h0m-4 2h0m0 7h0m-3-9h0m-2 8h0m-3 0h0m-1-4h0m-2 3h0m0 4h0m-5-9h0m-1 5h0m-10 0h0m-1-5h0m-2 1h0m0 5h0m-3 3h0m-2-3h0m-1-4h0m-1-3h0m-11 9h0m-2-4h0m-2-3h0m-3 7h0m-2-8h0m-2 8h0m-3 0h0m-4-2h0m-1-4h0m-2 2h0m-5-3h0m-3 5h0m-4 2h0m-1-8h0m0 4h0m-2 2h0m-1-4h0m-3-3h0m0 7h0m-2-5h0m-1-3h0m-2 11h0m-1-7h0m-1-3h0m-3 2h0m-1 8h0m-1-4h0m-8-4h0m-3 2h0m-1-4h0m-3 5h0m-2 3h0m-1-8h0m0 4h0m-3-2h0m0 4h0m-3-7h0m-1 7h0m-3-5h0m0 5h0m-3-2h0m-4-1h0m0 6h0m-2-10h0m-2 8h0m-1-4h0m-2-3h0m-1 10h0m-3-11h0m0 11h0m-3-6h0m-3-3h0m-1 4h0m-3 5h0m-6-10h0m0 4h0m-2-2h0m-1 7h0m-1-10h0m-1 7h0m-5 3h0m-3-9h0m0 6h0m-3-6h0m0 4h0m-2 5h0m-3-3h0m-1 3h0m-3-8h0m-2 7h0m-4-8h0m0 5h0m-4-1h0m-1 2h0m-2-4h0m-1-3h0m0 9h0m-6-9h0m0 2h0m-2 3h0m-1 5h0m-5-7h0m0 6h0m-3 1h0m1 3h0m5 3h0m5-1h0m4 0h0m4-2h0m0 8h0m3 0h0m6-2h0m3-5h0m0 6h0m1-2h0m3 4h0m1-9h0m2 10h0m2-7h0m1-3h0m2 4h0m0 5h0m3-8h0m1 3h0m2 1h0m1 5h0m3-5h0m0 5h0m2-11h0m0 9h0m2-2h0m1-2h0m2 4h0m1-5h0m0 2h0m3 1h0m2-4h0m0 3h0m1-6h0m5 4h0m0 3h0m1 2h0m3-6h0m1 2h0m0 3h0m0 3h0m1-11h0m3 2h0m2 8h0m1-9h0m0 4h0m6 5h0m1-10h0m2 5h0m3 6h0m2-10h0m0 7h0m1-3h0m0 6h0m2-11h0m1 11h0m1-3h0m1-3h0m3-3h0m0 8h0m2-3h0m1-3h0m2-3h0m1 3h0m1-4h0m0 7h0m3-4h0m2 6h0m0 2h0m3-8h0m3 2h0m1-3h0m0 6h0m3-6h0m0 3h0m4 0h0m1-4h0m0 9h0m2-3h0m2 3h0m1-9h0m2 3h0m0 3h0m4-1h0m5-1h0m2 0h0m4 5h0m1-5h0m1 6h0m1-7h0m5-2h0m4-1h0m1 4h0m2-4h0m5 7h0m4 3h0m5-6h0m0 4h0m2-2h0m1-4h0m2 6h0m3-5h0m0 4h0m1-8h0m4 1h0m1 7h0m3 3h0m1-10h0m2 9h0m4-8h0m3 6h0m2-4h0m1-1h0m0 8h0m1-11h0m1 5h0m3 0h0m2-3h0m2 8h0m4-3h0m1-4h0m1 4h0m2 3h0m4-8h0m2-2h0m1 6h0m3 2h0m7-4h0m0 7h0m1-10h0m0 6h0m3 1h0m11-2h0m6 0h0m4 2h0m3-1h0m3-2h0m2 1h0m0 5h0m1-9h0m2 5h0m0 3h0m3-6h0m4 6h0m4-6h0m4-2h0m3 0h0m1 9h0m2-7h0m3 0h0m5-1h0m2 8h0m1-6h0m2 4h0m1-9h0m0 3h0m3-2h0m1 3h0m1 4h0m4-5h0m2 2h0m4-5h0m1 3h0m2 5h0m1-5h0m2-1h0m0 2h0m3-3h0m0 8h0m3-1h0m2-6h0m2-1h0m3 10h0m3-2h0m3 1h0m1-4h0m2 4h0m2-3h0m2 2h0m2-4h0m2 3h0m1-8h0m5 3h0m264-2h0m74 10h0m8 0h0m1-4h0m2-5h0m3-2h0m4 1h0m1 5h0m4-4h0m15-2h0m0 3h0m4-1h0m1 4h0m2 4h0m1-9h0m0 6h0m5-2h0m3-1h0m7-3h0m4 2h0m4 0h0m-1 18h0m-6-9h0m-4 0h0m-3 5h0m-2 2h0m-5-7h0m-41 9h0m-2-2h0m-2-6h0m-2 10h0m-4-5h0m-343 4h0m-4-2h0m-1-3h0m0 6h0m-1-9h0m-6 0h0m0 4h0m-2 4h0m-2-7h0m0 5h0m-3-2h0m-2 3h0m0 2h0m-6-1h0m-1-10h0m-2 9h0m-3-3h0m-1-4h0m-2 2h0m0 4h0m-3-6h0m-2-2h0m-2 7h0m-3 3h0m-7-7h0m-4 2h0m0 4h0m-3-9h0m-1 5h0m0 3h0m-3-6h0m-5 8h0m-2-3h0m-1-4h0m-2 3h0m-2 2h0m-1-3h0m-2-2h0m-3 5h0m-1 3h0m-1-2h0m-3-5h0m-1 7h0m-2-8h0m-2-3h0m-1 4h0m-4-4h0m-1 5h0m-1 5h0m-4-9h0m-2 9h0m-2-9h0m-1 5h0m-6 5h0m-1-10h0m0 3h0m-4-2h0m-5-1h0m-1 8h0m-4 2h0m-1-3h0m-3-2h0m-2 3h0m-1-5h0m-3-2h0m0 8h0m-2-2h0m-1-8h0m0 10h0m-2-4h0m-2-5h0m-1 7h0m-3 3h0m-2-5h0m0 4h0m-6-2h0m-4-3h0m-3 4h0m-2 2h0m-7-8h0m-2 6h0m-3-4h0m-3 0h0m0 4h0m-1 2h0m-1-5h0m-2-4h0m-2 5h0m-2-4h0m-3 2h0m-3-5h0m0 10h0m-3-1h0m-1-6h0m-2 3h0m-1 4h0m-2 1h0m-3-3h0m0 2h0m-1-8h0m-3 2h0m-1-2h0m-1 8h0m-2-4h0m-2-5h0m-2 4h0m0 4h0m-5-2h0m0 2h0m-1-9h0m0 4h0m-2-3h0m0 8h0m-1-3h0m-3-1h0m0 4h0m-3-1h0m-3 0h0m-5-2h0m-1-6h0m-2 2h0m0 3h0m-2 6h0m-2-4h0m-1-3h0m-1 1h0m-1-5h0m0 8h0m0 2h0m-5-5h0m-2 4h0m-2-3h0m-3-4h0m-3 5h0m-1 4h0m-2-9h0m-1 5h0m-1 4h0m-3-4h0m-2-2h0m-1-2h0m-4 0h0m-4-2h0m-2 6h0m-1-6h0m-2 6h0m-1 4h0m-1-9h0m-3 0h0m0 4h0m-1-6h0m0 10h0m-2-6h0m-2-4h0m0 10h0m-2-10h0m0 3h0m-1 6h0m-1 2h0m-2-5h0m-1-5h0m-2 1h0m-2 1h0m-1-3h0m0 8h0m-1-2h0m-1-3h0m-1 7h0m-2-7h0m-1 4h0m-1-6h0m-1 4h0m-2-4h0m0 3h0m0 5h0m-4-7h0m0 3h0m-7-3h0m0 6h0m-2-7h0m-1 4h0m0 3h0m-3-3h0m-3 2h0m-3-1h0m-5-6h0m0 5h0m-4 1h0m21 13h0m4-5h0m3 3h0m2-4h0m3 5h0m1-1h0m1-4h0m1 7h0m2-3h0m0 6h0m2-2h0m4-8h0m3 9h0m4-8h0m1 8h0m2-8h0m3-1h0m0 3h0m2 2h0m1-5h0m0 8h0m0 2h0m3-2h0m1-7h0m2 6h0m1-5h0m2 5h0m0 2h0m3-7h0m0 3h0m0 4h0m3 0h0m1-8h0m1 6h0m2-6h0m2 1h0m1 3h0m2 3h0m10-4h0m3 2h0m4-1h0m1-4h0m2 9h0m1-3h0m2 3h0m1-7h0m1-2h0m1 4h0m2-3h0m1 4h0m1 3h0m2-3h0m3-7h0m4 8h0m3-1h0m2-6h0m0 7h0m4-5h0m0 4h0m3-2h0m2-1h0m6 2h0m2-3h0m1 4h0m2 4h0m2-7h0m1 4h0m1 2h0m1-5h0m1-3h0m7 4h0m2-2h0m2 1h0m0 4h0m1-8h0m3 0h0m2 5h0m2-3h0m1 7h0m2-8h0m0 9h0m1-3h0m3-7h0m6 7h0m2-5h0m1 8h0m6-8h0m0 3h0m1 4h0m4 0h0m3 1h0m1-8h0m1 3h0m3 1h0m2-7h0m0 10h0m1-3h0m2-2h0m4-1h0m6 0h0m1-4h0m3 10h0m2-7h0m1 8h0m2-9h0m0 4h0m5-4h0m3 0h0m2 3h0m3 5h0m3-1h0m1-3h0m3-1h0m3 0h0m1-4h0m9 3h0m2 0h0m2-3h0m3 5h0m1 4h0m1-7h0m0 3h0m1 5h0m5-9h0m2-2h0m1 9h0m3-8h0m2 3h0m2 5h0m1-3h0m2-5h0m1 2h0m0 3h0m2-2h0m0 4h0m3-7h0m0 7h0m3-5h0m0 6h0m1-9h0m1 6h0m2-4h0m4 2h0m1 3h0m2-5h0m1 7h0m1-4h0m2 4h0m1-8h0m0 3h0m2 4h0m1 3h0m1-5h0m2-6h0m0 3h0m2 0h0m0 2h0m3-3h0m2-2h0m1 3h0m1 2h0m1-3h0m5 1h0m0 6h0m2 2h0m1-5h0m4-3h0m1 2h0m4-2h0m0 3h0m8-5h0m341-1h0m2 8h0m7 2h0m2-4h0m45-5h0m7 5h0m1 5h0m2-9h0m1 4h0m2 5h0m4-5h0m1-6h0m2 4h0m-2 17h0m-1-8h0m-2 2h0m-13 1h0m-14 6h0m-5-2h0m-3 1h0m-6-4h0m-6 2h0m-2 3h0m-3-8h0m-373 2h0m-1 6h0m-2-10h0m-1 10h0m-2-3h0m-2-3h0m0 5h0m-3-7h0m0 3h0m-1 5h0m-5-5h0m-3-1h0m-2 2h0m-1-4h0m-6-2h0m-2 4h0m-1-4h0m-4 6h0m-1 4h0m-2-5h0m-1 4h0m-2-6h0m-2 6h0m-1-3h0m-3 0h0m-1-5h0m-2 3h0m-5-3h0m-2 6h0m-7-7h0m0 8h0m-2-2h0m-5-4h0m-3 1h0m-1 8h0m-1-4h0m-1-7h0m0 5h0m-3 0h0m-1 5h0m-2-4h0m-2 4h0m-3-2h0m-7 3h0m-1-5h0m-3 4h0m-2-7h0m0 7h0m-7 0h0m-1-10h0m-3 4h0m-4 3h0m-5 1h0m-11-5h0m-6 6h0m-2-3h0m-1 4h0m-3-2h0m-5-6h0m-1 5h0m-3-5h0m-3 9h0m-3-6h0m-4 5h0m-1-6h0m-2 5h0m-2-6h0m-1 8h0m-2-5h0m-3 4h0m-3 0h0m-1-3h0m-1-3h0m-7 6h0m-5-4h0m-4-4h0m0 6h0m-2 3h0m-2-8h0m-4 5h0m-1-3h0m-1-4h0m-1 5h0m-2 4h0m-3-2h0m-2 2h0m-6-3h0m-7-5h0m-6 3h0m-1-5h0m-2 10h0m-1-9h0m0 4h0m-7 5h0m-3-10h0m-5 7h0m-3-4h0m-3 3h0m-3 0h0m-4-2h0m-2 1h0m-1 5h0m-2-4h0m-1 2h0m-1 2h0m-1-10h0m-1 6h0m-1-5h0m0 7h0m-3-7h0m0 5h0m-8-3h0m0 8h0m-2-10h0m-1 6h0m-1-7h0m0 11h0m-1-7h0m-7-3h0m0 3h0m0 7h0m-11-6h0m-3-5h0m-7 2h0m28 15h0m11-2h0m0 5h0m2-3h0m2 5h0m3-2h0m1-4h0m1-3h0m1 8h0m3-5h0m3 3h0m0 3h0m3 0h0m2-3h0m1-7h0m2 3h0m1 5h0m6-4h0m1 3h0m3-6h0m9 7h0m0 3h0m3-10h0m0 9h0m4-7h0m0 8h0m3-1h0m1-5h0m4-1h0m3-4h0m5 5h0m0 4h0m1-7h0m4 4h0m1-3h0m0 7h0m3-4h0m1-5h0m2 2h0m3 5h0m1-5h0m3 1h0m3 0h0m2-4h0m1 10h0m1-4h0m3-3h0m3 7h0m1-6h0m2 3h0m2-5h0m1 4h0m2 5h0m2-9h0m0 6h0m2-1h0m1 3h0m1-10h0m0 5h0m9 0h0m4-2h0m5-2h0m1 7h0m5-6h0m0 5h0m2-3h0m1 2h0m3-6h0m0 6h0m4-4h0m4 9h0m5-10h0m0 10h0m3-11h0m7 3h0m1-3h0m3 10h0m1-6h0m6-1h0m1 4h0m3-4h0m3 8h0m1-9h0m3-2h0m0 5h0m2 5h0m4-8h0m5-1h0m3 10h0m4-1h0m1-2h0m4-3h0m2-2h0m3 7h0m16 0h0m7 1h0m1-7h0m2 6h0m3-7h0m1 6h0m2-3h0m1-5h0m2 7h0m4-5h0m0 4h0m0 4h0m2-6h0m0 5h0m3-10h0m0 3h0m3 3h0m0 5h0m3-3h0m2-8h0m2 4h0m2-3h0m382 2h0m0 4h0m4-6h0m3 7h0m1 3h0m6-7h0m2 3h0m2-7h0m1 8h0m0 3h0m7-9h0m3 5h0m7-2h0m6 3h0m4 1h0m4-7h0m3 2h0m3 16h0m-6 3h0m-3-7h0m-2-3h0m-4 7h0m-5 0h0m-3 2h0m-6-8h0m-8 0h0m-12 2h0m-400 2h0m-4-4h0m-3 8h0m-2-4h0m-3-2h0m-6-1h0m-18-3h0m-1 8h0m-3 0h0m-3-4h0m-3-2h0m-3 3h0m-4 5h0m-1-4h0m-2 3h0m-3 1h0m-5-8h0m-9 4h0m-6 5h0m-2-10h0m-1 3h0m-2-4h0m-7 4h0m-2 5h0m-1-9h0m-2 10h0m-3 0h0m-12 1h0m-5-11h0m-4 6h0m-2 3h0m-1-4h0m-6-3h0m0 6h0m-5-1h0m-7 3h0m-7-8h0m-12-1h0m-2 4h0m-3-1h0m-2-4h0m-6 0h0m-3 8h0m-3-5h0m-4 4h0m0 3h0m-2-7h0m-8-2h0m-4 9h0m-2-5h0m-3 6h0m-1-6h0m-2-4h0m-1 3h0m0 4h0m0 3h0m-2-5h0m-2 2h0m-2-7h0m0 3h0m0 4h0m-3-3h0m0 2h0m-2 0h0m-1 3h0m-2-9h0m-1 4h0m-1 3h0m-4 0h0m-6 1h0m-1-9h0m-2 4h0m0 5h0m-6-2h0m-3-6h0m-1 7h0m-13-6h0m37 11h0m1 2h0m5-3h0m0 3h0m7-2h0m7 4h0m12 0h0m2 4h0m2-4h0m0 6h0m13 0h0m3 0h0m2-9h0m3 2h0m6-4h0m3 7h0m1-7h0m1 4h0m2-3h0m5-1h0m5 5h0m2-3h0m5 6h0m2 3h0m3-10h0m2 2h0m2 5h0m3-6h0m2 2h0m5-1h0m1-3h0m5 3h0m3 0h0m1 8h0m2-3h0m1-5h0m3 8h0m4-7h0m4 3h0m16 3h0m2-4h0m1-3h0m0 8h0m3-5h0m1 3h0m5-8h0m0 4h0m0 3h0m3-5h0m4 0h0m1 6h0m1-9h0m2 3h0m0 6h0m18-1h0m7-1h0m1-4h0m6 6h0m443-6h0m0 3h0m4-3h0m1-3h0m1 5h0m1-2h0m2 2h0m1-5h0m4 11h0m1-6h0m2 2h0m4 2h0m2-2h0m-473 5h0m-4 9h0m-10-9h0m-3 6h0m-9-5h0m0 7h0m-9-8h0m-2 5h0m-2 3h0m-3 2h0m-9-5h0m-3 1h0m0 3h0m-4-5h0m0 7h0m-4-8h0m0 3h0m-4-3h0m-1 5h0m-3-2h0m0 4h0m-7-4h0m-1 3h0m-3-4h0m-2 2h0m-1 4h0m-5-8h0m-1 6h0m-3-9h0m-4 10h0m-3-3h0m-3 0h0m-6 2h0m-3 2h0m-3-5h0m0 2h0m-1-4h0m-2 5h0m-4-2h0m-3-3h0m-3-2h0m-4 6h0m-3-4h0m-5 6h0m-3-8h0m29 14h0m7 0h0m5 2h0m7-6h0m5 1h0m0 4h0m11 1h0m3 5h0m17-8h0m1 3h0m5-6h0m8 0h0m0 3h0m1 3h0m3-1h0m4-3h0m3-1h0m3-1h0m4 5h0m56 21h0m1 2h0m-863 127h0m21-2h0m125 14h0m-5-5h0m-1 5h0m-2 0h0m-1-3h0m-4-2h0m-3-1h0m-1 4h0m-5 1h0m-1-2h0m-3 1h0m-3-2h0m-2 3h0m-3-5h0m-3-1h0m0 3h0m-3-1h0m-2 3h0m-7 2h0m-3-10h0m0 5h0m-1 4h0m-3-3h0m-2-2h0m-3 1h0m0 5h0m-5-2h0m-2-2h0m-1 3h0m-5-4h0m0 3h0m-5 2h0m-1-4h0m-4 1h0m0 3h0m-6-5h0m0 4h0m-3-3h0m-6 4h0m-1-8h0m0 5h0m-2-2h0m-1 5h0m-2-7h0m-6 4h0m-1-6h0m-1 3h0m-2 0h0m-2-4h0m-3 6h0m-2-7h0m-1 10h0m-3-5h0m0 4h0m-2-8h0m-3 4h0m-3 3h0m-3-7h0m0 8h0m-3-6h0m-1 6h0m-2 2h0m-1-4h0m-7 1h0m-6-5h0m-5 3h0m-2 4h0m-3-4h0m0 2h0m-9-1h0m0 3h0m-9 10h0m3-2h0m1 3h0m4-7h0m1 4h0m1 4h0m2-10h0m1 3h0m2 7h0m2-1h0m3-4h0m2 1h0m2 2h0m3-5h0m0 6h0m1-4h0m3 1h0m1-3h0m0 7h0m3-1h0m3-6h0m0 2h0m2 0h0m1-3h0m6-1h0m4 6h0m1-7h0m2 8h0m3-8h0m2 7h0m0 4h0m2-8h0m9-3h0m1 3h0m2-3h0m2 4h0m0 3h0m4-3h0m0 4h0m7 1h0m3 2h0m5 0h0m1-10h0m3 10h0m8-8h0m0 6h0m2 2h0m1-5h0m4-5h0m0 5h0m3 0h0m1-2h0m1 6h0m3-3h0m3-6h0m4 2h0m0 4h0m0 3h0m2-5h0m1-3h0m0 9h0m3 0h0m1-7h0m1 5h0m6-3h0m1-4h0m3 7h0m1-4h0m6-1h0m5-4h0m2 10h0m3-1h0m1-4h0m1-5h0m3 2h0m1 8h0m2-6h0m2 6h0m2-4h0m1-3h0m1 8h0m4-9h0m2 6h0m4 2h0m6-9h0m2 4h0m0 4h0m1-8h0m1 4h0m5 6h0m1-9h0m1 6h0m3-4h0m0 3h0m4 1h0m3-2h0m3 3h0m7-1h0m39 15h0m-5-1h0m-3 1h0m-5 0h0m-5 0h0m-4-3h0m-1 3h0m-1-3h0m-2 2h0m-3-4h0m-1 2h0m-3 0h0m-1-4h0m0 2h0m-2-2h0m-1 5h0m0 2h0m-1-9h0m-1-2h0m-1 10h0m-1-7h0m-3 5h0m-1 3h0m-1-11h0m-1 4h0m0 3h0m0 3h0m-5-9h0m-1 5h0m0 2h0m-2-7h0m-2-1h0m-1 8h0m-1-5h0m-2 4h0m-1-4h0m-1 6h0m-1-4h0m-2-5h0m0 7h0m-2 3h0m-1-7h0m0 3h0m-1 5h0m-3-7h0m0 2h0m0 4h0m-3-7h0m0 4h0m0 3h0m-2-10h0m0 9h0m-2-6h0m-1 4h0m-1-2h0m-1 4h0m-4-7h0m-1-2h0m-5 11h0m-2-7h0m-8-1h0m0 7h0m-3-5h0m-3-4h0m-2 3h0m-1 3h0m-5-7h0m-11 7h0m-2-3h0m-3-4h0m0 3h0m-4 1h0m-1 3h0m-1-7h0m-3 0h0m0 6h0m-4 0h0m-1-3h0m0 8h0m-3-10h0m0 3h0m-1 5h0m-3-4h0m-6-2h0m-2-1h0m0 4h0m-2 4h0m-1-7h0m0 4h0m-4 1h0m-1-6h0m0 9h0m-3-9h0m-3 2h0m-3 0h0m-2 2h0m-1-3h0m-1 8h0m-3-5h0m-4-4h0m-16 5h0m-4 1h0m-1 3h0m-2-3h0m-1 3h0m-2-9h0m0 3h0m0 4h0m-2-2h0m-4-7h0m0 7h0m-1 3h0m-1-8h0m-1 4h0m-1-3h0m0 7h0m-3-7h0m-3-1h0m0 8h0m-2-3h0m-3-3h0m-4 5h0m0 2h0m-1-11h0m0 3h0m-1 5h0m-3-1h0m-2 4h0m-1-6h0m-5-4h0m-2 0h0m-1 3h0m5 9h0m6 0h0m10-1h0m3 7h0m6-5h0m2-2h0m1 5h0m2-1h0m0 3h0m4-2h0m3-4h0m1 6h0m3 3h0m4 1h0m2-9h0m2 2h0m2 4h0m2-2h0m0 5h0m3-2h0m1-9h0m3 4h0m4 2h0m8-3h0m1 4h0m0 4h0m2-10h0m3 5h0m1 4h0m1-10h0m6 2h0m0 7h0m0 2h0m5-6h0m5-4h0m3 7h0m3-7h0m0 8h0m2-5h0m0 5h0m8 1h0m1-8h0m3 9h0m4-10h0m1 8h0m1-7h0m0 5h0m2-3h0m0 3h0m0 3h0m4-4h0m3-5h0m0 5h0m4 0h0m1 3h0m1-6h0m2 3h0m1-3h0m1 3h0m0 3h0m1-6h0m0 8h0m3-11h0m1 4h0m2-1h0m2 2h0m2-4h0m0 8h0m2-3h0m3-1h0m2-3h0m0 5h0m11 0h0m3 2h0m1-6h0m0 8h0m2-8h0m1 3h0m0 2h0m1-7h0m1 10h0m1-8h0m1 2h0m0 4h0m2-7h0m1 7h0m1-2h0m1 4h0m2-5h0m0 3h0m2-2h0m0 4h0m2-9h0m2 6h0m1-3h0m1 6h0m2-8h0m1 5h0m2-8h0m3 10h0m4-3h0m1-1h0m0 4h0m2-10h0m1 3h0m0 2h0m0 3h0m1 3h0m4-10h0m1 5h0m3-6h0m0 5h0m2-4h0m0 8h0m1-6h0m0 3h0m4-1h0m1 6h0m2-11h0m2 6h0m2-4h0m0 4h0m1 5h0m4-5h0m1-5h0m0 2h0m1 6h0m2-8h0m1 3h0m1 3h0m1-5h0m2 7h0m3-6h0m7-2h0m4 5h0m0 3h0m3-3h0m4-4h0m1 9h0m1-4h0m8 1h0m3 0h0m0 3h0m4 0h0m62 11h0m-39 0h0m-6 0h0m-1-4h0m-3 4h0m-1-5h0m-3 4h0m-1-6h0m-1 2h0m0 6h0m-2-1h0m-2-3h0m-3-4h0m-2-3h0m-3 9h0m-6-8h0m-3 6h0m-5-6h0m-8 4h0m-3 2h0m-5 3h0m-5-8h0m0 4h0m-2-6h0m-3 1h0m-1 2h0m-4 3h0m-1-4h0m-3 5h0m-1-7h0m-2 3h0m-1 4h0m-1-5h0m-3-2h0m-1 11h0m-1-2h0m-1-6h0m-1-2h0m-1 6h0m0 3h0m-7-8h0m-2 8h0m-1-6h0m-2 3h0m-1-6h0m0 10h0m-2-9h0m0 4h0m-3-3h0m0 2h0m-2 2h0m0 3h0m-2-7h0m-2-1h0m-1 5h0m-1-7h0m-2 6h0m-1 2h0m0 3h0m-5-9h0m0 9h0m-1-6h0m-2-3h0m-4 5h0m0 3h0m-2-6h0m0 3h0m-5-6h0m-1 4h0m0 3h0m-2-7h0m-1 8h0m-2-7h0m-1 8h0m-2-6h0m-1-4h0m-1 7h0m-4 0h0m-4-6h0m-1 4h0m-1-2h0m-1 8h0m-2 0h0m-3-2h0m-1-8h0m-4 2h0m0 5h0m-2 3h0m-1-10h0m-2 9h0m-1-2h0m-3 1h0m-2-2h0m-3 2h0m-2-2h0m-2-6h0m-1 5h0m-1 4h0m-1-8h0m-1 5h0m0 4h0m-2-5h0m0 3h0m-4 1h0m-3-9h0m-1 3h0m0 5h0m-2-9h0m0 6h0m-3-6h0m0 8h0m-3-8h0m0 3h0m-4-3h0m-11 3h0m-6 3h0m-2-6h0m-1 5h0m0 3h0m-4 0h0m-1-4h0m-2-4h0m-8 5h0m-4 1h0m-3-5h0m-4 0h0m-4 0h0m40 14h0m2 7h0m2-9h0m1 8h0m7-9h0m14 2h0m2-2h0m1 7h0m2-5h0m2 6h0m3-6h0m9-2h0m2 9h0m3-4h0m5 1h0m3-2h0m0 4h0m3-3h0m7 0h0m2 4h0m1-9h0m0 6h0m3-5h0m0 8h0m2-6h0m3-2h0m3 3h0m1-4h0m0 8h0m3-6h0m0 9h0m1-6h0m2 5h0m1-5h0m3 0h0m2-4h0m1 10h0m3-8h0m5 5h0m2 3h0m1-9h0m0 4h0m3-2h0m0 4h0m2-8h0m0 4h0m1 4h0m2 2h0m1-7h0m1 5h0m0 3h0m2-7h0m3-1h0m2 2h0m3 2h0m3-5h0m2 9h0m1-3h0m1-6h0m3 3h0m3-3h0m0 6h0m3 2h0m3-10h0m11 5h0m5-4h0m6 4h0m1 3h0m3-6h0m1 5h0m1 3h0m3-4h0m1-4h0m5 8h0m3-8h0m0 5h0m4-6h0m2 6h0m2-3h0m2 5h0m2-3h0m1-6h0m0 8h0m1-2h0m1 5h0m1-9h0m0 6h0m1-8h0m2 2h0m0 2h0m1 3h0m1-6h0m1 3h0m0 6h0m1-8h0m0 5h0m1 3h0m1-6h0m1-1h0m0 5h0m0 3h0m1-6h0m2-4h0m0 8h0m1-2h0m2-4h0m1-2h0m0 5h0m0 3h0m1-6h0m1-3h0m2 2h0m0 9h0m3-8h0m1 3h0m1-4h0m3-1h0m5 1h0m5 2h0m3 1h0m1 6h0m1-3h0m1-5h0m2 6h0m3-8h0m0 6h0m1 4h0m1-6h0m3-4h0m1 2h0m2 3h0m0 3h0m2-6h0m3-3h0m1 4h0m1 4h0m2-3h0m5-1h0m6 0h0m0 4h0m0 3h0m3 0h0m31 11h0m-11 1h0m-1-4h0m-2-4h0m0 3h0m-1 4h0m-3-3h0m-1 2h0m-5-6h0m-1 8h0m-3-1h0m-7 1h0m-3-11h0m-1 6h0m-3-1h0m-3-2h0m-2 0h0m0 8h0m-2-4h0m-3-4h0m-1 3h0m-2 4h0m-1-3h0m-1-6h0m-3 3h0m-7-1h0m-4-2h0m0 5h0m-1 5h0m-3-7h0m0 5h0m0 2h0m-1-5h0m-3-4h0m-1 9h0m-1-4h0m-1-5h0m0 3h0m0 5h0m-2-8h0m0 8h0m-1-3h0m-1-7h0m-1 2h0m-3 0h0m-2 1h0m-1-3h0m-1 5h0m0 4h0m-1-6h0m-1-2h0m-2 1h0m0 3h0m0 3h0m-1-8h0m-1 10h0m-2-3h0m-2-5h0m0 8h0m-1-3h0m-1-6h0m-3 4h0m-1-3h0m-3 1h0m-2-2h0m-4 2h0m-1 4h0m-4 3h0m-3-9h0m-2 6h0m-2-5h0m-3 2h0m-6 4h0m-6 0h0m-1-3h0m-2 4h0m-2-4h0m-2-3h0m-1 8h0m-3-10h0m-1 8h0m-3-8h0m0 9h0m-2-3h0m-4-6h0m-1 11h0m-2-7h0m-2 5h0m-1-3h0m-3 2h0m-1-4h0m-1-3h0m-3 4h0m-7-1h0m-4 6h0m-1-3h0m-2-5h0m-1 8h0m-1-4h0m-1 4h0m-2-8h0m0 4h0m-2 4h0m-1-8h0m-1-1h0m0 8h0m-1-4h0m-1-4h0m0 2h0m0 8h0m-3-3h0m-1-7h0m-1 1h0m0 6h0m-1-3h0m-1 4h0m-1-5h0m-2 3h0m-2 4h0m-1-5h0m-2-4h0m0 8h0m-2-4h0m-3-4h0m-1 6h0m-2-7h0m0 4h0m-1 3h0m-2-6h0m0 3h0m-1 5h0m-2-9h0m-2 3h0m-3-2h0m0 7h0m-4-8h0m-3 2h0m-18 3h0m-10 0h0m-10-5h0m-4 0h0m-5 10h0m-2-7h0m-6-2h0m-2 6h0m0 3h0m-4-11h0m-1 7h0m92 7h0m4-2h0m4 0h0m3 1h0m1 4h0m1-3h0m2 0h0m3-1h0m0 3h0m2-4h0m0 3h0m2 4h0m4 0h0m2-4h0m1 3h0m2-6h0m0 4h0m2-3h0m0 6h0m3-7h0m1 8h0m2-1h0m0 3h0m3-3h0m2-3h0m1-4h0m1 6h0m0 2h0m2-5h0m4 2h0m0 5h0m4-1h0m2-4h0m1 3h0m2-3h0m4 5h0m2-7h0m2 7h0m1-4h0m4 1h0m1 4h0m5-6h0m4 1h0m5 3h0m1-8h0m4 5h0m2-5h0m2 8h0m3-4h0m1-4h0m1 8h0m4-8h0m1 5h0m1 4h0m7-7h0m2-3h0m2 4h0m2-4h0m0 8h0m1-7h0m3 3h0m0 5h0m2-1h0m2-8h0m0 7h0m3-1h0m0 2h0m2 3h0m1-9h0m2 4h0m1-5h0m2 8h0m1-4h0m1-3h0m0 5h0m3-3h0m1 3h0m6-4h0m2 5h0m4-1h0m5 3h0m3 0h0m3-7h0m3-3h0m7 4h0m0 5h0m2-1h0m0 3h0m2-11h0m0 3h0m1 5h0m3-2h0m0 3h0m3 2h0m1-9h0m1 5h0m2 2h0m3 1h0m1-8h0m3 7h0m2-9h0m0 7h0m0 3h0m1-5h0m2-4h0m0 6h0m0 3h0m2-2h0m2-3h0m1-5h0m1 9h0m1-3h0m2 3h0m1-3h0m2-4h0m1 5h0m3 3h0m6-3h0m2-3h0m5 5h0m17 14h0m-4-4h0m-3 3h0m-2-6h0m-4 5h0m-1-3h0m-5 0h0m-1-3h0m-4-2h0m0 5h0m-2 2h0m0 3h0m-3-4h0m-4-3h0m0 3h0m0 3h0m-5-2h0m0 3h0m-1-6h0m-1-4h0m0 6h0m-4-7h0m-1 3h0m-1 3h0m-2-5h0m-2 3h0m0 3h0m-1 3h0m-2-3h0m-1 4h0m-2-10h0m-1 3h0m0 4h0m-3-6h0m-4 1h0m-4 2h0m-6-5h0m-1 10h0m-4 1h0m-5-1h0m-1-7h0m0 3h0m-2-6h0m-2 4h0m-1-3h0m-4 6h0m-1 3h0m-1-5h0m-1-5h0m-1 8h0m-1-3h0m-2 3h0m-6-7h0m-1 4h0m0 3h0m-6-3h0m-3 2h0m-1-4h0m-2 2h0m-5-5h0m-5 8h0m-1-3h0m-5-1h0m0 3h0m-2-7h0m0 4h0m-1 6h0m-2-8h0m0 4h0m-2 5h0m-1-5h0m-4 5h0m-1-4h0m-2-4h0m0 6h0m-2 2h0m-1-7h0m-1 4h0m-1-7h0m0 4h0m-2 2h0m0 4h0m-1-8h0m-2 3h0m-2 2h0m-3 2h0m-2-8h0m-3 4h0m-1-5h0m-1 8h0m-2-9h0m-2 4h0m-1 4h0m-2 2h0m-3-9h0m-3 3h0m0 4h0m-2 3h0m-1-10h0m-6 0h0m-2 1h0m-5 0h0m-3 0h0m-2 2h0m-2-3h0m-8-1h0m40 14h0m8-2h0m0 3h0m3 0h0m0 8h0m1-6h0m1-4h0m0 7h0m1-2h0m2 3h0m1 2h0m5-6h0m5 4h0m2-6h0m4 1h0m1 5h0m2-3h0m2-1h0m11 3h0m1 3h0m5-10h0m0 5h0m2 2h0m1-8h0m0 3h0m2 2h0m1-5h0m2 11h0m2-3h0m1-3h0m2 5h0m1-4h0m2 4h0m3-5h0m1 5h0m1-7h0m2 3h0m1-2h0m2 2h0m2 5h0m2-9h0m0 7h0m2-2h0m1 2h0m4-2h0m1-4h0m2-2h0m3 6h0m3-7h0m0 11h0m3-1h0m4-10h0m0 4h0m3 4h0m2 2h0m5-10h0m0 9h0m1-2h0m1-3h0m1-2h0m2 1h0m3 3h0m2 1h0m1-4h0m5-2h0m3 5h0m4-5h0m11 1h0m1 4h0m1-3h0m1-3h0m2 2h0m1 4h0m2-2h0m1-3h0m1 5h0m2-5h0m0 2h0m3-3h0m3 3h0m0 3h0m2-1h0m1-2h0m0 3h0m3-5h0m8 5h0m-71 9h0m-5 4h0m-1-3h0m-17 2h0m-4 1h0m-4-6h0m-1 2h0m-1 2h0m-1-3h0m0 7h0m-2-6h0m-3-1h0m0 5h0m-1-2h0m-3-3h0m-3 3h0m-1-4h0m-1 7h0m-2-2h0m-7-6h0m-3 0h0m0 3h0m-4-1h0m-7-2h0m-4 0h0m-3 1h0m-4-1h0m-8 2h0m834 20h0m13 1h0m124 0h0m-6 3h0m-3 0h0m-7 4h0m-2-4h0m-3 2h0m-3 2h0m-2-3h0m-1 2h0m-2 2h0m-2 2h0m-2 2h0m-5-4h0m-5-5h0m-3 0h0m-2 2h0m-37 1h0m-21-4h0m-9 6h0m-2-6h0m-4 2h0m-3 7h0m-4-8h0m-3 6h0m-1-8h0m-1 7h0m-1-3h0m-4 7h0m-2-1h0m-1-4h0m-2 2h0m-3-4h0m-1-4h0m0 4h0m-2 3h0m-1 4h0m-2-8h0m0 13h0m9-2h0m7-2h0m3 4h0m4 0h0m1 6h0m2-8h0m2 7h0m3-5h0m2 6h0m3-6h0m1-4h0m79 0h0"/>
<path class="pt" stroke="#fd9b6b" d="M794 214h0m-44 1h0m-60 12h0m9 0h0m2-4h0m19 0h0m8-1h0m19 0h0m6 2h0m8 1h0m19-7h0m28 6h0m3 0h0m3-7h0m4-1h0m6 5h0m3 3h0m8-1h0m22 6h0m-7-1h0m-29 9h0m-11-6h0m0 6h0m-27-5h0m-5-3h0m-1 2h0m-1 3h0m-2 3h0m-3-6h0m-9 5h0m-1-7h0m0 10h0m-14-7h0m-6 5h0m-14-6h0m-34 3h0m-5-1h0m-22 0h0m-10 2h0m-1 3h0m5 8h0m7-5h0m2-1h0m25 1h0m7 2h0m2 5h0m5-2h0m1-6h0m0 9h0m4-7h0m4 2h0m6 5h0m9 2h0m4-8h0m2 6h0m2-3h0m3-4h0m3 7h0m13-1h0m7-2h0m4-1h0m11 1h0m10 0h0m2-3h0m4-2h0m2 7h0m5 2h0m2-1h0m15-7h0m3 8h0m5-2h0m47-8h0m13 6h0m122 13h0m-80 1h0m-18-6h0m-15-2h0m-59 11h0m-12-11h0m-3 4h0m-5-1h0m-3 3h0m-5-2h0m-6-1h0m-10 3h0m-16-2h0m-13 6h0m-13-8h0m0 4h0m-3-6h0m-8 11h0m-18-6h0m-2-4h0m-3 4h0m-1 3h0m-4-8h0m-3 4h0m-5 3h0m-5 3h0m-3 1h0m-2-7h0m-1 4h0m-8 1h0m-8-4h0m-7 6h0m-6-9h0m-8 4h0m-32-1h0m-16 2h0m-15 0h0m-7 13h0m11-5h0m2 7h0m2-4h0m3-4h0m1 5h0m7-2h0m19-3h0m3 9h0m7-6h0m13-5h0m1 8h0m3-1h0m7 3h0m6-4h0m7-1h0m4-5h0m10 0h0m0 6h0m10 0h0m2 5h0m5-2h0m2-3h0m14 2h0m10-7h0m7 3h0m7-4h0m5 7h0m2-5h0m7 7h0m11-1h0m17 2h0m3-1h0m1-2h0m1 4h0m5-8h0m1 3h0m17-3h0m4 1h0m1 5h0m4-7h0m26 9h0m43-6h0m19-2h0m138 20h0m-36-3h0m-127 1h0m-9-1h0m-19-5h0m-11 3h0m-9-2h0m-3 1h0m-7-2h0m-6 8h0m-7-4h0m-27 3h0m-8-6h0m-6-2h0m-1 8h0m-5 1h0m-6-3h0m-2 0h0m-5-4h0m-3 0h0m-6 5h0m-6-4h0m-1-3h0m0 7h0m-1-2h0m-2-6h0m-16 8h0m-1-7h0m-3-1h0m-2 3h0m-5-1h0m-2 1h0m-5-3h0m0 9h0m-7-5h0m-4 2h0m-6-2h0m-1-5h0m-4 2h0m-8 0h0m-2 3h0m-2-3h0m-6 9h0m-18-10h0m-7 1h0m-2 9h0m-1-10h0m-5 6h0m-20-7h0m-21 5h0m-10-1h0m3 19h0m3-3h0m30-4h0m13 2h0m6-6h0m12 10h0m9-10h0m6 7h0m1 4h0m30-7h0m8 5h0m10-5h0m3 1h0m3-2h0m1 4h0m5-2h0m4 6h0m3 0h0m6-3h0m2 3h0m1-10h0m0 7h0m3-4h0m2 7h0m5 0h0m4-11h0m0 11h0m4-5h0m6-1h0m4-4h0m1 9h0m7-9h0m7 10h0m5-4h0m3 1h0m9-4h0m7 4h0m6-5h0m10 7h0m3-6h0m2 4h0m4-8h0m5 1h0m3 8h0m13-5h0m8 6h0m1-7h0m15 3h0m10-1h0m13-3h0m17 6h0m8-6h0m8 7h0m11-1h0m13-1h0m7 3h0m13 0h0m10-9h0m19 7h0m40-6h0m5 2h0m9 2h0m7 14h0m-52-6h0m-29 6h0m-47-4h0m-12 2h0m-20-6h0m-37 2h0m-2 4h0m-16 5h0m-6-8h0m-35 7h0m-5-6h0m-9-1h0m-4 0h0m-7-3h0m-1 6h0m-1-3h0m-10 3h0m-3 4h0m-3-8h0m-4 1h0m-1 4h0m-3-4h0m0 5h0m-3-5h0m0 4h0m0 4h0m-3-3h0m-7 2h0m-3-8h0m-1-2h0m-1 5h0m-4-3h0m-2 3h0m-2-3h0m-5 4h0m-5-2h0m-2-3h0m-21 9h0m-3-10h0m-8 2h0m-5 1h0m-2-3h0m-3 6h0m-11-6h0m-6 6h0m-3 3h0m-5 0h0m-2-7h0m-2 7h0m-1 2h0m-2-4h0m-1-4h0m-2 0h0m-1 4h0m-3-2h0m-1 5h0m-3-4h0m-3 2h0m-6-2h0m-14-1h0m-8 5h0m-2-9h0m-4 0h0m-13 3h0m-8 2h0m-7-5h0m0 9h0m-4-7h0m-6 8h0m-1-8h0m-8 12h0m0 8h0m7-1h0m6-7h0m3 8h0m4 0h0m4-1h0m3 0h0m3-7h0m1 5h0m26-7h0m0 5h0m14 3h0m1-8h0m2 9h0m2-3h0m12-5h0m1 6h0m2-8h0m1 2h0m1 3h0m4-2h0m4 1h0m2-3h0m0 5h0m4 4h0m1-3h0m6 4h0m6-2h0m10-9h0m2 3h0m14 2h0m19-3h0m5 0h0m2-1h0m5-1h0m0 5h0m4-5h0m3 1h0m3 1h0m2 6h0m0 3h0m3 0h0m4-9h0m9 4h0m1 5h0m7-10h0m0 6h0m3 0h0m6-5h0m10 3h0m3 2h0m6 4h0m4-8h0m2-2h0m0 5h0m10-1h0m8 4h0m1-4h0m6-5h0m2 6h0m20-1h0m2-3h0m4 5h0m10-1h0m1 5h0m35-1h0m5-7h0m21 8h0m7 0h0m15-6h0m18 1h0m62 4h0m12-9h0m53 17h0m-71 5h0m-168-1h0m-14-7h0m-5 2h0m-1-3h0m0 7h0m-3-4h0m-1-3h0m-4-1h0m-1 4h0m-3 6h0m-6-11h0m-2 5h0m-1-3h0m-13 2h0m-6 0h0m-6-2h0m-2 3h0m-3-4h0m-1 5h0m-3-3h0m-10 2h0m-9-2h0m-3-3h0m-4 7h0m-2-3h0m-12 7h0m-1-9h0m-1 7h0m-3 0h0m-1-8h0m-19 8h0m-4 1h0m-5 0h0m-5-1h0m-10-9h0m-2 8h0m-28-4h0m0 6h0m-7-5h0m-1 5h0m-4-9h0m-9 1h0m-3 6h0m-5-6h0m-6 8h0m-10-8h0m-3 2h0m-10 1h0m-5-1h0m-13 3h0m-5 1h0m-7 0h0m-2-3h0m-3-5h0m-6 10h0m-3-8h0m-9 1h0m-5 6h0m-9-4h0m-7 14h0m2-5h0m0 5h0m7 0h0m8-6h0m3 10h0m13-2h0m4-9h0m5 5h0m5 6h0m2-10h0m28-1h0m12 4h0m15-2h0m3-1h0m5 4h0m0 4h0m3-6h0m0 4h0m2-2h0m0 3h0m2-6h0m4 2h0m1 3h0m3-5h0m0 8h0m3-1h0m2-7h0m0 9h0m1-4h0m3 2h0m25 1h0m2-10h0m7 0h0m1 2h0m3 1h0m5-3h0m7 0h0m0 9h0m3-5h0m2-2h0m7 1h0m3 1h0m5 4h0m1-8h0m7 4h0m1-4h0m3 7h0m3-1h0m2 5h0m15-11h0m3 10h0m1-5h0m3 3h0m11-7h0m7 5h0m16-2h0m15 6h0m5-4h0m6-6h0m21 5h0m20 1h0m3-1h0m1 5h0m4-3h0m68-2h0m4 5h0m39-4h0m101-5h0m-65 19h0m-5 1h0m-26 0h0m-50 1h0m-27-8h0m-24 7h0m-32 0h0m-3-5h0m-8 4h0m-2-6h0m-7-1h0m-5 1h0m-4 1h0m-5 7h0m-3-2h0m-4-5h0m-18 2h0m-4 1h0m-3-4h0m-13-1h0m-7 8h0m-1-5h0m-6-2h0m-4 2h0m-7 5h0m-13 1h0m-3-5h0m-6-1h0m-3-3h0m-7 10h0m-10-11h0m-2 9h0m-3 2h0m-2-6h0m0 4h0m-6-3h0m-7 2h0m-4 2h0m-2-10h0m-1 4h0m-4 5h0m-1-7h0m-16 2h0m-8-3h0m0 9h0m-2-7h0m-5 4h0m0 4h0m-1-8h0m-5 3h0m0 3h0m-1-8h0m-1 7h0m-2-7h0m-1 8h0m-3-1h0m-4-3h0m-2 6h0m-3-2h0m-24-3h0m-6-3h0m-7 7h0m-22-5h0m-11 1h0m-10-5h0m-10 1h0m-1 3h0m-3-4h0m-6 1h0m-1-2h0m-3 3h0m-9 8h0m7 11h0m4-5h0m3 5h0m2-2h0m4-3h0m5 2h0m2-4h0m4 4h0m1 2h0m1-7h0m0 4h0m2-1h0m0 5h0m1-9h0m3 3h0m1 1h0m1-3h0m4 0h0m3 8h0m4-8h0m3 5h0m4 2h0m3 2h0m2-9h0m4-1h0m2 8h0m3-4h0m1-4h0m5-1h0m2 9h0m9 0h0m1-3h0m6 3h0m14 0h0m7-7h0m1 4h0m2-6h0m1 11h0m1-9h0m2 7h0m5-4h0m0 6h0m1-9h0m11 4h0m1 4h0m8-4h0m6 4h0m2-3h0m2-5h0m0 6h0m0 2h0m6-7h0m6-2h0m3 3h0m0 7h0m1-10h0m2 2h0m3 4h0m2-2h0m1 6h0m12-10h0m2 2h0m9-1h0m7 4h0m4-1h0m3-4h0m3 8h0m4-5h0m2 7h0m11-1h0m6 1h0m4-5h0m0 5h0m2-2h0m5-2h0m5-2h0m3-1h0m3 6h0m1-10h0m2 10h0m12-10h0m0 8h0m4 3h0m35-6h0m6-2h0m4 5h0m2-1h0m2-3h0m3 3h0m25 1h0m12 3h0m20-1h0m39 1h0m35-5h0m91-4h0m-27 16h0m-124-6h0m-35 7h0m-59 3h0m-5-7h0m-4 8h0m-40-10h0m-16 2h0m-22 4h0m0 3h0m-5-1h0m-7-2h0m-6 0h0m-5 3h0m-17-1h0m-5 1h0m-2-3h0m-2-4h0m-4 6h0m-2-1h0m-2-4h0m-2-2h0m-4-1h0m-3 1h0m0 7h0m-2-8h0m-1 8h0m-1-4h0m-2 2h0m-8-5h0m-1 4h0m-4 4h0m-5-5h0m-2 6h0m-1-3h0m-9 1h0m-1-9h0m-5 2h0m0 8h0m-3-9h0m-2 3h0m-5-3h0m-3 6h0m-2-4h0m-8 1h0m-1 5h0m-4-3h0m-3-3h0m-2 5h0m-6-6h0m0 9h0m-2-7h0m-22-3h0m-4 8h0m-4-4h0m-3-1h0m-1-3h0m-1 4h0m0 6h0m-8-10h0m-1 8h0m-7 1h0m-1-9h0m0 3h0m-3 0h0m-1-4h0m-1 9h0m-3-7h0m-6 2h0m-4 4h0m-8-6h0m-1 6h0m-2 3h0m-8-10h0m6 20h0m14 0h0m1-3h0m1-2h0m0 7h0m2-9h0m13 2h0m1 5h0m7-8h0m5 10h0m17-11h0m8 9h0m13 0h0m2-5h0m7 1h0m6 1h0m10 1h0m2-7h0m8 8h0m1-6h0m2 7h0m0 2h0m8-9h0m1-2h0m0 9h0m5-1h0m4-6h0m10 4h0m4 4h0m7-10h0m4 0h0m0 9h0m13-5h0m1-3h0m4 2h0m1 6h0m5-7h0m3 6h0m18 1h0m16 1h0m4-6h0m16 5h0m3-1h0m2-5h0m8 8h0m3-4h0m21 1h0m2 2h0m1-2h0m3-5h0m0 3h0m7-6h0m5 5h0m14 5h0m4-5h0m65-1h0m10-1h0m104 4h0m51 1h0m6-1h0m-83 12h0m-88 1h0m-12-1h0m-31-2h0m-61 0h0m0 5h0m-35-1h0m-3-9h0m-2 1h0m-20 0h0m-14 2h0m-22 5h0m-4-5h0m-2 2h0m-2 6h0m-1-11h0m-10 11h0m-10-4h0m-7-5h0m-1 6h0m-10-8h0m-24 0h0m-10 1h0m-8 4h0m-3-2h0m-2 3h0m-2 3h0m-1-7h0m-11-2h0m-6 5h0m-10-2h0m-10 6h0m-1-9h0m-3 5h0m-6 3h0m-1-8h0m-4 9h0m-1-6h0m-5-2h0m-4 7h0m-2-2h0m-3 2h0m-2-4h0m-1 3h0m-3-7h0m-5 5h0m0 4h0m-5 2h0m-4-9h0m-2 9h0m-1-5h0m-2-6h0m5 19h0m18 1h0m1-4h0m1-4h0m1 7h0m1-3h0m2-1h0m4 2h0m3-3h0m0 5h0m3 0h0m2 3h0m7-6h0m5 6h0m3-9h0m0 9h0m7-3h0m11-4h0m10 3h0m7-1h0m6-3h0m18 4h0m41-3h0m8 4h0m4 4h0m3-10h0m14 8h0m4 0h0m30-9h0m3 10h0m8-4h0m1-6h0m2 1h0m25 2h0m0 8h0m1-5h0m17 1h0m0 4h0m6-9h0m6 7h0m24-8h0m25 6h0m17-6h0m37 4h0m68 2h0m19-4h0m44-3h0m-10 18h0m-20 3h0m-10-9h0m-56 1h0m-41 10h0m-5-9h0m-65 6h0m-13-8h0m-2 3h0m-6 0h0m-28 0h0m-3 5h0m-20 1h0m-14 0h0m-4-6h0m-12-2h0m-13 7h0m-2-5h0m-5 6h0m-9-4h0m-1 3h0m-2-3h0m-5-4h0m-10-1h0m-14 2h0m-31-2h0m-8 5h0m-13-2h0m-8 4h0m-4-5h0m-2 6h0m-1-3h0m-4 1h0m-8-6h0m-2 10h0m-5-10h0m-1 11h0m-3-5h0m-1 5h0m-6-4h0m-1-3h0m-4-2h0m-2-2h0m-1 3h0m-1-2h0m-6 8h0m-4 2h0m-3-3h0m-2-2h0m-1 3h0m-10-2h0m-9 1h0m0 7h0m6-2h0m4 0h0m8 1h0m17 1h0m11 5h0m2-4h0m4 1h0m14-3h0m6-2h0m2 7h0m5-3h0m7 3h0m37 0h0m7-6h0m27 4h0m36 2h0m9-6h0m5 8h0m19-7h0m17 6h0m7-7h0m24 6h0m8-1h0m48 5h0m50-5h0m14 2h0m83 0h0m-30 13h0m-14-6h0m-17-2h0m-6-1h0m-7 0h0m-261 3h0m-71-1h0m-3 9h0m-9-10h0m-5-1h0m-11 6h0m-14-5h0m-8-1h0m-5 0h0m-9 1h0m30 14h0m43 8h0m35-6h0m64 4h0m92 1h0m73-5h0m65-4h0m22 9h0m35-4h0m-17 15h0m-13-4h0m-4 5h0m-309-7h0m-67-3h0m69 17h0m261 5h0m11-2h0m49-8h0m13 10h0m44 5h0m-54 0h0m-59 4h0m-59 6h0m56 1h0m44 9h0m28-6h0m1-5h0m44 0h0m-68 17h0m-191 15h0m4-1h0m3 4h0m3-3h0m3 0h0m5-3h0m2-2h0m0 8h0m3 0h0m4-1h0m1-10h0m40 0h0m149 11h0m51-2h0m-48 4h0m-144-1h0m-35 5h0m-4-2h0m-17-1h0m-17 0h0m-3 4h0m-2-4h0m-4 2h0m-20 16h0m3-8h0m0 6h0m4 1h0m10 0h0m3-6h0m3 1h0m3 5h0m3-7h0m3 11h0m2-2h0m4-7h0m8-1h0m5 3h0m18 6h0m12-5h0m5 4h0m53-8h0m209 17h0m-185 2h0m-128-1h0m-14-6h0m-5 3h0m-3-2h0m-3 2h0m-2-4h0m-4 4h0m-4 4h0m0 3h0m-1-10h0m-8 6h0m4 6h0m0 8h0m9-5h0m6-1h0m3-3h0m38 1h0m4 4h0m13 0h0m2-5h0m168 8h0m62-8h0m12 8h0m4-4h0m0 2h0m2-6h0m3 1h0m2 4h0m7 3h0m9-5h0m55 7h0m37 8h0m-69 2h0m-2-3h0m-6 5h0m-24-6h0m-8 2h0m-10-5h0m-1 10h0m-21-1h0m-1-9h0m-33 18h0m40-4h0m1 7h0m2-8h0m7 1h0m4 5h0m12-7h0m7 9h0m31-7h0m18 8h0m5-3h0m9-3h0m12 1h0m14-6h0m26 10h0m20-2h0m8 2h0m9 7h0m-34 2h0m-17-1h0m-5-4h0m-31 2h0m-30 2h0m-9-2h0m-72 4h0m-3-7h0m-6 4h0m-10 1h0m-39 4h0m-59-4h0m-3-1h0m28 11h0m17-2h0m69 4h0m22 3h0m33 0h0m4-8h0m0 4h0m0 6h0m20-8h0m30-1h0m13-1h0m10 8h0m5-8h0m21 2h0m11 3h0m49 0h0m9 2h0m23 8h0m-1 7h0m-12-1h0m-86-10h0m-18 4h0m-2 6h0m-3-4h0m-69 1h0m-18-3h0m-34 7h0m-39 0h0m-11-9h0m-29 3h0m-1-4h0m-8 9h0m-19 1h0m-23 9h0m22-2h0m16-5h0m2 3h0m32 2h0m38-3h0m5-1h0m8 3h0m9-3h0m44-2h0m2 1h0m0 3h0m1 6h0m14 1h0m9-8h0m12 0h0m20-2h0m12 8h0m9-7h0m27 0h0m0 6h0m40 0h0m28 2h0m28 1h0m6-9h0m0 15h0m-8 6h0m-15-11h0m-8 3h0m-14 6h0m-12-6h0m-24 4h0m-12 0h0m-20-3h0m-21 0h0m-40-3h0m-3 6h0m-16-4h0m-6 0h0m-20 1h0m-4-1h0m-23-3h0m-40 6h0m-12 1h0m-5 1h0m-9-5h0m-8 5h0m-16 3h0m-1-9h0m-2-1h0m-3 10h0m-1-11h0m-15 8h0m-8 3h0m-2-11h0m-13 6h0m-4-2h0m-2 3h0m-5-1h0m-2 2h0m-4 2h0m-1-4h0m5 8h0m3 8h0m31 0h0m64-9h0m15 1h0m21 5h0m9 1h0m36-8h0m40 11h0m42 0h0m23-4h0m1-4h0m2 7h0m9-3h0m6-2h0m6-4h0m49 1h0m5-1h0m20 3h0m20 3h0m22 0h0m13 7h0m-6 2h0m0 6h0m-5-10h0m-7 5h0m-4 0h0m-23-5h0m-2 0h0m-10 4h0m-12-2h0m-9 6h0m-14-7h0m-9 6h0m-5 2h0m-17-2h0m0 3h0m-3-10h0m-30 5h0m-5 1h0m-3 1h0m-5-7h0m-9 8h0m-3-3h0m0 6h0m-47-7h0m-10-4h0m-4 11h0m-33-4h0m-1-6h0m-17 1h0m-10-2h0m-7 2h0m-5 1h0m-18 2h0m-12 3h0m-4 3h0m-7-1h0m-22-8h0m-27-2h0m-19 5h0m-6-5h0m-14 6h0m-6 2h0m2 6h0m14 1h0m6 3h0m38 2h0m6-1h0m2 3h0m39-5h0m36 1h0m47-5h0m4 2h0m8 8h0m11-2h0m14-9h0m8 0h0m10 3h0m3 2h0m9-1h0m5 5h0m11-9h0m34 6h0m3-1h0m3 5h0m15-9h0m4 3h0m3-3h0m8 7h0m11-1h0m0 3h0m8-10h0m7 11h0m26-2h0m2-3h0m29 3h0m15 2h0m28-3h0m14 7h0m-13 8h0m-1-8h0m-9-2h0m-8 9h0m-82-6h0m-41 3h0m-11-1h0m-15 1h0m-41 1h0m-1-8h0m-18 9h0m-7-7h0m-3 0h0m0 4h0m-13 1h0m-12-7h0m-2 10h0m-2-4h0m-6-2h0m-3 2h0m-27-1h0m-3 2h0m-8 4h0m-1-7h0m-1 7h0m-4-5h0m-45 4h0m-4-6h0m0 7h0m-6-2h0m-15-8h0m-10 3h0m0 3h0m-4-1h0m-5-3h0m-19 7h0m-25 0h0m-20-4h0m-11-5h0m9 14h0m8 8h0m73-11h0m2 5h0m3-2h0m2-1h0m8 3h0m5-1h0m38 3h0m1-6h0m17 5h0m9-5h0m2 7h0m6-6h0m16 1h0m12 4h0m11-6h0m3 9h0m19 1h0m8 0h0m26-3h0m10-4h0m6 0h0m19-1h0m5 4h0m15 4h0m8-1h0m25-4h0m22-5h0m5 1h0m13-2h0m14 2h0m7-1h0m24-1h0m52 2h0m-69 20h0m-7-4h0m-31 2h0m-5 2h0m-4-6h0m-14 2h0m-7 2h0m-25-2h0m-7 0h0m-4-2h0m-7-3h0m-18 7h0m-10-1h0m-1 3h0m-11-10h0m-4 11h0m-14-6h0m-15 3h0m-2-4h0m-1-3h0m-14 5h0m-3 1h0m-2-5h0m-4 8h0m-10-3h0m-6-3h0m-4 7h0m-2-3h0m-4 2h0m-11-7h0m-15 6h0m-49-6h0m-5 4h0m-4 3h0m-1-10h0m-15 6h0m-9 2h0m-16-8h0m-1 6h0m-3 1h0m-53 0h0m-1 13h0m5 2h0m14-3h0m15 0h0m1-6h0m16 1h0m7 4h0m26 1h0m7-7h0m1 4h0m4 1h0m3-3h0m5 7h0m67-8h0m2 2h0m15 4h0m12-7h0m35 11h0m1-10h0m1 6h0m18 3h0m9-5h0m1-3h0m9 6h0m7-1h0m31 2h0m3-9h0m2 10h0m6-3h0m6-1h0m1 4h0m8-4h0m19 4h0m3-1h0m15-5h0m14-1h0m15-1h0m-38 15h0m-11-3h0m-1-2h0m-26 1h0m-5 5h0m-7 0h0m-7 4h0m-12-9h0m-3 5h0m-18-2h0m-10 0h0m-28 4h0m-3-2h0m-24 0h0m-6 5h0m-7-11h0m-4 10h0m-2-10h0m-4 6h0m-7 2h0m-1-4h0m-4 3h0m-39-2h0m-36-2h0m-18-1h0m-49 0h0m-5 8h0m-1-2h0m-9 1h0m-8-4h0m-3-1h0m-1-4h0m-5 1h0m0 18h0m5 1h0m9-6h0m3 0h0m7 6h0m4 0h0m12-8h0m1 11h0m4 0h0m7-4h0m41-1h0m13-1h0m24 4h0m27 1h0m9-6h0m6-3h0m9 2h0m14 5h0m7-7h0m18 4h0m6-3h0m2 6h0m4-8h0m9 6h0m12 4h0m8 0h0m8-2h0m21 0h0m3 3h0m4-8h0m13-1h0m2-2h0m2 4h0m22-2h0m6 7h0m13-5h0m11 3h0m4-4h0m5 7h0m313 0h0m62-1h0m12-1h0m18-5h0m5 0h0m3 4h0m1-4h0m10 14h0m-12-1h0m-3 4h0m-15-4h0m-2 3h0m-2-4h0m-34 5h0m-1-7h0m-16 2h0m-38 7h0m-291-7h0m-25 3h0m-8 5h0m-60-9h0m0 3h0m-16 2h0m-4-4h0m-7 6h0m-4-3h0m-9 0h0m-18-3h0m-5 2h0m-6 6h0m-49-6h0m-14 4h0m-7-5h0m-12 5h0m-1-3h0m-11 1h0m0 3h0m-8-1h0m-3 2h0m-33-7h0m-5 4h0m-18-3h0m-12-4h0m-6 6h0m-2-2h0m-21-3h0m-8 15h0m9 4h0m7-1h0m5-3h0m1-4h0m3 7h0m1 3h0m1-6h0m9-1h0m15 0h0m24 3h0m4 3h0m1-3h0m7 4h0m5-3h0m10-5h0m8 7h0m18-3h0m1 4h0m18-1h0m20-1h0m3-2h0m6-2h0m6 2h0m0 2h0m9-8h0m18 8h0m3-8h0m8 10h0m13-4h0m10-4h0m13-2h0m1 6h0m6-5h0m43 5h0m4-7h0m41 6h0m24 1h0m374-2h0m21-5h0m0 8h0m9 1h0m8 10h0m-9 3h0m-1-5h0m-5 6h0m-400-5h0m-14 5h0m-12-7h0m-1 6h0m-15-1h0m-32-9h0m-2 9h0m-3-7h0m-1 9h0m-23-3h0m-17 0h0m-3 1h0m-2-6h0m0 8h0m-8-9h0m-4 1h0m-16 6h0m-7-4h0m-1-4h0m-13 1h0m-1 7h0m-11-8h0m-4 4h0m-4-5h0m0 11h0m-3-3h0m-16-2h0m-12-5h0m0 9h0m-15-6h0m-3-1h0m-16 6h0m-9-2h0m-8-5h0m-3 3h0m0 5h0m-10-6h0m-6 0h0m-11 2h0m-8 4h0m-1-4h0m-20-4h0m-3 9h0m-7-9h0m-6 0h0m-9-1h0m14 13h0m16 9h0m3-1h0m19-1h0m10-5h0m19 7h0m7-7h0m52-3h0m4 0h0m14 1h0m3 1h0m2-2h0m36 2h0m0 3h0m11-2h0m2-1h0m7 8h0m18-3h0m30-2h0m0 4h0m10-2h0m2-5h0m1 3h0m3-3h0m4 4h0m4-7h0m9 6h0m50-5h0m401 5h0m9 0h0m0 4h0m12-10h0m0 3h0m3 15h0m-10 4h0m-3-3h0m-3-7h0m-2 1h0m-413 3h0m-17-4h0m-15 3h0m-7 3h0m-5-3h0m-9 1h0m-10-2h0m-3 3h0m0 5h0m-5-4h0m-12-5h0m-7 7h0m-40-1h0m-61 4h0m-20-9h0m-11 9h0m-18-7h0m-9 6h0m-11-9h0m-18 0h0m-3 4h0m-2 1h0m-14 1h0m-7-6h0m55 14h0m106 8h0m31-2h0m25-4h0m3 2h0m10 1h0m2-3h0m6 3h0m4-4h0m3-1h0m2 3h0m9 4h0m1-7h0m2-3h0m2 3h0m17-1h0m9 7h0m5-8h0m11 0h0m402 6h0m4 3h0m18-7h0m6 5h0m2 9h0m-5 2h0m-7-3h0m-9-1h0m-3 1h0m-425-4h0m-47 9h0m-1-9h0m-3 1h0m-12 8h0m-3-3h0m-3 3h0m-9-2h0m-18-1h0m-15-6h0m-25 9h0m-28 0h0m-4 2h0m-2-6h0m-6 0h0m-3-4h0m-67 0h0m30 19h0m13-2h0m8-1h0m32 5h0m28-4h0m18 3h0m35-6h0m3-1h0m2 7h0m12-5h0m13 2h0m5-2h0m1 3h0m15-7h0m13 2h0m461 1h0m7 3h0m-4 6h0m-2 1h0m-478 0h0m-16 10h0m-2-7h0m-4 1h0m-2 2h0m-6-6h0m-2 4h0m-15 2h0m-4 4h0m-9-9h0m-4 5h0m-11-4h0m-10 5h0m-2-5h0m-3-2h0m-5 1h0m-3 9h0m-2-5h0m-1-5h0m9 13h0m28 5h0m5-5h0m11 0h0m8 1h0m9-3h0m5 4h0m-787 149h0m5 0h0m133 9h0m-14 5h0m-3-3h0m-5-1h0m-2-3h0m-6 0h0m-9 7h0m-3-1h0m-6-1h0m-18-2h0m-9 3h0m-15-6h0m0 5h0m-9-4h0m-1 4h0m-8 0h0m-3-5h0m0 5h0m-7 1h0m-3-2h0m-1-8h0m-2 4h0m-3-3h0m-17 4h0m-3-3h0m-2 2h0m0 6h0m-1-3h0m-3-7h0m-8 7h0m-1-6h0m-3 8h0m-5-6h0m0 8h0m-3-8h0m-1 8h0m-2-5h0m-6 4h0m-8 3h0m1 3h0m8 3h0m3-5h0m1 2h0m1 6h0m4-7h0m1 3h0m1 5h0m6-9h0m0 3h0m9-5h0m0 7h0m1 4h0m3-10h0m1 9h0m8-3h0m0 3h0m4 0h0m2-6h0m3-4h0m3 3h0m13 8h0m4 0h0m7-3h0m20-1h0m9 4h0m5-9h0m4-1h0m0 3h0m2 6h0m1-6h0m5-4h0m5 7h0m12-1h0m5-3h0m2 8h0m1-4h0m3-5h0m6-1h0m5 4h0m5 2h0m9 4h0m8-8h0m2 5h0m0 3h0m8-3h0m2-4h0m9 2h0m36 15h0m-10-1h0m-11-4h0m-1 4h0m-3-8h0m-2 2h0m0 3h0m-5-2h0m-14-3h0m-2 10h0m-6-9h0m-4 0h0m-4 5h0m-4-4h0m-2 3h0m-2 6h0m-3 0h0m-1-3h0m-4-1h0m-3-5h0m0 6h0m-8 0h0m-3-4h0m-3 7h0m-2-1h0m-1-8h0m0 3h0m-5-1h0m-5-1h0m-3 7h0m-4-4h0m-3 2h0m-3 3h0m-3 0h0m-2-8h0m-11 5h0m-1 2h0m-1-7h0m-3 8h0m-11-5h0m-5 4h0m-11-9h0m-9 1h0m-3 6h0m-5 2h0m-5-6h0m-1-4h0m-2 5h0m-2 0h0m-5 4h0m-2-4h0m-6-4h0m-3 9h0m-2-2h0m-2-4h0m-3-4h0m0 9h0m-3-7h0m0 3h0m-4 0h0m-2-2h0m-3 0h0m-2 5h0m-1-6h0m-3 2h0m-5-4h0m24 16h0m4-1h0m3 2h0m9-5h0m7 3h0m8 7h0m7-8h0m9-2h0m5 6h0m7 2h0m5 3h0m1-8h0m0 3h0m3 1h0m2-1h0m4-5h0m0 8h0m1-2h0m3-1h0m3-3h0m1-2h0m2 5h0m6 0h0m0 3h0m3-6h0m3 4h0m3-7h0m2 2h0m0 4h0m10-3h0m3 8h0m2-3h0m9-8h0m3 11h0m2-4h0m1 4h0m1-3h0m3-4h0m3 4h0m5-3h0m3-1h0m1 3h0m1 4h0m1-8h0m1 3h0m1-5h0m0 7h0m1-5h0m1 7h0m3-5h0m15-2h0m3 2h0m3-5h0m7 4h0m0 7h0m1-4h0m4-6h0m0 3h0m8-3h0m1 6h0m2 2h0m4-1h0m1-5h0m4 5h0m1-4h0m3 0h0m4 5h0m22-4h0m3 3h0m14 2h0m45 12h0m-5 0h0m-27-1h0m-2-6h0m-3 0h0m0 3h0m-2-3h0m-2 2h0m-1 4h0m-2-6h0m-4 1h0m0 5h0m-2 2h0m-1-7h0m0 3h0m-2-6h0m-1 5h0m-3 2h0m-1-7h0m-17 5h0m-4-5h0m-11 8h0m-10-8h0m0 3h0m-1 6h0m-20 0h0m-4-7h0m-10 8h0m-3-9h0m-3-1h0m-5 5h0m-15-6h0m-1 3h0m-3 7h0m-2-3h0m-3-1h0m-2-4h0m-2 5h0m-5-1h0m-1 2h0m-9-3h0m-1 5h0m-1-7h0m-1-3h0m-1 2h0m-2 2h0m-8-2h0m-4 4h0m-14-3h0m-6-2h0m-2 8h0m-1-8h0m-3 7h0m-1-8h0m-26 0h0m40 17h0m11-4h0m12 10h0m9-8h0m9-1h0m2-2h0m10 3h0m3 0h0m9 5h0m0 3h0m2-5h0m2 5h0m3-5h0m15 4h0m4-8h0m21 6h0m2 3h0m2-6h0m60 4h0m3 1h0m20-9h0m12 4h0m0 3h0m3 1h0m10-9h0m0 10h0m2-6h0m0 3h0m4-6h0m1 6h0m8-2h0m7 4h0m3-7h0m2 4h0m0 2h0m3-2h0m0 5h0m4-1h0m2-2h0m2 1h0m4 0h0m10 0h0m18 14h0m-14-7h0m-2 5h0m-3-6h0m-1 5h0m-4-6h0m0 8h0m-1-3h0m-2-3h0m-3 7h0m-2-1h0m-1-8h0m-2 6h0m-2 1h0m-2-2h0m-2-3h0m0 6h0m-4-10h0m-4 4h0m-2 6h0m-4-9h0m0 5h0m-2-6h0m0 5h0m0 5h0m-3 1h0m-10-4h0m-1 2h0m-4-1h0m-4 1h0m-2 2h0m-2-2h0m-1-4h0m-48-1h0m-3-4h0m-23 3h0m0 3h0m-18 0h0m-6-1h0m0 3h0m-4-8h0m0 8h0m-3-4h0m-3-4h0m-1 4h0m-7 2h0m-10-3h0m-7 7h0m32 3h0m0 3h0m6-2h0m4 2h0m8 6h0m5 1h0m2-5h0m3-3h0m3 0h0m12 3h0m5-3h0m8 7h0m18-7h0m29 0h0m3-1h0m2-1h0m0 2h0m3 2h0m2 3h0m7-5h0m3 6h0m1-5h0m2 5h0m2-9h0m0 5h0m1 5h0m1-5h0m3-4h0m1 8h0m1-5h0m1 6h0m2-3h0m1-6h0m1 3h0m3-2h0m1-2h0m3 11h0m4-6h0m2-3h0m9 2h0m2-3h0m6 3h0m6 2h0m1-5h0m9 1h0m5-1h0m9 2h0m2 2h0m4 5h0m3 0h0m2-5h0m19 15h0m-14-5h0m-2-3h0m-1 4h0m-3 4h0m-8-7h0m-4 1h0m0 4h0m-3-5h0m-1 2h0m-1 3h0m-2-5h0m-4 1h0m0 4h0m-1 2h0m-7-7h0m-5 3h0m-4 6h0m-1-4h0m-3 0h0m0 3h0m-2-2h0m-2-7h0m-3 9h0m-5-6h0m-6-2h0m-1 3h0m-5 5h0m-7-9h0m-4 11h0m-2-9h0m-2-2h0m0 4h0m-3-3h0m-1 4h0m-5-5h0m0 3h0m-3 7h0m-2-7h0m-4 7h0m-2 0h0m-2-7h0m-6-3h0m-4 1h0m-19 0h0m-9 0h0m-3 4h0m-3 1h0m-12-6h0m-1 6h0m-10-2h0m-8 1h0m26 10h0m12-3h0m2 4h0m4-2h0m2 6h0m6 2h0m14-9h0m6 4h0m5 4h0m5 2h0m1-2h0m21 0h0m8-4h0m3 5h0m2-5h0m3-2h0m0 7h0m5-9h0m2 3h0m6-3h0m5 3h0m0 3h0m16-5h0m8 2h0m7-4h0m0 5h0m3-1h0m28-2h0m-78 11h0m-6 3h0m-8 0h0m-1-4h0m-2 6h0m910 20h0m-11 2h0m-22 4h0m-5-4h0m-4 4h0m-11-2h0m-56 2h0m-8 2h0m-1-5h0m-3 6h0m-2-5h0m-4 2h0m-3-5h0m-3 8h0m-2-5h0m-1 4h0m-4-8h0m-6 8h0m6 4h0m10 5h0m2-6h0m5 6h0m5-5h0m2 4h0"/>
<path class="pt" stroke="#fcfdbf" d="M548 435h0m612 342h0m497-5h0m-474 80h0m-40 30h0m-470 240h0m-115 4h0m-20 7h0"/>
</g>
<!-- axes -->
<g stroke="#000" stroke-width="4.3" fill="none" stroke-linecap="butt">
<path d="M211 141V1306.5"/>
<path d="M208.85 1306.5H1819.3"/>
<path d="M196.5 195.7H211M196.5 416.1H211M196.5 636.5H211M196.5 856.9H211M196.5 1077.3H211M196.5 1297.7H211"/>
<path d="M423.1 1306.5V1321M770.7 1306.5V1321M1118.3 1306.5V1321M1465.9 1306.5V1321M1813.5 1306.5V1321"/>
</g>
<g class="tk" text-anchor="end">
<text x="183.2" y="213.5">20</text>
<text x="183.2" y="433.9">15</text>
<text x="183.2" y="654.3">10</text>
<text x="183.2" y="874.7">5</text>
<text x="183.2" y="1095.1">0</text>
<text x="183.2" y="1315.5">-5</text>
</g>
<g class="tk" text-anchor="middle">
<text x="423.1" y="1369.5">-5</text>
<text x="770.7" y="1369.5">0</text>
<text x="1118.3" y="1369.5">5</text>
<text x="1465.9" y="1369.5">10</text>
<text x="1813.5" y="1369.5">15</text>
</g>
<text class="ax" x="1013.5" y="1436" text-anchor="middle">UMAP_1</text>
<text class="ax" transform="translate(93.7 725.5) rotate(-90)" text-anchor="middle">UMAP_2</text>
<!-- legend -->
<rect x="1875.5" y="579.8" width="64" height="318.6" fill="url(#mg)"/>
<g stroke="#fff" stroke-width="1.6" fill="none">
<path d="M1875.5 668.6h12.8M1926.7 668.6h12.8M1875.5 783.7h12.8M1926.7 783.7h12.8M1875.5 898.6h12.8M1926.7 898.6h12.8"/>
</g>
<g class="tk">
<text x="1969" y="687.2">1.0</text>
<text x="1969" y="802.3">0.5</text>
<text x="1969" y="917.2">0.0</text>
</g>
</svg>
</body>
</html>
